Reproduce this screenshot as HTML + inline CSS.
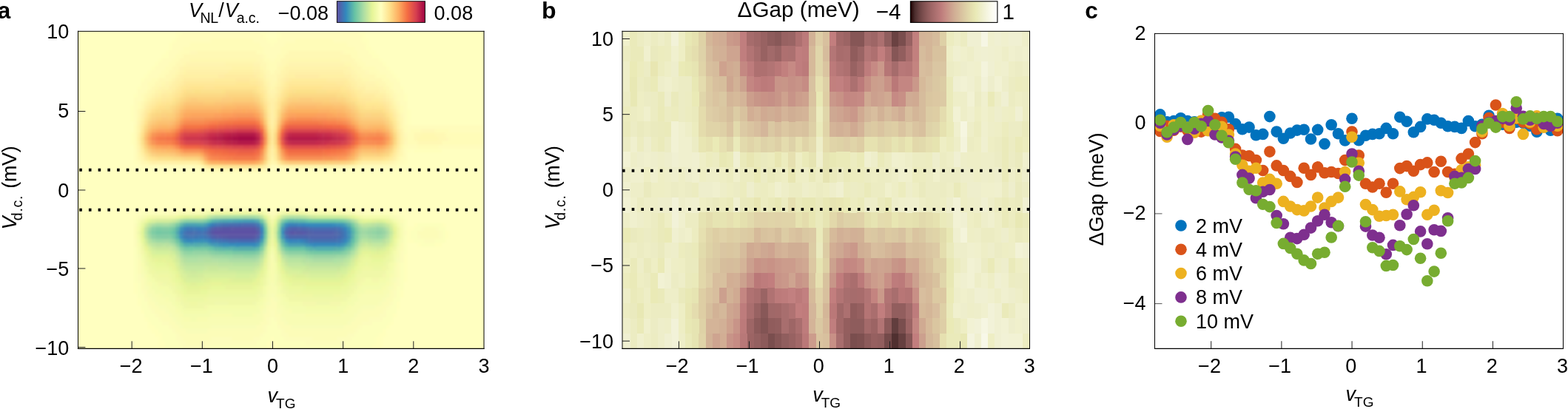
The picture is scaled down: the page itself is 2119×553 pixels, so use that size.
<!DOCTYPE html>
<html lang="en">
<head>
<meta charset="utf-8">
<title>Figure</title>
<style>
html,body{margin:0;padding:0;background:#fff;}
body{width:2119px;height:553px;overflow:hidden;}
svg{display:block;font-family:"Liberation Sans",sans-serif;}
text{fill:#000;}
</style>
</head>
<body>
<svg width="2119" height="553" viewBox="0 0 2119 553" font-size="27">
<defs><clipPath id="ca"><rect x="105.4" y="42.0" width="548.7" height="429.3"/></clipPath><filter id="fa" x="-5%" y="-5%" width="110%" height="110%" color-interpolation-filters="sRGB"><feGaussianBlur stdDeviation="1.6"/></filter></defs>
<g clip-path="url(#ca)"><g filter="url(#fa)">
<rect x="95.4" y="32.0" width="568.7" height="225" fill="#ffffc0"/>
<rect x="95.4" y="257" width="568.7" height="224.3" fill="#ffffc0"/>
<path fill="#ffffbc" d="M237.6 41.8h9.9v5.7h-9.9zM351.2 41.8h9.9v5.7h-9.9zM374.8 41.8h5.1v5.7h-5.1zM483.6 41.8h9.9v5.7h-9.9zM237.6 47.1h5.1v5.7h-5.1zM355.9 47.1h5.1v5.7h-5.1zM374.8 47.1h5.1v5.7h-5.1zM488.3 47.1h5.1v5.7h-5.1zM232.9 52.4h5.1v5.7h-5.1zM360.6 52.4h14.6v5.7h-14.6zM488.3 52.4h9.9v5.7h-9.9zM228.2 57.7h5.1v5.7h-5.1zM365.4 57.7h5.1v5.7h-5.1zM493.1 57.7h5.1v5.7h-5.1zM228.2 63h5.1v5.7h-5.1zM493.1 63h9.9v5.7h-9.9zM223.5 68.3h5.1v5.7h-5.1zM497.8 68.3h9.9v5.7h-9.9zM218.7 73.6h9.9v5.7h-9.9zM502.5 73.6h9.9v5.7h-9.9zM214 78.9h5.1v5.7h-5.1zM512 78.9h5.1v5.7h-5.1zM209.3 84.2h5.1v5.7h-5.1zM516.7 84.2h5.1v5.7h-5.1zM204.5 89.5h5.1v5.7h-5.1zM521.5 89.5h5.1v5.7h-5.1zM199.8 94.8h5.1v5.7h-5.1zM526.2 94.8h5.1v5.7h-5.1zM195.1 100.1h5.1v5.7h-5.1zM530.9 100.1h5.1v5.7h-5.1zM190.3 105.4h5.1v5.7h-5.1zM535.6 105.4h5.1v5.7h-5.1zM185.6 116h5.1v5.7h-5.1zM540.4 116h5.1v5.7h-5.1zM180.9 126.6h5.1v5.7h-5.1zM545.1 126.6h5.1v5.7h-5.1zM545.1 131.9h5.1v5.7h-5.1zM176.2 142.5h5.1v5.7h-5.1zM176.2 147.8h5.1v5.7h-5.1zM549.8 147.8h5.1v5.7h-5.1zM176.2 153.1h5.1v5.7h-5.1zM549.8 153.1h5.1v5.7h-5.1zM176.2 158.4h5.1v5.7h-5.1zM549.8 158.4h5.1v5.7h-5.1zM549.8 163.7h5.1v5.7h-5.1zM176.2 179.6h5.1v5.7h-5.1zM176.2 184.9h5.1v5.7h-5.1zM176.2 190.2h5.1v5.7h-5.1zM549.8 200.8h5.1v5.7h-5.1zM559.3 200.8h38.2v5.7h-38.2zM180.9 216.7h5.1v5.7h-5.1zM545.1 216.7h5.1v5.7h-5.1zM535.6 222h5.1v5.7h-5.1zM247.1 280.3h28.8v5.7h-28.8zM360.6 280.3h5.1v5.7h-5.1zM370.1 280.3h5.1v5.7h-5.1zM422.1 280.3h52.4v5.7h-52.4zM530.9 285.6h5.1v5.7h-5.1zM180.9 290.9h5.1v5.7h-5.1zM559.3 301.5h5.1v5.7h-5.1zM597.1 301.5h5.1v5.7h-5.1zM549.8 306.8h9.9v5.7h-9.9zM549.8 312.1h5.1v5.7h-5.1zM601.9 312.1h5.1v5.7h-5.1zM549.8 317.4h5.1v5.7h-5.1zM601.9 317.4h5.1v5.7h-5.1zM549.8 322.7h9.9v5.7h-9.9zM564 328h5.1v5.7h-5.1zM587.7 328h9.9v5.7h-9.9zM545.1 343.9h5.1v5.7h-5.1zM545.1 349.2h5.1v5.7h-5.1zM545.1 354.5h5.1v5.7h-5.1zM545.1 359.8h5.1v5.7h-5.1zM545.1 365.1h5.1v5.7h-5.1zM545.1 370.4h5.1v5.7h-5.1zM545.1 375.7h5.1v5.7h-5.1zM180.9 381h5.1v5.7h-5.1zM180.9 386.3h5.1v5.7h-5.1zM180.9 391.6h5.1v5.7h-5.1zM540.4 391.6h5.1v5.7h-5.1zM540.4 396.9h5.1v5.7h-5.1zM185.6 402.2h5.1v5.7h-5.1zM185.6 407.5h5.1v5.7h-5.1zM535.6 407.5h5.1v5.7h-5.1zM535.6 412.8h5.1v5.7h-5.1zM190.3 418.1h5.1v5.7h-5.1zM530.9 423.4h5.1v5.7h-5.1zM195.1 428.7h5.1v5.7h-5.1zM199.8 434h5.1v5.7h-5.1zM526.2 434h5.1v5.7h-5.1zM199.8 439.3h9.9v5.7h-9.9zM521.5 439.3h5.1v5.7h-5.1zM204.5 444.6h9.9v5.7h-9.9zM516.7 444.6h5.1v5.7h-5.1zM209.3 449.9h9.9v5.7h-9.9zM512 449.9h9.9v5.7h-9.9zM214 455.2h5.1v5.7h-5.1zM365.4 455.2h5.1v5.7h-5.1zM507.3 455.2h9.9v5.7h-9.9zM214 460.5h9.9v5.7h-9.9zM360.6 460.5h14.6v5.7h-14.6zM507.3 460.5h9.9v5.7h-9.9zM214 465.8h9.9v5.7h-9.9zM360.6 465.8h14.6v5.7h-14.6zM502.5 465.8h14.6v5.7h-14.6z"/>
<path fill="#fffcbc" d="M247.1 41.8h104.5v5.7h-104.5zM379.6 41.8h104.5v5.7h-104.5zM242.4 47.1h113.9v5.7h-113.9zM379.6 47.1h109.2v5.7h-109.2zM237.6 52.4h47.7v5.7h-47.7zM341.7 52.4h19.3v5.7h-19.3zM374.8 52.4h24.1v5.7h-24.1zM450.5 52.4h38.2v5.7h-38.2zM232.9 57.7h24.1v5.7h-24.1zM351.2 57.7h14.6v5.7h-14.6zM370.1 57.7h14.6v5.7h-14.6zM469.4 57.7h24.1v5.7h-24.1zM232.9 63h14.6v5.7h-14.6zM355.9 63h24.1v5.7h-24.1zM478.9 63h14.6v5.7h-14.6zM228.2 68.3h14.6v5.7h-14.6zM355.9 68.3h24.1v5.7h-24.1zM483.6 68.3h14.6v5.7h-14.6zM228.2 73.6h9.9v5.7h-9.9zM360.6 73.6h14.6v5.7h-14.6zM483.6 73.6h19.3v5.7h-19.3zM218.7 78.9h14.6v5.7h-14.6zM365.4 78.9h5.1v5.7h-5.1zM488.3 78.9h24.1v5.7h-24.1zM214 84.2h14.6v5.7h-14.6zM493.1 84.2h24.1v5.7h-24.1zM209.3 89.5h14.6v5.7h-14.6zM507.3 89.5h14.6v5.7h-14.6zM204.5 94.8h14.6v5.7h-14.6zM512 94.8h14.6v5.7h-14.6zM199.8 100.1h14.6v5.7h-14.6zM521.5 100.1h9.9v5.7h-9.9zM195.1 105.4h9.9v5.7h-9.9zM526.2 105.4h9.9v5.7h-9.9zM190.3 110.7h9.9v5.7h-9.9zM530.9 110.7h9.9v5.7h-9.9zM190.3 116h9.9v5.7h-9.9zM530.9 116h9.9v5.7h-9.9zM185.6 121.3h9.9v5.7h-9.9zM535.6 121.3h9.9v5.7h-9.9zM185.6 126.6h5.1v5.7h-5.1zM540.4 126.6h5.1v5.7h-5.1zM180.9 131.9h9.9v5.7h-9.9zM540.4 131.9h5.1v5.7h-5.1zM180.9 137.2h5.1v5.7h-5.1zM540.4 137.2h9.9v5.7h-9.9zM180.9 142.5h5.1v5.7h-5.1zM545.1 142.5h5.1v5.7h-5.1zM180.9 147.8h5.1v5.7h-5.1zM545.1 147.8h5.1v5.7h-5.1zM180.9 153.1h5.1v5.7h-5.1zM545.1 153.1h5.1v5.7h-5.1zM180.9 158.4h5.1v5.7h-5.1zM545.1 158.4h5.1v5.7h-5.1zM180.9 163.7h5.1v5.7h-5.1zM545.1 163.7h5.1v5.7h-5.1zM549.8 169h104.5v5.7h-104.5zM549.8 174.3h5.1v5.7h-5.1zM606.6 174.3h47.7v5.7h-47.7zM549.8 195.5h14.6v5.7h-14.6zM592.4 195.5h61.9v5.7h-61.9zM180.9 200.8h5.1v5.7h-5.1zM545.1 200.8h5.1v5.7h-5.1zM180.9 206.1h5.1v5.7h-5.1zM545.1 206.1h5.1v5.7h-5.1zM180.9 211.4h5.1v5.7h-5.1zM545.1 211.4h5.1v5.7h-5.1zM185.6 216.7h5.1v5.7h-5.1zM540.4 216.7h5.1v5.7h-5.1zM190.3 222h71.4v5.7h-71.4zM365.4 222h9.9v5.7h-9.9zM488.3 222h47.7v5.7h-47.7zM270.8 227.3h9.9v5.7h-9.9zM355.9 227.3h9.9v5.7h-9.9z"/>
<path fill="#fffcb8" d="M284.9 52.4h57.2v5.7h-57.2zM398.5 52.4h52.4v5.7h-52.4zM256.6 57.7h95v5.7h-95zM384.3 57.7h85.5v5.7h-85.5zM247.1 63h109.2v5.7h-109.2zM379.6 63h99.7v5.7h-99.7zM242.4 68.3h14.6v5.7h-14.6zM346.4 68.3h9.9v5.7h-9.9zM379.6 68.3h9.9v5.7h-9.9zM464.7 68.3h19.3v5.7h-19.3zM237.6 73.6h9.9v5.7h-9.9zM355.9 73.6h5.1v5.7h-5.1zM374.8 73.6h9.9v5.7h-9.9zM474.2 73.6h9.9v5.7h-9.9zM232.9 78.9h9.9v5.7h-9.9zM355.9 78.9h9.9v5.7h-9.9zM370.1 78.9h9.9v5.7h-9.9zM478.9 78.9h9.9v5.7h-9.9zM228.2 84.2h9.9v5.7h-9.9zM360.6 84.2h14.6v5.7h-14.6zM483.6 84.2h9.9v5.7h-9.9zM223.5 89.5h9.9v5.7h-9.9zM360.6 89.5h14.6v5.7h-14.6zM488.3 89.5h19.3v5.7h-19.3zM218.7 94.8h9.9v5.7h-9.9zM365.4 94.8h5.1v5.7h-5.1zM497.8 94.8h14.6v5.7h-14.6zM214 100.1h9.9v5.7h-9.9zM507.3 100.1h14.6v5.7h-14.6zM204.5 105.4h9.9v5.7h-9.9zM516.7 105.4h9.9v5.7h-9.9zM199.8 110.7h9.9v5.7h-9.9zM521.5 110.7h9.9v5.7h-9.9zM199.8 116h5.1v5.7h-5.1zM526.2 116h5.1v5.7h-5.1zM195.1 121.3h5.1v5.7h-5.1zM530.9 121.3h5.1v5.7h-5.1zM190.3 126.6h5.1v5.7h-5.1zM535.6 126.6h5.1v5.7h-5.1zM190.3 131.9h5.1v5.7h-5.1zM535.6 131.9h5.1v5.7h-5.1zM185.6 137.2h5.1v5.7h-5.1zM185.6 142.5h5.1v5.7h-5.1zM540.4 142.5h5.1v5.7h-5.1zM540.4 147.8h5.1v5.7h-5.1zM180.9 169h5.1v5.7h-5.1zM545.1 169h5.1v5.7h-5.1zM180.9 174.3h5.1v5.7h-5.1zM545.1 174.3h5.1v5.7h-5.1zM554.6 174.3h14.6v5.7h-14.6zM587.7 174.3h19.3v5.7h-19.3zM180.9 179.6h5.1v5.7h-5.1zM549.8 179.6h9.9v5.7h-9.9zM601.9 179.6h52.4v5.7h-52.4zM180.9 184.9h5.1v5.7h-5.1zM549.8 184.9h9.9v5.7h-9.9zM606.6 184.9h47.7v5.7h-47.7zM180.9 190.2h5.1v5.7h-5.1zM549.8 190.2h14.6v5.7h-14.6zM597.1 190.2h57.2v5.7h-57.2zM180.9 195.5h5.1v5.7h-5.1zM545.1 195.5h5.1v5.7h-5.1zM564 195.5h28.8v5.7h-28.8zM540.4 211.4h5.1v5.7h-5.1zM535.6 216.7h5.1v5.7h-5.1zM261.3 222h9.9v5.7h-9.9zM483.6 222h5.1v5.7h-5.1zM280.2 227.3h76.1v5.7h-76.1z"/>
<path fill="#fff8b8" d="M256.6 68.3h9.9v5.7h-9.9zM460 68.3h5.1v5.7h-5.1zM351.2 73.6h5.1v5.7h-5.1zM374.8 84.2h5.1v5.7h-5.1zM493.1 94.8h5.1v5.7h-5.1zM530.9 126.6h5.1v5.7h-5.1zM535.6 137.2h5.1v5.7h-5.1zM540.4 153.1h5.1v5.7h-5.1zM568.8 174.3h19.3v5.7h-19.3zM545.1 179.6h5.1v5.7h-5.1zM601.9 184.9h5.1v5.7h-5.1zM545.1 190.2h5.1v5.7h-5.1z"/>
<path fill="#fff8b4" d="M266 68.3h80.8v5.7h-80.8zM389 68.3h71.4v5.7h-71.4zM247.1 73.6h104.5v5.7h-104.5zM384.3 73.6h90.3v5.7h-90.3zM242.4 78.9h14.6v5.7h-14.6zM346.4 78.9h9.9v5.7h-9.9zM379.6 78.9h9.9v5.7h-9.9zM460 78.9h19.3v5.7h-19.3zM237.6 84.2h9.9v5.7h-9.9zM351.2 84.2h9.9v5.7h-9.9zM379.6 84.2h5.1v5.7h-5.1zM474.2 84.2h9.9v5.7h-9.9zM232.9 89.5h9.9v5.7h-9.9zM355.9 89.5h5.1v5.7h-5.1zM374.8 89.5h5.1v5.7h-5.1zM478.9 89.5h9.9v5.7h-9.9zM228.2 94.8h9.9v5.7h-9.9zM360.6 94.8h5.1v5.7h-5.1zM370.1 94.8h9.9v5.7h-9.9zM483.6 94.8h9.9v5.7h-9.9zM223.5 100.1h9.9v5.7h-9.9zM360.6 100.1h14.6v5.7h-14.6zM488.3 100.1h19.3v5.7h-19.3zM214 105.4h14.6v5.7h-14.6zM365.4 105.4h9.9v5.7h-9.9zM497.8 105.4h19.3v5.7h-19.3zM209.3 110.7h9.9v5.7h-9.9zM365.4 110.7h5.1v5.7h-5.1zM512 110.7h9.9v5.7h-9.9zM204.5 116h5.1v5.7h-5.1zM521.5 116h5.1v5.7h-5.1zM199.8 121.3h5.1v5.7h-5.1zM526.2 121.3h5.1v5.7h-5.1zM195.1 126.6h5.1v5.7h-5.1zM530.9 131.9h5.1v5.7h-5.1zM190.3 137.2h5.1v5.7h-5.1zM535.6 142.5h5.1v5.7h-5.1zM185.6 147.8h5.1v5.7h-5.1zM185.6 153.1h5.1v5.7h-5.1zM540.4 158.4h5.1v5.7h-5.1zM540.4 163.7h5.1v5.7h-5.1zM540.4 169h5.1v5.7h-5.1zM559.3 179.6h9.9v5.7h-9.9zM587.7 179.6h14.6v5.7h-14.6zM545.1 184.9h5.1v5.7h-5.1zM559.3 184.9h5.1v5.7h-5.1zM592.4 184.9h9.9v5.7h-9.9zM564 190.2h33.5v5.7h-33.5zM540.4 200.8h5.1v5.7h-5.1zM540.4 206.1h5.1v5.7h-5.1zM185.6 211.4h5.1v5.7h-5.1zM190.3 216.7h5.1v5.7h-5.1zM530.9 216.7h5.1v5.7h-5.1zM360.6 222h5.1v5.7h-5.1zM374.8 222h5.1v5.7h-5.1zM474.2 222h9.9v5.7h-9.9z"/>
<path fill="#fff8b0" d="M256.6 78.9h90.3v5.7h-90.3zM389 78.9h71.4v5.7h-71.4zM247.1 84.2h5.1v5.7h-5.1zM384.3 84.2h5.1v5.7h-5.1zM464.7 84.2h9.9v5.7h-9.9zM351.2 89.5h5.1v5.7h-5.1zM379.6 89.5h5.1v5.7h-5.1zM474.2 89.5h5.1v5.7h-5.1zM237.6 94.8h5.1v5.7h-5.1zM355.9 94.8h5.1v5.7h-5.1zM478.9 94.8h5.1v5.7h-5.1zM232.9 100.1h5.1v5.7h-5.1zM483.6 100.1h5.1v5.7h-5.1zM228.2 105.4h5.1v5.7h-5.1zM360.6 105.4h5.1v5.7h-5.1zM488.3 105.4h9.9v5.7h-9.9zM218.7 110.7h5.1v5.7h-5.1zM370.1 110.7h5.1v5.7h-5.1zM507.3 110.7h5.1v5.7h-5.1zM209.3 116h5.1v5.7h-5.1zM365.4 116h5.1v5.7h-5.1zM516.7 116h5.1v5.7h-5.1zM204.5 121.3h5.1v5.7h-5.1zM521.5 121.3h5.1v5.7h-5.1zM199.8 126.6h5.1v5.7h-5.1zM526.2 126.6h5.1v5.7h-5.1zM195.1 131.9h5.1v5.7h-5.1zM530.9 137.2h5.1v5.7h-5.1zM190.3 142.5h5.1v5.7h-5.1zM535.6 147.8h5.1v5.7h-5.1zM185.6 158.4h5.1v5.7h-5.1zM568.8 179.6h19.3v5.7h-19.3zM564 184.9h28.8v5.7h-28.8zM540.4 195.5h5.1v5.7h-5.1zM185.6 206.1h5.1v5.7h-5.1zM535.6 211.4h5.1v5.7h-5.1zM195.1 216.7h5.1v5.7h-5.1zM365.4 216.7h5.1v5.7h-5.1zM270.8 222h5.1v5.7h-5.1zM379.6 222h5.1v5.7h-5.1zM469.4 222h5.1v5.7h-5.1z"/>
<path fill="#fff4b0" d="M251.8 84.2h52.4v5.7h-52.4zM341.7 84.2h9.9v5.7h-9.9zM389 84.2h76.1v5.7h-76.1zM242.4 89.5h5.1v5.7h-5.1zM469.4 89.5h5.1v5.7h-5.1zM474.2 94.8h5.1v5.7h-5.1zM355.9 100.1h5.1v5.7h-5.1zM374.8 100.1h5.1v5.7h-5.1zM478.9 100.1h5.1v5.7h-5.1zM223.5 110.7h5.1v5.7h-5.1zM360.6 110.7h5.1v5.7h-5.1zM493.1 110.7h14.6v5.7h-14.6zM214 116h5.1v5.7h-5.1zM512 116h5.1v5.7h-5.1zM365.4 121.3h5.1v5.7h-5.1zM185.6 163.7h5.1v5.7h-5.1zM540.4 174.3h5.1v5.7h-5.1zM185.6 200.8h5.1v5.7h-5.1zM526.2 216.7h5.1v5.7h-5.1zM384.3 222h5.1v5.7h-5.1zM455.2 222h14.6v5.7h-14.6z"/>
<path fill="#fff4ac" d="M303.9 84.2h38.2v5.7h-38.2zM247.1 89.5h66.6v5.7h-66.6zM341.7 89.5h9.9v5.7h-9.9zM384.3 89.5h85.5v5.7h-85.5zM242.4 94.8h5.1v5.7h-5.1zM351.2 94.8h5.1v5.7h-5.1zM379.6 94.8h9.9v5.7h-9.9zM464.7 94.8h9.9v5.7h-9.9zM237.6 100.1h5.1v5.7h-5.1zM379.6 100.1h5.1v5.7h-5.1zM474.2 100.1h5.1v5.7h-5.1zM232.9 105.4h5.1v5.7h-5.1zM355.9 105.4h5.1v5.7h-5.1zM374.8 105.4h5.1v5.7h-5.1zM478.9 105.4h9.9v5.7h-9.9zM228.2 110.7h5.1v5.7h-5.1zM374.8 110.7h5.1v5.7h-5.1zM483.6 110.7h9.9v5.7h-9.9zM218.7 116h9.9v5.7h-9.9zM360.6 116h5.1v5.7h-5.1zM370.1 116h5.1v5.7h-5.1zM493.1 116h19.3v5.7h-19.3zM209.3 121.3h5.1v5.7h-5.1zM360.6 121.3h5.1v5.7h-5.1zM370.1 121.3h5.1v5.7h-5.1zM512 121.3h9.9v5.7h-9.9zM204.5 126.6h5.1v5.7h-5.1zM365.4 126.6h5.1v5.7h-5.1zM521.5 126.6h5.1v5.7h-5.1zM199.8 131.9h5.1v5.7h-5.1zM526.2 131.9h5.1v5.7h-5.1zM195.1 137.2h5.1v5.7h-5.1zM530.9 142.5h5.1v5.7h-5.1zM190.3 147.8h5.1v5.7h-5.1zM535.6 153.1h5.1v5.7h-5.1zM535.6 158.4h5.1v5.7h-5.1zM185.6 169h5.1v5.7h-5.1zM185.6 174.3h5.1v5.7h-5.1zM540.4 179.6h5.1v5.7h-5.1zM540.4 184.9h5.1v5.7h-5.1zM540.4 190.2h5.1v5.7h-5.1zM185.6 195.5h5.1v5.7h-5.1zM535.6 206.1h5.1v5.7h-5.1zM190.3 211.4h5.1v5.7h-5.1zM365.4 211.4h5.1v5.7h-5.1zM199.8 216.7h5.1v5.7h-5.1zM370.1 216.7h5.1v5.7h-5.1zM521.5 216.7h5.1v5.7h-5.1zM389 222h66.6v5.7h-66.6z"/>
<path fill="#fff4a8" d="M313.3 89.5h28.8v5.7h-28.8zM247.1 94.8h5.1v5.7h-5.1zM351.2 100.1h5.1v5.7h-5.1zM355.9 110.7h5.1v5.7h-5.1zM214 121.3h5.1v5.7h-5.1zM516.7 216.7h5.1v5.7h-5.1z"/>
<path fill="#fff0a8" d="M251.8 94.8h57.2v5.7h-57.2zM341.7 94.8h9.9v5.7h-9.9zM389 94.8h76.1v5.7h-76.1zM242.4 100.1h5.1v5.7h-5.1zM384.3 100.1h5.1v5.7h-5.1zM464.7 100.1h9.9v5.7h-9.9zM237.6 105.4h5.1v5.7h-5.1zM379.6 105.4h5.1v5.7h-5.1zM474.2 105.4h5.1v5.7h-5.1zM232.9 110.7h5.1v5.7h-5.1zM478.9 110.7h5.1v5.7h-5.1zM228.2 116h5.1v5.7h-5.1zM374.8 116h5.1v5.7h-5.1zM483.6 116h9.9v5.7h-9.9zM218.7 121.3h5.1v5.7h-5.1zM493.1 121.3h19.3v5.7h-19.3zM209.3 126.6h5.1v5.7h-5.1zM360.6 126.6h5.1v5.7h-5.1zM370.1 126.6h5.1v5.7h-5.1zM516.7 126.6h5.1v5.7h-5.1zM365.4 131.9h5.1v5.7h-5.1zM521.5 131.9h5.1v5.7h-5.1zM365.4 137.2h5.1v5.7h-5.1zM526.2 137.2h5.1v5.7h-5.1zM195.1 142.5h5.1v5.7h-5.1zM365.4 142.5h5.1v5.7h-5.1zM365.4 147.8h5.1v5.7h-5.1zM530.9 147.8h5.1v5.7h-5.1zM190.3 153.1h5.1v5.7h-5.1zM365.4 153.1h5.1v5.7h-5.1zM365.4 158.4h5.1v5.7h-5.1zM365.4 163.7h5.1v5.7h-5.1zM535.6 163.7h5.1v5.7h-5.1zM185.6 179.6h5.1v5.7h-5.1zM185.6 190.2h5.1v5.7h-5.1zM365.4 200.8h5.1v5.7h-5.1zM535.6 200.8h5.1v5.7h-5.1zM365.4 206.1h5.1v5.7h-5.1zM530.9 211.4h5.1v5.7h-5.1zM204.5 216.7h33.5v5.7h-33.5zM488.3 216.7h28.8v5.7h-28.8zM355.9 222h5.1v5.7h-5.1z"/>
<path fill="#fff0a4" d="M308.6 94.8h33.5v5.7h-33.5zM247.1 100.1h47.7v5.7h-47.7zM346.4 100.1h5.1v5.7h-5.1zM389 100.1h9.9v5.7h-9.9zM431.6 100.1h33.5v5.7h-33.5zM242.4 105.4h5.1v5.7h-5.1zM351.2 105.4h5.1v5.7h-5.1zM469.4 105.4h5.1v5.7h-5.1zM237.6 110.7h5.1v5.7h-5.1zM379.6 110.7h5.1v5.7h-5.1zM474.2 110.7h5.1v5.7h-5.1zM232.9 116h5.1v5.7h-5.1zM355.9 116h5.1v5.7h-5.1zM478.9 116h5.1v5.7h-5.1zM223.5 121.3h9.9v5.7h-9.9zM374.8 121.3h5.1v5.7h-5.1zM488.3 121.3h5.1v5.7h-5.1zM214 126.6h5.1v5.7h-5.1zM507.3 126.6h9.9v5.7h-9.9zM204.5 131.9h5.1v5.7h-5.1zM360.6 131.9h5.1v5.7h-5.1zM370.1 131.9h5.1v5.7h-5.1zM199.8 137.2h5.1v5.7h-5.1zM526.2 142.5h5.1v5.7h-5.1zM190.3 158.4h5.1v5.7h-5.1zM365.4 169h5.1v5.7h-5.1zM535.6 169h5.1v5.7h-5.1zM185.6 184.9h5.1v5.7h-5.1zM190.3 206.1h5.1v5.7h-5.1zM237.6 216.7h28.8v5.7h-28.8zM360.6 216.7h5.1v5.7h-5.1zM275.5 222h5.1v5.7h-5.1z"/>
<path fill="#ffeca4" d="M294.4 100.1h9.9v5.7h-9.9zM341.7 100.1h5.1v5.7h-5.1zM398.5 100.1h33.5v5.7h-33.5zM384.3 105.4h5.1v5.7h-5.1zM516.7 131.9h5.1v5.7h-5.1zM530.9 153.1h5.1v5.7h-5.1zM365.4 195.5h5.1v5.7h-5.1z"/>
<path fill="#ffeca0" d="M303.9 100.1h38.2v5.7h-38.2zM247.1 105.4h43v5.7h-43zM346.4 105.4h5.1v5.7h-5.1zM389 105.4h5.1v5.7h-5.1zM441 105.4h28.8v5.7h-28.8zM242.4 110.7h5.1v5.7h-5.1zM351.2 110.7h5.1v5.7h-5.1zM469.4 110.7h5.1v5.7h-5.1zM237.6 116h5.1v5.7h-5.1zM379.6 116h5.1v5.7h-5.1zM474.2 116h5.1v5.7h-5.1zM232.9 121.3h5.1v5.7h-5.1zM355.9 121.3h5.1v5.7h-5.1zM483.6 121.3h5.1v5.7h-5.1zM218.7 126.6h9.9v5.7h-9.9zM374.8 126.6h5.1v5.7h-5.1zM488.3 126.6h19.3v5.7h-19.3zM209.3 131.9h5.1v5.7h-5.1zM512 131.9h5.1v5.7h-5.1zM204.5 137.2h5.1v5.7h-5.1zM360.6 137.2h5.1v5.7h-5.1zM370.1 137.2h5.1v5.7h-5.1zM521.5 137.2h5.1v5.7h-5.1zM199.8 142.5h5.1v5.7h-5.1zM360.6 142.5h5.1v5.7h-5.1zM370.1 142.5h5.1v5.7h-5.1zM195.1 147.8h5.1v5.7h-5.1zM190.3 163.7h5.1v5.7h-5.1zM365.4 174.3h5.1v5.7h-5.1zM535.6 174.3h5.1v5.7h-5.1zM535.6 195.5h5.1v5.7h-5.1zM530.9 206.1h5.1v5.7h-5.1zM195.1 211.4h5.1v5.7h-5.1zM266 216.7h5.1v5.7h-5.1zM483.6 216.7h5.1v5.7h-5.1z"/>
<path fill="#ffec9c" d="M289.7 105.4h28.8v5.7h-28.8zM337 105.4h9.9v5.7h-9.9zM393.7 105.4h47.7v5.7h-47.7zM384.3 110.7h5.1v5.7h-5.1zM464.7 110.7h5.1v5.7h-5.1zM351.2 116h5.1v5.7h-5.1zM478.9 121.3h5.1v5.7h-5.1zM228.2 126.6h5.1v5.7h-5.1zM355.9 126.6h5.1v5.7h-5.1zM483.6 126.6h5.1v5.7h-5.1zM214 131.9h5.1v5.7h-5.1zM502.5 131.9h9.9v5.7h-9.9zM360.6 147.8h5.1v5.7h-5.1zM370.1 147.8h5.1v5.7h-5.1zM526.2 147.8h5.1v5.7h-5.1zM370.1 153.1h5.1v5.7h-5.1zM530.9 158.4h5.1v5.7h-5.1zM365.4 179.6h5.1v5.7h-5.1zM365.4 190.2h5.1v5.7h-5.1zM190.3 200.8h5.1v5.7h-5.1zM370.1 211.4h5.1v5.7h-5.1zM526.2 211.4h5.1v5.7h-5.1zM351.2 222h5.1v5.7h-5.1z"/>
<path fill="#ffe89c" d="M318.1 105.4h19.3v5.7h-19.3zM247.1 110.7h5.1v5.7h-5.1zM346.4 110.7h5.1v5.7h-5.1zM455.2 110.7h9.9v5.7h-9.9zM469.4 116h5.1v5.7h-5.1zM218.7 131.9h5.1v5.7h-5.1zM493.1 131.9h9.9v5.7h-9.9zM516.7 137.2h5.1v5.7h-5.1zM521.5 142.5h5.1v5.7h-5.1zM195.1 153.1h5.1v5.7h-5.1zM360.6 153.1h5.1v5.7h-5.1zM370.1 158.4h5.1v5.7h-5.1zM535.6 179.6h5.1v5.7h-5.1zM365.4 184.9h5.1v5.7h-5.1zM535.6 190.2h5.1v5.7h-5.1zM280.2 222h5.1v5.7h-5.1z"/>
<path fill="#ffe898" d="M251.8 110.7h66.6v5.7h-66.6zM337 110.7h9.9v5.7h-9.9zM389 110.7h66.6v5.7h-66.6zM242.4 116h5.1v5.7h-5.1zM384.3 116h5.1v5.7h-5.1zM464.7 116h5.1v5.7h-5.1zM237.6 121.3h5.1v5.7h-5.1zM351.2 121.3h5.1v5.7h-5.1zM379.6 121.3h5.1v5.7h-5.1zM474.2 121.3h5.1v5.7h-5.1zM232.9 126.6h5.1v5.7h-5.1zM478.9 126.6h5.1v5.7h-5.1zM223.5 131.9h9.9v5.7h-9.9zM355.9 131.9h5.1v5.7h-5.1zM374.8 131.9h5.1v5.7h-5.1zM483.6 131.9h9.9v5.7h-9.9zM209.3 137.2h5.1v5.7h-5.1zM512 137.2h5.1v5.7h-5.1zM204.5 142.5h5.1v5.7h-5.1zM199.8 147.8h5.1v5.7h-5.1zM360.6 158.4h5.1v5.7h-5.1zM360.6 163.7h5.1v5.7h-5.1zM370.1 163.7h5.1v5.7h-5.1zM530.9 163.7h5.1v5.7h-5.1zM190.3 169h5.1v5.7h-5.1zM535.6 184.9h5.1v5.7h-5.1zM530.9 200.8h5.1v5.7h-5.1zM360.6 206.1h5.1v5.7h-5.1zM370.1 206.1h5.1v5.7h-5.1zM360.6 211.4h5.1v5.7h-5.1zM374.8 216.7h5.1v5.7h-5.1zM284.9 222h9.9v5.7h-9.9z"/>
<path fill="#ffe894" d="M318.1 110.7h19.3v5.7h-19.3zM247.1 116h5.1v5.7h-5.1zM346.4 116h5.1v5.7h-5.1zM460 116h5.1v5.7h-5.1zM214 137.2h5.1v5.7h-5.1zM493.1 137.2h19.3v5.7h-19.3zM526.2 153.1h5.1v5.7h-5.1zM370.1 200.8h5.1v5.7h-5.1zM199.8 211.4h5.1v5.7h-5.1zM521.5 211.4h5.1v5.7h-5.1zM478.9 216.7h5.1v5.7h-5.1zM294.4 222h5.1v5.7h-5.1zM346.4 222h5.1v5.7h-5.1z"/>
<path fill="#ffe494" d="M251.8 116h5.1v5.7h-5.1zM275.5 116h14.6v5.7h-14.6zM389 116h5.1v5.7h-5.1zM436.3 116h24.1v5.7h-24.1zM242.4 121.3h5.1v5.7h-5.1zM469.4 121.3h5.1v5.7h-5.1zM237.6 126.6h5.1v5.7h-5.1zM379.6 126.6h5.1v5.7h-5.1zM474.2 126.6h5.1v5.7h-5.1zM218.7 137.2h5.1v5.7h-5.1zM355.9 137.2h5.1v5.7h-5.1zM374.8 137.2h5.1v5.7h-5.1zM488.3 137.2h5.1v5.7h-5.1zM516.7 142.5h5.1v5.7h-5.1zM521.5 147.8h5.1v5.7h-5.1zM195.1 158.4h5.1v5.7h-5.1zM370.1 169h5.1v5.7h-5.1zM530.9 169h5.1v5.7h-5.1zM190.3 174.3h5.1v5.7h-5.1zM190.3 195.5h5.1v5.7h-5.1zM360.6 200.8h5.1v5.7h-5.1zM195.1 206.1h5.1v5.7h-5.1zM299.1 222h47.7v5.7h-47.7z"/>
<path fill="#ffe490" d="M256.6 116h19.3v5.7h-19.3zM289.7 116h57.2v5.7h-57.2zM393.7 116h43v5.7h-43zM346.4 121.3h5.1v5.7h-5.1zM384.3 121.3h5.1v5.7h-5.1zM460 121.3h9.9v5.7h-9.9zM351.2 126.6h5.1v5.7h-5.1zM232.9 131.9h5.1v5.7h-5.1zM478.9 131.9h5.1v5.7h-5.1zM223.5 137.2h9.9v5.7h-9.9zM483.6 137.2h5.1v5.7h-5.1zM209.3 142.5h5.1v5.7h-5.1zM374.8 142.5h5.1v5.7h-5.1zM493.1 142.5h9.9v5.7h-9.9zM507.3 142.5h9.9v5.7h-9.9zM526.2 158.4h5.1v5.7h-5.1zM360.6 169h5.1v5.7h-5.1zM526.2 206.1h5.1v5.7h-5.1zM204.5 211.4h5.1v5.7h-5.1zM516.7 211.4h5.1v5.7h-5.1zM270.8 216.7h5.1v5.7h-5.1z"/>
<path fill="#ffe08c" d="M247.1 121.3h5.1v5.7h-5.1zM389 121.3h5.1v5.7h-5.1zM441 121.3h19.3v5.7h-19.3zM242.4 126.6h5.1v5.7h-5.1zM469.4 126.6h5.1v5.7h-5.1zM379.6 131.9h5.1v5.7h-5.1zM474.2 131.9h5.1v5.7h-5.1zM214 142.5h9.9v5.7h-9.9zM355.9 142.5h5.1v5.7h-5.1zM488.3 142.5h5.1v5.7h-5.1zM204.5 147.8h5.1v5.7h-5.1zM516.7 147.8h5.1v5.7h-5.1zM199.8 153.1h5.1v5.7h-5.1zM521.5 153.1h5.1v5.7h-5.1zM195.1 163.7h5.1v5.7h-5.1zM370.1 174.3h5.1v5.7h-5.1zM530.9 174.3h5.1v5.7h-5.1zM190.3 179.6h5.1v5.7h-5.1zM360.6 195.5h5.1v5.7h-5.1zM370.1 195.5h5.1v5.7h-5.1zM530.9 195.5h5.1v5.7h-5.1zM209.3 211.4h5.1v5.7h-5.1zM488.3 211.4h28.8v5.7h-28.8z"/>
<path fill="#fce08c" d="M251.8 121.3h9.9v5.7h-9.9zM270.8 121.3h28.8v5.7h-28.8zM341.7 121.3h5.1v5.7h-5.1zM393.7 121.3h5.1v5.7h-5.1zM426.9 121.3h14.6v5.7h-14.6zM384.3 126.6h5.1v5.7h-5.1zM464.7 126.6h5.1v5.7h-5.1zM237.6 131.9h5.1v5.7h-5.1zM351.2 131.9h5.1v5.7h-5.1zM232.9 137.2h5.1v5.7h-5.1zM478.9 137.2h5.1v5.7h-5.1zM223.5 142.5h5.1v5.7h-5.1zM190.3 190.2h5.1v5.7h-5.1zM214 211.4h9.9v5.7h-9.9z"/>
<path fill="#fce088" d="M261.3 121.3h9.9v5.7h-9.9zM299.1 121.3h5.1v5.7h-5.1zM398.5 121.3h28.8v5.7h-28.8zM483.6 142.5h5.1v5.7h-5.1zM360.6 174.3h5.1v5.7h-5.1zM223.5 211.4h9.9v5.7h-9.9z"/>
<path fill="#fcdc88" d="M303.9 121.3h38.2v5.7h-38.2zM247.1 126.6h5.1v5.7h-5.1zM346.4 126.6h5.1v5.7h-5.1zM455.2 126.6h9.9v5.7h-9.9zM469.4 131.9h5.1v5.7h-5.1zM228.2 142.5h5.1v5.7h-5.1zM209.3 147.8h9.9v5.7h-9.9zM355.9 147.8h5.1v5.7h-5.1zM374.8 147.8h5.1v5.7h-5.1zM488.3 147.8h28.8v5.7h-28.8zM199.8 158.4h5.1v5.7h-5.1zM526.2 163.7h5.1v5.7h-5.1zM190.3 184.9h5.1v5.7h-5.1zM195.1 200.8h5.1v5.7h-5.1zM199.8 206.1h5.1v5.7h-5.1zM232.9 211.4h9.9v5.7h-9.9zM355.9 216.7h5.1v5.7h-5.1zM474.2 216.7h5.1v5.7h-5.1z"/>
<path fill="#fcd884" d="M251.8 126.6h52.4v5.7h-52.4zM341.7 126.6h5.1v5.7h-5.1zM393.7 126.6h61.9v5.7h-61.9zM242.4 131.9h5.1v5.7h-5.1zM384.3 131.9h5.1v5.7h-5.1zM464.7 131.9h5.1v5.7h-5.1zM237.6 137.2h5.1v5.7h-5.1zM351.2 137.2h5.1v5.7h-5.1zM379.6 137.2h5.1v5.7h-5.1zM474.2 137.2h5.1v5.7h-5.1zM232.9 142.5h5.1v5.7h-5.1zM478.9 142.5h5.1v5.7h-5.1zM218.7 147.8h14.6v5.7h-14.6zM483.6 147.8h5.1v5.7h-5.1zM204.5 153.1h5.1v5.7h-5.1zM374.8 153.1h5.1v5.7h-5.1zM516.7 153.1h5.1v5.7h-5.1zM521.5 158.4h5.1v5.7h-5.1zM195.1 169h5.1v5.7h-5.1zM360.6 179.6h5.1v5.7h-5.1zM370.1 179.6h5.1v5.7h-5.1zM530.9 179.6h5.1v5.7h-5.1zM370.1 184.9h5.1v5.7h-5.1zM360.6 190.2h5.1v5.7h-5.1zM370.1 190.2h5.1v5.7h-5.1zM530.9 190.2h5.1v5.7h-5.1zM526.2 200.8h5.1v5.7h-5.1zM521.5 206.1h5.1v5.7h-5.1zM242.4 211.4h5.1v5.7h-5.1zM483.6 211.4h5.1v5.7h-5.1zM379.6 216.7h5.1v5.7h-5.1z"/>
<path fill="#fcd484" d="M303.9 126.6h5.1v5.7h-5.1zM355.9 153.1h5.1v5.7h-5.1zM493.1 153.1h9.9v5.7h-9.9zM512 153.1h5.1v5.7h-5.1zM526.2 169h5.1v5.7h-5.1zM247.1 211.4h5.1v5.7h-5.1zM469.4 216.7h5.1v5.7h-5.1z"/>
<path fill="#fcd480" d="M308.6 126.6h33.5v5.7h-33.5zM247.1 131.9h5.1v5.7h-5.1zM346.4 131.9h5.1v5.7h-5.1zM455.2 131.9h9.9v5.7h-9.9zM469.4 137.2h5.1v5.7h-5.1zM209.3 153.1h9.9v5.7h-9.9zM488.3 153.1h5.1v5.7h-5.1zM502.5 153.1h9.9v5.7h-9.9zM360.6 184.9h5.1v5.7h-5.1zM530.9 184.9h5.1v5.7h-5.1zM516.7 206.1h5.1v5.7h-5.1zM251.8 211.4h14.6v5.7h-14.6z"/>
<path fill="#fcdc84" d="M389 126.6h5.1v5.7h-5.1z"/>
<path fill="#fcd07c" d="M251.8 131.9h5.1v5.7h-5.1zM266 131.9h33.5v5.7h-33.5zM341.7 131.9h5.1v5.7h-5.1zM393.7 131.9h9.9v5.7h-9.9zM422.1 131.9h24.1v5.7h-24.1zM242.4 137.2h5.1v5.7h-5.1zM384.3 137.2h5.1v5.7h-5.1zM464.7 137.2h5.1v5.7h-5.1zM237.6 142.5h5.1v5.7h-5.1zM351.2 142.5h5.1v5.7h-5.1zM478.9 147.8h5.1v5.7h-5.1zM223.5 153.1h9.9v5.7h-9.9zM483.6 153.1h5.1v5.7h-5.1zM355.9 158.4h5.1v5.7h-5.1zM195.1 174.3h5.1v5.7h-5.1zM195.1 195.5h5.1v5.7h-5.1zM488.3 206.1h19.3v5.7h-19.3zM512 206.1h5.1v5.7h-5.1zM460 216.7h5.1v5.7h-5.1z"/>
<path fill="#fccc7c" d="M256.6 131.9h9.9v5.7h-9.9zM299.1 131.9h14.6v5.7h-14.6zM403.2 131.9h19.3v5.7h-19.3zM209.3 158.4h5.1v5.7h-5.1zM488.3 158.4h28.8v5.7h-28.8zM526.2 195.5h5.1v5.7h-5.1zM199.8 200.8h5.1v5.7h-5.1zM521.5 200.8h5.1v5.7h-5.1zM209.3 206.1h5.1v5.7h-5.1zM507.3 206.1h5.1v5.7h-5.1zM384.3 216.7h5.1v5.7h-5.1zM450.5 216.7h9.9v5.7h-9.9z"/>
<path fill="#fccc78" d="M313.3 131.9h28.8v5.7h-28.8zM346.4 137.2h5.1v5.7h-5.1zM460 137.2h5.1v5.7h-5.1zM469.4 142.5h5.1v5.7h-5.1zM232.9 153.1h5.1v5.7h-5.1zM214 158.4h5.1v5.7h-5.1zM526.2 174.3h5.1v5.7h-5.1zM214 206.1h14.6v5.7h-14.6zM275.5 216.7h5.1v5.7h-5.1zM441 216.7h9.9v5.7h-9.9z"/>
<path fill="#fcd080" d="M389 131.9h5.1v5.7h-5.1zM445.8 131.9h9.9v5.7h-9.9zM379.6 142.5h5.1v5.7h-5.1zM474.2 142.5h5.1v5.7h-5.1zM232.9 147.8h5.1v5.7h-5.1zM218.7 153.1h5.1v5.7h-5.1zM204.5 158.4h5.1v5.7h-5.1zM374.8 158.4h5.1v5.7h-5.1zM516.7 158.4h5.1v5.7h-5.1zM199.8 163.7h5.1v5.7h-5.1zM521.5 163.7h5.1v5.7h-5.1zM204.5 206.1h5.1v5.7h-5.1zM266 211.4h5.1v5.7h-5.1zM374.8 211.4h5.1v5.7h-5.1zM464.7 216.7h5.1v5.7h-5.1z"/>
<path fill="#fcc878" d="M247.1 137.2h5.1v5.7h-5.1zM389 137.2h5.1v5.7h-5.1zM445.8 137.2h14.6v5.7h-14.6zM237.6 147.8h5.1v5.7h-5.1zM379.6 147.8h5.1v5.7h-5.1zM474.2 147.8h5.1v5.7h-5.1zM478.9 153.1h5.1v5.7h-5.1zM218.7 158.4h9.9v5.7h-9.9zM483.6 158.4h5.1v5.7h-5.1zM204.5 163.7h5.1v5.7h-5.1zM374.8 163.7h5.1v5.7h-5.1zM516.7 163.7h5.1v5.7h-5.1zM199.8 169h5.1v5.7h-5.1zM228.2 206.1h9.9v5.7h-9.9zM374.8 206.1h5.1v5.7h-5.1zM483.6 206.1h5.1v5.7h-5.1zM355.9 211.4h5.1v5.7h-5.1zM478.9 211.4h5.1v5.7h-5.1zM389 216.7h52.4v5.7h-52.4z"/>
<path fill="#fcc474" d="M251.8 137.2h24.1v5.7h-24.1zM289.7 137.2h19.3v5.7h-19.3zM341.7 137.2h5.1v5.7h-5.1zM393.7 137.2h43v5.7h-43zM384.3 142.5h5.1v5.7h-5.1zM464.7 142.5h5.1v5.7h-5.1zM351.2 147.8h5.1v5.7h-5.1zM232.9 158.4h5.1v5.7h-5.1zM488.3 163.7h28.8v5.7h-28.8zM195.1 179.6h5.1v5.7h-5.1zM195.1 190.2h5.1v5.7h-5.1zM516.7 200.8h5.1v5.7h-5.1zM355.9 206.1h5.1v5.7h-5.1zM270.8 211.4h5.1v5.7h-5.1z"/>
<path fill="#fcc874" d="M275.5 137.2h14.6v5.7h-14.6zM436.3 137.2h9.9v5.7h-9.9zM242.4 142.5h5.1v5.7h-5.1zM228.2 158.4h5.1v5.7h-5.1zM355.9 163.7h5.1v5.7h-5.1zM521.5 169h5.1v5.7h-5.1z"/>
<path fill="#fcc470" d="M308.6 137.2h5.1v5.7h-5.1zM209.3 163.7h5.1v5.7h-5.1z"/>
<path fill="#fcc070" d="M313.3 137.2h28.8v5.7h-28.8zM247.1 142.5h5.1v5.7h-5.1zM346.4 142.5h5.1v5.7h-5.1zM450.5 142.5h14.6v5.7h-14.6zM469.4 147.8h5.1v5.7h-5.1zM237.6 153.1h5.1v5.7h-5.1zM474.2 153.1h5.1v5.7h-5.1zM478.9 158.4h5.1v5.7h-5.1zM214 163.7h14.6v5.7h-14.6zM483.6 163.7h5.1v5.7h-5.1zM526.2 179.6h5.1v5.7h-5.1zM204.5 200.8h5.1v5.7h-5.1zM374.8 200.8h5.1v5.7h-5.1zM488.3 200.8h14.6v5.7h-14.6zM512 200.8h5.1v5.7h-5.1zM237.6 206.1h5.1v5.7h-5.1zM351.2 216.7h5.1v5.7h-5.1z"/>
<path fill="#fcbc6c" d="M251.8 142.5h47.7v5.7h-47.7zM389 142.5h9.9v5.7h-9.9zM426.9 142.5h24.1v5.7h-24.1zM242.4 147.8h5.1v5.7h-5.1zM464.7 147.8h5.1v5.7h-5.1zM379.6 153.1h5.1v5.7h-5.1zM204.5 169h5.1v5.7h-5.1zM374.8 169h5.1v5.7h-5.1zM493.1 169h5.1v5.7h-5.1zM516.7 169h5.1v5.7h-5.1zM199.8 174.3h5.1v5.7h-5.1zM195.1 184.9h5.1v5.7h-5.1zM526.2 190.2h5.1v5.7h-5.1zM199.8 195.5h5.1v5.7h-5.1zM521.5 195.5h5.1v5.7h-5.1zM209.3 200.8h9.9v5.7h-9.9zM355.9 200.8h5.1v5.7h-5.1zM507.3 200.8h5.1v5.7h-5.1z"/>
<path fill="#fcb86c" d="M299.1 142.5h5.1v5.7h-5.1zM341.7 142.5h5.1v5.7h-5.1zM398.5 142.5h28.8v5.7h-28.8zM384.3 147.8h5.1v5.7h-5.1zM351.2 153.1h5.1v5.7h-5.1zM232.9 163.7h5.1v5.7h-5.1zM355.9 169h5.1v5.7h-5.1zM488.3 169h5.1v5.7h-5.1zM497.8 169h5.1v5.7h-5.1zM521.5 174.3h5.1v5.7h-5.1zM218.7 200.8h5.1v5.7h-5.1zM483.6 200.8h5.1v5.7h-5.1zM242.4 206.1h5.1v5.7h-5.1zM478.9 206.1h5.1v5.7h-5.1z"/>
<path fill="#fcb868" d="M303.9 142.5h14.6v5.7h-14.6zM337 142.5h5.1v5.7h-5.1zM460 147.8h5.1v5.7h-5.1zM469.4 153.1h5.1v5.7h-5.1zM237.6 158.4h5.1v5.7h-5.1zM209.3 169h5.1v5.7h-5.1zM502.5 169h14.6v5.7h-14.6zM526.2 184.9h5.1v5.7h-5.1zM223.5 200.8h9.9v5.7h-9.9zM474.2 211.4h5.1v5.7h-5.1zM280.2 216.7h5.1v5.7h-5.1z"/>
<path fill="#fcb468" d="M318.1 142.5h19.3v5.7h-19.3zM247.1 147.8h5.1v5.7h-5.1zM346.4 147.8h5.1v5.7h-5.1zM455.2 147.8h5.1v5.7h-5.1zM474.2 158.4h5.1v5.7h-5.1zM478.9 163.7h5.1v5.7h-5.1zM214 169h5.1v5.7h-5.1zM232.9 200.8h5.1v5.7h-5.1zM247.1 206.1h19.3v5.7h-19.3z"/>
<path fill="#ffe090" d="M502.5 142.5h5.1v5.7h-5.1z"/>
<path fill="#fcb064" d="M251.8 147.8h43v5.7h-43zM389 147.8h5.1v5.7h-5.1zM431.6 147.8h14.6v5.7h-14.6zM464.7 153.1h5.1v5.7h-5.1zM379.6 158.4h5.1v5.7h-5.1zM228.2 169h5.1v5.7h-5.1zM516.7 195.5h5.1v5.7h-5.1zM379.6 211.4h5.1v5.7h-5.1zM284.9 216.7h5.1v5.7h-5.1z"/>
<path fill="#fcb060" d="M294.4 147.8h5.1v5.7h-5.1zM393.7 147.8h38.2v5.7h-38.2zM516.7 174.3h5.1v5.7h-5.1zM204.5 195.5h5.1v5.7h-5.1zM355.9 195.5h5.1v5.7h-5.1zM289.7 216.7h5.1v5.7h-5.1zM346.4 216.7h5.1v5.7h-5.1z"/>
<path fill="#fcac60" d="M299.1 147.8h14.6v5.7h-14.6zM341.7 147.8h5.1v5.7h-5.1zM384.3 153.1h5.1v5.7h-5.1zM460 153.1h5.1v5.7h-5.1zM351.2 158.4h5.1v5.7h-5.1zM237.6 163.7h5.1v5.7h-5.1zM232.9 169h5.1v5.7h-5.1zM204.5 174.3h5.1v5.7h-5.1zM374.8 174.3h5.1v5.7h-5.1zM199.8 179.6h5.1v5.7h-5.1zM488.3 195.5h14.6v5.7h-14.6zM237.6 200.8h5.1v5.7h-5.1zM478.9 200.8h5.1v5.7h-5.1zM469.4 211.4h5.1v5.7h-5.1zM294.4 216.7h9.9v5.7h-9.9z"/>
<path fill="#fca860" d="M313.3 147.8h14.6v5.7h-14.6zM332.2 147.8h9.9v5.7h-9.9zM247.1 153.1h5.1v5.7h-5.1zM455.2 153.1h5.1v5.7h-5.1zM469.4 158.4h5.1v5.7h-5.1zM355.9 174.3h5.1v5.7h-5.1zM488.3 174.3h14.6v5.7h-14.6zM512 174.3h5.1v5.7h-5.1zM521.5 179.6h5.1v5.7h-5.1zM199.8 190.2h5.1v5.7h-5.1zM502.5 195.5h5.1v5.7h-5.1zM512 195.5h5.1v5.7h-5.1zM275.5 211.4h5.1v5.7h-5.1zM303.9 216.7h9.9v5.7h-9.9z"/>
<path fill="#fca85c" d="M327.5 147.8h5.1v5.7h-5.1zM251.8 153.1h5.1v5.7h-5.1zM450.5 153.1h5.1v5.7h-5.1zM242.4 158.4h5.1v5.7h-5.1zM474.2 163.7h5.1v5.7h-5.1zM502.5 174.3h5.1v5.7h-5.1zM521.5 190.2h5.1v5.7h-5.1zM507.3 195.5h5.1v5.7h-5.1zM270.8 206.1h5.1v5.7h-5.1zM474.2 206.1h5.1v5.7h-5.1zM313.3 216.7h5.1v5.7h-5.1zM341.7 216.7h5.1v5.7h-5.1z"/>
<path fill="#fcb464" d="M445.8 147.8h9.9v5.7h-9.9zM242.4 153.1h5.1v5.7h-5.1zM218.7 169h9.9v5.7h-9.9zM483.6 169h5.1v5.7h-5.1zM374.8 195.5h5.1v5.7h-5.1zM266 206.1h5.1v5.7h-5.1z"/>
<path fill="#fca45c" d="M256.6 153.1h33.5v5.7h-33.5zM346.4 153.1h5.1v5.7h-5.1zM389 153.1h5.1v5.7h-5.1zM441 153.1h9.9v5.7h-9.9zM478.9 169h5.1v5.7h-5.1zM209.3 174.3h5.1v5.7h-5.1zM507.3 174.3h5.1v5.7h-5.1zM209.3 195.5h9.9v5.7h-9.9zM483.6 195.5h5.1v5.7h-5.1zM318.1 216.7h24.1v5.7h-24.1z"/>
<path fill="#fca05c" d="M289.7 153.1h9.9v5.7h-9.9zM393.7 153.1h5.1v5.7h-5.1zM426.9 153.1h14.6v5.7h-14.6zM464.7 158.4h5.1v5.7h-5.1zM379.6 163.7h5.1v5.7h-5.1zM214 174.3h9.9v5.7h-9.9zM483.6 174.3h5.1v5.7h-5.1zM199.8 184.9h5.1v5.7h-5.1zM218.7 195.5h9.9v5.7h-9.9zM379.6 206.1h5.1v5.7h-5.1zM351.2 211.4h5.1v5.7h-5.1zM464.7 211.4h5.1v5.7h-5.1z"/>
<path fill="#fc9c58" d="M299.1 153.1h14.6v5.7h-14.6zM341.7 153.1h5.1v5.7h-5.1zM247.1 158.4h5.1v5.7h-5.1zM384.3 158.4h5.1v5.7h-5.1zM460 158.4h5.1v5.7h-5.1zM351.2 163.7h5.1v5.7h-5.1zM237.6 169h5.1v5.7h-5.1zM228.2 174.3h5.1v5.7h-5.1zM374.8 179.6h5.1v5.7h-5.1zM521.5 184.9h5.1v5.7h-5.1zM374.8 190.2h5.1v5.7h-5.1zM242.4 200.8h5.1v5.7h-5.1zM460 211.4h5.1v5.7h-5.1z"/>
<path fill="#fc9858" d="M313.3 153.1h5.1v5.7h-5.1zM251.8 158.4h5.1v5.7h-5.1zM232.9 195.5h5.1v5.7h-5.1zM474.2 200.8h5.1v5.7h-5.1zM384.3 211.4h5.1v5.7h-5.1zM455.2 211.4h5.1v5.7h-5.1z"/>
<path fill="#f89858" d="M318.1 153.1h24.1v5.7h-24.1zM256.6 158.4h19.3v5.7h-19.3zM455.2 158.4h5.1v5.7h-5.1zM242.4 163.7h5.1v5.7h-5.1zM469.4 163.7h5.1v5.7h-5.1zM516.7 179.6h5.1v5.7h-5.1zM355.9 190.2h5.1v5.7h-5.1zM469.4 206.1h5.1v5.7h-5.1zM450.5 211.4h5.1v5.7h-5.1z"/>
<path fill="#fca058" d="M398.5 153.1h28.8v5.7h-28.8zM223.5 174.3h5.1v5.7h-5.1zM228.2 195.5h5.1v5.7h-5.1z"/>
<path fill="#f89454" d="M275.5 158.4h14.6v5.7h-14.6zM346.4 158.4h5.1v5.7h-5.1zM441 158.4h14.6v5.7h-14.6zM232.9 174.3h5.1v5.7h-5.1zM204.5 179.6h5.1v5.7h-5.1zM493.1 179.6h5.1v5.7h-5.1zM374.8 184.9h5.1v5.7h-5.1zM204.5 190.2h5.1v5.7h-5.1zM516.7 190.2h5.1v5.7h-5.1zM379.6 200.8h5.1v5.7h-5.1zM351.2 206.1h5.1v5.7h-5.1zM436.3 211.4h14.6v5.7h-14.6z"/>
<path fill="#f89054" d="M289.7 158.4h9.9v5.7h-9.9zM389 158.4h5.1v5.7h-5.1zM426.9 158.4h14.6v5.7h-14.6zM474.2 169h5.1v5.7h-5.1zM488.3 179.6h5.1v5.7h-5.1zM497.8 179.6h9.9v5.7h-9.9zM512 179.6h5.1v5.7h-5.1zM355.9 184.9h5.1v5.7h-5.1zM488.3 190.2h9.9v5.7h-9.9zM478.9 195.5h5.1v5.7h-5.1zM247.1 200.8h24.1v5.7h-24.1zM275.5 206.1h5.1v5.7h-5.1zM280.2 211.4h5.1v5.7h-5.1zM389 211.4h47.7v5.7h-47.7z"/>
<path fill="#f88c50" d="M299.1 158.4h9.9v5.7h-9.9zM398.5 158.4h24.1v5.7h-24.1zM247.1 163.7h5.1v5.7h-5.1zM478.9 174.3h5.1v5.7h-5.1zM209.3 179.6h5.1v5.7h-5.1zM507.3 179.6h5.1v5.7h-5.1zM516.7 184.9h5.1v5.7h-5.1zM502.5 190.2h5.1v5.7h-5.1zM512 190.2h5.1v5.7h-5.1zM464.7 206.1h5.1v5.7h-5.1z"/>
<path fill="#f88850" d="M308.6 158.4h9.9v5.7h-9.9zM341.7 158.4h5.1v5.7h-5.1zM251.8 163.7h24.1v5.7h-24.1zM460 163.7h5.1v5.7h-5.1zM379.6 169h5.1v5.7h-5.1zM214 179.6h5.1v5.7h-5.1zM483.6 179.6h5.1v5.7h-5.1zM204.5 184.9h5.1v5.7h-5.1zM209.3 190.2h5.1v5.7h-5.1zM507.3 190.2h5.1v5.7h-5.1zM237.6 195.5h5.1v5.7h-5.1zM270.8 200.8h5.1v5.7h-5.1zM351.2 200.8h5.1v5.7h-5.1zM469.4 200.8h5.1v5.7h-5.1zM460 206.1h5.1v5.7h-5.1zM284.9 211.4h5.1v5.7h-5.1z"/>
<path fill="#f88450" d="M318.1 158.4h5.1v5.7h-5.1zM337 158.4h5.1v5.7h-5.1zM218.7 179.6h5.1v5.7h-5.1zM493.1 184.9h5.1v5.7h-5.1zM483.6 190.2h5.1v5.7h-5.1z"/>
<path fill="#f8844c" d="M322.8 158.4h14.6v5.7h-14.6zM275.5 163.7h5.1v5.7h-5.1zM384.3 163.7h5.1v5.7h-5.1zM455.2 163.7h5.1v5.7h-5.1zM242.4 169h5.1v5.7h-5.1zM351.2 169h5.1v5.7h-5.1zM223.5 179.6h9.9v5.7h-9.9zM488.3 184.9h5.1v5.7h-5.1zM497.8 184.9h5.1v5.7h-5.1zM214 190.2h9.9v5.7h-9.9zM384.3 206.1h5.1v5.7h-5.1zM455.2 206.1h5.1v5.7h-5.1zM289.7 211.4h5.1v5.7h-5.1zM346.4 211.4h5.1v5.7h-5.1z"/>
<path fill="#f88c54" d="M393.7 158.4h5.1v5.7h-5.1zM422.1 158.4h5.1v5.7h-5.1zM464.7 163.7h5.1v5.7h-5.1zM497.8 190.2h5.1v5.7h-5.1z"/>
<path fill="#fcbc70" d="M228.2 163.7h5.1v5.7h-5.1zM502.5 200.8h5.1v5.7h-5.1z"/>
<path fill="#f8804c" d="M280.2 163.7h5.1v5.7h-5.1zM441 163.7h14.6v5.7h-14.6zM469.4 169h5.1v5.7h-5.1zM237.6 174.3h5.1v5.7h-5.1zM502.5 184.9h14.6v5.7h-14.6zM223.5 190.2h9.9v5.7h-9.9zM280.2 206.1h5.1v5.7h-5.1zM445.8 206.1h9.9v5.7h-9.9zM294.4 211.4h9.9v5.7h-9.9z"/>
<path fill="#f87c4c" d="M284.9 163.7h5.1v5.7h-5.1zM436.3 163.7h5.1v5.7h-5.1zM209.3 184.9h5.1v5.7h-5.1zM464.7 200.8h5.1v5.7h-5.1zM441 206.1h5.1v5.7h-5.1zM303.9 211.4h5.1v5.7h-5.1z"/>
<path fill="#f87c48" d="M289.7 163.7h5.1v5.7h-5.1zM346.4 163.7h5.1v5.7h-5.1z"/>
<path fill="#f47848" d="M294.4 163.7h9.9v5.7h-9.9zM393.7 163.7h38.2v5.7h-38.2zM214 184.9h9.9v5.7h-9.9zM232.9 190.2h5.1v5.7h-5.1zM275.5 200.8h5.1v5.7h-5.1zM460 200.8h5.1v5.7h-5.1zM284.9 206.1h5.1v5.7h-5.1zM389 206.1h47.7v5.7h-47.7zM313.3 211.4h33.5v5.7h-33.5z"/>
<path fill="#f47448" d="M303.9 163.7h5.1v5.7h-5.1zM247.1 169h5.1v5.7h-5.1zM223.5 184.9h9.9v5.7h-9.9zM379.6 195.5h5.1v5.7h-5.1zM289.7 206.1h5.1v5.7h-5.1zM346.4 206.1h5.1v5.7h-5.1z"/>
<path fill="#f47444" d="M308.6 163.7h5.1v5.7h-5.1zM251.8 169h19.3v5.7h-19.3zM464.7 169h5.1v5.7h-5.1zM474.2 174.3h5.1v5.7h-5.1zM478.9 179.6h5.1v5.7h-5.1zM478.9 190.2h5.1v5.7h-5.1zM384.3 200.8h5.1v5.7h-5.1zM455.2 200.8h5.1v5.7h-5.1zM294.4 206.1h5.1v5.7h-5.1z"/>
<path fill="#f47044" d="M313.3 163.7h33.5v5.7h-33.5zM270.8 169h5.1v5.7h-5.1zM242.4 195.5h5.1v5.7h-5.1zM280.2 200.8h5.1v5.7h-5.1zM445.8 200.8h9.9v5.7h-9.9zM299.1 206.1h9.9v5.7h-9.9z"/>
<path fill="#f47c48" d="M389 163.7h5.1v5.7h-5.1zM431.6 163.7h5.1v5.7h-5.1zM232.9 179.6h5.1v5.7h-5.1zM483.6 184.9h5.1v5.7h-5.1zM474.2 195.5h5.1v5.7h-5.1zM436.3 206.1h5.1v5.7h-5.1zM308.6 211.4h5.1v5.7h-5.1z"/>
<path fill="#f46c44" d="M275.5 169h5.1v5.7h-5.1zM460 169h5.1v5.7h-5.1zM379.6 174.3h5.1v5.7h-5.1zM232.9 184.9h5.1v5.7h-5.1zM351.2 195.5h5.1v5.7h-5.1zM284.9 200.8h5.1v5.7h-5.1zM436.3 200.8h9.9v5.7h-9.9zM308.6 206.1h9.9v5.7h-9.9zM341.7 206.1h5.1v5.7h-5.1z"/>
<path fill="#f06844" d="M280.2 169h5.1v5.7h-5.1zM384.3 169h5.1v5.7h-5.1zM450.5 169h9.9v5.7h-9.9zM242.4 174.3h5.1v5.7h-5.1zM237.6 179.6h5.1v5.7h-5.1zM478.9 184.9h5.1v5.7h-5.1zM237.6 190.2h5.1v5.7h-5.1zM247.1 195.5h5.1v5.7h-5.1zM469.4 195.5h5.1v5.7h-5.1zM289.7 200.8h9.9v5.7h-9.9zM346.4 200.8h5.1v5.7h-5.1zM389 200.8h47.7v5.7h-47.7zM318.1 206.1h24.1v5.7h-24.1z"/>
<path fill="#f06444" d="M284.9 169h5.1v5.7h-5.1zM441 169h9.9v5.7h-9.9zM351.2 174.3h5.1v5.7h-5.1zM251.8 195.5h14.6v5.7h-14.6zM299.1 200.8h5.1v5.7h-5.1z"/>
<path fill="#ec6444" d="M289.7 169h5.1v5.7h-5.1zM346.4 169h5.1v5.7h-5.1zM436.3 169h5.1v5.7h-5.1zM469.4 174.3h5.1v5.7h-5.1zM266 195.5h5.1v5.7h-5.1zM303.9 200.8h5.1v5.7h-5.1z"/>
<path fill="#ec6048" d="M294.4 169h9.9v5.7h-9.9zM389 169h43v5.7h-43zM474.2 179.6h5.1v5.7h-5.1zM474.2 190.2h5.1v5.7h-5.1zM270.8 195.5h5.1v5.7h-5.1zM464.7 195.5h5.1v5.7h-5.1zM308.6 200.8h14.6v5.7h-14.6zM341.7 200.8h5.1v5.7h-5.1z"/>
<path fill="#e85c48" d="M303.9 169h9.9v5.7h-9.9zM247.1 174.3h19.3v5.7h-19.3zM237.6 184.9h5.1v5.7h-5.1zM460 195.5h5.1v5.7h-5.1zM322.8 200.8h19.3v5.7h-19.3z"/>
<path fill="#e85848" d="M313.3 169h5.1v5.7h-5.1zM341.7 169h5.1v5.7h-5.1zM266 174.3h5.1v5.7h-5.1zM464.7 174.3h5.1v5.7h-5.1zM379.6 179.6h5.1v5.7h-5.1zM379.6 190.2h5.1v5.7h-5.1zM275.5 195.5h5.1v5.7h-5.1z"/>
<path fill="#e45848" d="M318.1 169h24.1v5.7h-24.1zM270.8 174.3h5.1v5.7h-5.1zM474.2 184.9h5.1v5.7h-5.1zM384.3 195.5h5.1v5.7h-5.1zM455.2 195.5h5.1v5.7h-5.1z"/>
<path fill="#ec6044" d="M431.6 169h5.1v5.7h-5.1z"/>
<path fill="#e0504c" d="M275.5 174.3h5.1v5.7h-5.1zM384.3 174.3h5.1v5.7h-5.1zM455.2 174.3h5.1v5.7h-5.1zM242.4 179.6h5.1v5.7h-5.1zM351.2 179.6h5.1v5.7h-5.1zM469.4 179.6h5.1v5.7h-5.1zM379.6 184.9h5.1v5.7h-5.1zM469.4 190.2h5.1v5.7h-5.1zM284.9 195.5h9.9v5.7h-9.9zM346.4 195.5h5.1v5.7h-5.1zM389 195.5h5.1v5.7h-5.1zM431.6 195.5h9.9v5.7h-9.9z"/>
<path fill="#e04c4c" d="M280.2 174.3h5.1v5.7h-5.1zM450.5 174.3h5.1v5.7h-5.1zM294.4 195.5h5.1v5.7h-5.1zM393.7 195.5h38.2v5.7h-38.2z"/>
<path fill="#dc484c" d="M284.9 174.3h9.9v5.7h-9.9zM346.4 174.3h5.1v5.7h-5.1zM431.6 174.3h14.6v5.7h-14.6zM351.2 184.9h5.1v5.7h-5.1zM247.1 190.2h5.1v5.7h-5.1zM303.9 195.5h9.9v5.7h-9.9z"/>
<path fill="#d8444c" d="M294.4 174.3h9.9v5.7h-9.9zM393.7 174.3h38.2v5.7h-38.2zM247.1 179.6h9.9v5.7h-9.9zM464.7 179.6h5.1v5.7h-5.1zM251.8 190.2h19.3v5.7h-19.3zM464.7 190.2h5.1v5.7h-5.1zM313.3 195.5h14.6v5.7h-14.6zM337 195.5h9.9v5.7h-9.9z"/>
<path fill="#d84050" d="M303.9 174.3h5.1v5.7h-5.1zM266 179.6h5.1v5.7h-5.1zM270.8 190.2h5.1v5.7h-5.1z"/>
<path fill="#d44050" d="M308.6 174.3h5.1v5.7h-5.1zM270.8 179.6h5.1v5.7h-5.1zM460 190.2h5.1v5.7h-5.1z"/>
<path fill="#d43c50" d="M313.3 174.3h5.1v5.7h-5.1zM341.7 174.3h5.1v5.7h-5.1zM460 179.6h5.1v5.7h-5.1z"/>
<path fill="#d03850" d="M318.1 174.3h5.1v5.7h-5.1z"/>
<path fill="#d0384c" d="M322.8 174.3h19.3v5.7h-19.3zM275.5 179.6h5.1v5.7h-5.1zM384.3 179.6h5.1v5.7h-5.1zM455.2 179.6h5.1v5.7h-5.1zM247.1 184.9h5.1v5.7h-5.1zM464.7 184.9h5.1v5.7h-5.1zM384.3 190.2h5.1v5.7h-5.1zM455.2 190.2h5.1v5.7h-5.1z"/>
<path fill="#dc444c" d="M389 174.3h5.1v5.7h-5.1zM242.4 184.9h5.1v5.7h-5.1zM469.4 184.9h5.1v5.7h-5.1z"/>
<path fill="#dc4c4c" d="M445.8 174.3h5.1v5.7h-5.1zM299.1 195.5h5.1v5.7h-5.1z"/>
<path fill="#e45448" d="M460 174.3h5.1v5.7h-5.1zM351.2 190.2h5.1v5.7h-5.1zM280.2 195.5h5.1v5.7h-5.1zM445.8 195.5h9.9v5.7h-9.9z"/>
<path fill="#d8404c" d="M256.6 179.6h9.9v5.7h-9.9zM327.5 195.5h9.9v5.7h-9.9z"/>
<path fill="#c8304c" d="M280.2 179.6h5.1v5.7h-5.1zM445.8 179.6h5.1v5.7h-5.1zM270.8 184.9h5.1v5.7h-5.1zM460 184.9h5.1v5.7h-5.1zM284.9 190.2h5.1v5.7h-5.1zM441 190.2h5.1v5.7h-5.1z"/>
<path fill="#c82c4c" d="M284.9 179.6h5.1v5.7h-5.1zM441 179.6h5.1v5.7h-5.1zM436.3 190.2h5.1v5.7h-5.1z"/>
<path fill="#c42c4c" d="M289.7 179.6h5.1v5.7h-5.1zM436.3 179.6h5.1v5.7h-5.1zM275.5 184.9h5.1v5.7h-5.1zM384.3 184.9h5.1v5.7h-5.1zM455.2 184.9h5.1v5.7h-5.1zM289.7 190.2h5.1v5.7h-5.1zM346.4 190.2h5.1v5.7h-5.1zM389 190.2h5.1v5.7h-5.1zM431.6 190.2h5.1v5.7h-5.1z"/>
<path fill="#c0284c" d="M294.4 179.6h5.1v5.7h-5.1zM389 179.6h5.1v5.7h-5.1zM426.9 179.6h5.1v5.7h-5.1zM450.5 184.9h5.1v5.7h-5.1zM393.7 190.2h33.5v5.7h-33.5z"/>
<path fill="#bc2448" d="M299.1 179.6h5.1v5.7h-5.1zM445.8 184.9h5.1v5.7h-5.1zM303.9 190.2h5.1v5.7h-5.1z"/>
<path fill="#bc2048" d="M303.9 179.6h5.1v5.7h-5.1zM284.9 184.9h5.1v5.7h-5.1zM441 184.9h5.1v5.7h-5.1z"/>
<path fill="#b81c48" d="M308.6 179.6h5.1v5.7h-5.1zM289.7 184.9h5.1v5.7h-5.1zM346.4 184.9h5.1v5.7h-5.1zM431.6 184.9h5.1v5.7h-5.1zM313.3 190.2h5.1v5.7h-5.1zM341.7 190.2h5.1v5.7h-5.1z"/>
<path fill="#b41c48" d="M313.3 179.6h5.1v5.7h-5.1zM294.4 184.9h5.1v5.7h-5.1zM389 184.9h5.1v5.7h-5.1zM318.1 190.2h5.1v5.7h-5.1z"/>
<path fill="#b41848" d="M318.1 179.6h5.1v5.7h-5.1zM341.7 179.6h5.1v5.7h-5.1zM393.7 184.9h38.2v5.7h-38.2zM322.8 190.2h19.3v5.7h-19.3z"/>
<path fill="#b01848" d="M322.8 179.6h19.3v5.7h-19.3zM299.1 184.9h5.1v5.7h-5.1z"/>
<path fill="#c4284c" d="M346.4 179.6h5.1v5.7h-5.1zM431.6 179.6h5.1v5.7h-5.1zM294.4 190.2h5.1v5.7h-5.1zM426.9 190.2h5.1v5.7h-5.1z"/>
<path fill="#f89854" d="M355.9 179.6h5.1v5.7h-5.1z"/>
<path fill="#c02448" d="M393.7 179.6h33.5v5.7h-33.5zM280.2 184.9h5.1v5.7h-5.1z"/>
<path fill="#cc344c" d="M450.5 179.6h5.1v5.7h-5.1zM251.8 184.9h19.3v5.7h-19.3zM280.2 190.2h5.1v5.7h-5.1zM445.8 190.2h9.9v5.7h-9.9z"/>
<path fill="#b01444" d="M303.9 184.9h5.1v5.7h-5.1z"/>
<path fill="#ac1044" d="M308.6 184.9h5.1v5.7h-5.1z"/>
<path fill="#a80c44" d="M313.3 184.9h9.9v5.7h-9.9zM341.7 184.9h5.1v5.7h-5.1z"/>
<path fill="#a40844" d="M322.8 184.9h19.3v5.7h-19.3z"/>
<path fill="#b82048" d="M436.3 184.9h5.1v5.7h-5.1zM308.6 190.2h5.1v5.7h-5.1z"/>
<path fill="#e45048" d="M242.4 190.2h5.1v5.7h-5.1z"/>
<path fill="#d03c50" d="M275.5 190.2h5.1v5.7h-5.1z"/>
<path fill="#c02848" d="M299.1 190.2h5.1v5.7h-5.1z"/>
<path fill="#e05048" d="M441 195.5h5.1v5.7h-5.1z"/>
<path fill="#fcffbc" d="M275.5 280.3h9.9v5.7h-9.9zM351.2 280.3h9.9v5.7h-9.9zM374.8 280.3h9.9v5.7h-9.9zM407.9 280.3h14.6v5.7h-14.6zM190.3 285.6h38.2v5.7h-38.2zM488.3 285.6h43v5.7h-43zM540.4 290.9h5.1v5.7h-5.1zM180.9 296.2h5.1v5.7h-5.1zM545.1 296.2h5.1v5.7h-5.1zM545.1 301.5h5.1v5.7h-5.1zM564 301.5h33.5v5.7h-33.5zM545.1 306.8h5.1v5.7h-5.1zM559.3 306.8h9.9v5.7h-9.9zM592.4 306.8h9.9v5.7h-9.9zM554.6 312.1h9.9v5.7h-9.9zM597.1 312.1h5.1v5.7h-5.1zM545.1 317.4h5.1v5.7h-5.1zM554.6 317.4h9.9v5.7h-9.9zM597.1 317.4h5.1v5.7h-5.1zM545.1 322.7h5.1v5.7h-5.1zM559.3 322.7h14.6v5.7h-14.6zM587.7 322.7h14.6v5.7h-14.6zM545.1 328h5.1v5.7h-5.1zM568.8 328h19.3v5.7h-19.3zM180.9 333.3h5.1v5.7h-5.1zM545.1 333.3h5.1v5.7h-5.1zM180.9 338.6h5.1v5.7h-5.1zM545.1 338.6h5.1v5.7h-5.1zM180.9 343.9h5.1v5.7h-5.1zM180.9 349.2h5.1v5.7h-5.1zM180.9 354.5h5.1v5.7h-5.1zM540.4 354.5h5.1v5.7h-5.1zM180.9 359.8h5.1v5.7h-5.1zM540.4 359.8h5.1v5.7h-5.1zM180.9 365.1h5.1v5.7h-5.1zM540.4 365.1h5.1v5.7h-5.1zM180.9 370.4h5.1v5.7h-5.1zM540.4 370.4h5.1v5.7h-5.1zM180.9 375.7h5.1v5.7h-5.1zM540.4 375.7h5.1v5.7h-5.1zM185.6 381h5.1v5.7h-5.1zM540.4 381h5.1v5.7h-5.1zM185.6 386.3h5.1v5.7h-5.1zM535.6 386.3h9.9v5.7h-9.9zM185.6 391.6h5.1v5.7h-5.1zM535.6 391.6h5.1v5.7h-5.1zM185.6 396.9h9.9v5.7h-9.9zM535.6 396.9h5.1v5.7h-5.1zM190.3 402.2h5.1v5.7h-5.1zM530.9 402.2h9.9v5.7h-9.9zM190.3 407.5h9.9v5.7h-9.9zM530.9 407.5h5.1v5.7h-5.1zM190.3 412.8h9.9v5.7h-9.9zM526.2 412.8h9.9v5.7h-9.9zM195.1 418.1h9.9v5.7h-9.9zM521.5 418.1h14.6v5.7h-14.6zM195.1 423.4h14.6v5.7h-14.6zM521.5 423.4h9.9v5.7h-9.9zM199.8 428.7h14.6v5.7h-14.6zM365.4 428.7h5.1v5.7h-5.1zM516.7 428.7h14.6v5.7h-14.6zM204.5 434h14.6v5.7h-14.6zM365.4 434h9.9v5.7h-9.9zM502.5 434h24.1v5.7h-24.1zM209.3 439.3h19.3v5.7h-19.3zM360.6 439.3h14.6v5.7h-14.6zM488.3 439.3h33.5v5.7h-33.5zM214 444.6h19.3v5.7h-19.3zM360.6 444.6h19.3v5.7h-19.3zM483.6 444.6h33.5v5.7h-33.5zM218.7 449.9h19.3v5.7h-19.3zM355.9 449.9h24.1v5.7h-24.1zM478.9 449.9h33.5v5.7h-33.5zM218.7 455.2h19.3v5.7h-19.3zM351.2 455.2h14.6v5.7h-14.6zM370.1 455.2h14.6v5.7h-14.6zM474.2 455.2h33.5v5.7h-33.5zM223.5 460.5h19.3v5.7h-19.3zM346.4 460.5h14.6v5.7h-14.6zM374.8 460.5h38.2v5.7h-38.2zM460 460.5h47.7v5.7h-47.7zM223.5 465.8h24.1v5.7h-24.1zM280.2 465.8h80.8v5.7h-80.8zM374.8 465.8h128.1v5.7h-128.1z"/>
<path fill="#fcfcbc" d="M284.9 280.3h66.6v5.7h-66.6zM384.3 280.3h24.1v5.7h-24.1zM228.2 285.6h9.9v5.7h-9.9zM365.4 285.6h5.1v5.7h-5.1zM483.6 285.6h5.1v5.7h-5.1zM185.6 290.9h5.1v5.7h-5.1zM535.6 290.9h5.1v5.7h-5.1zM180.9 301.5h5.1v5.7h-5.1zM568.8 306.8h5.1v5.7h-5.1zM587.7 306.8h5.1v5.7h-5.1zM545.1 312.1h5.1v5.7h-5.1zM592.4 312.1h5.1v5.7h-5.1zM564 317.4h5.1v5.7h-5.1zM592.4 317.4h5.1v5.7h-5.1zM180.9 322.7h5.1v5.7h-5.1zM573.5 322.7h14.6v5.7h-14.6zM180.9 328h5.1v5.7h-5.1zM540.4 338.6h5.1v5.7h-5.1zM540.4 343.9h5.1v5.7h-5.1zM540.4 349.2h5.1v5.7h-5.1zM185.6 370.4h5.1v5.7h-5.1zM185.6 375.7h5.1v5.7h-5.1zM535.6 375.7h5.1v5.7h-5.1zM535.6 381h5.1v5.7h-5.1zM190.3 391.6h5.1v5.7h-5.1zM530.9 391.6h5.1v5.7h-5.1zM530.9 396.9h5.1v5.7h-5.1zM195.1 402.2h5.1v5.7h-5.1zM526.2 407.5h5.1v5.7h-5.1zM199.8 412.8h5.1v5.7h-5.1zM521.5 412.8h5.1v5.7h-5.1zM204.5 418.1h5.1v5.7h-5.1zM365.4 418.1h5.1v5.7h-5.1zM516.7 418.1h5.1v5.7h-5.1zM209.3 423.4h5.1v5.7h-5.1zM365.4 423.4h5.1v5.7h-5.1zM512 423.4h9.9v5.7h-9.9zM214 428.7h5.1v5.7h-5.1zM360.6 428.7h5.1v5.7h-5.1zM370.1 428.7h5.1v5.7h-5.1zM497.8 428.7h19.3v5.7h-19.3zM218.7 434h9.9v5.7h-9.9zM360.6 434h5.1v5.7h-5.1zM488.3 434h14.6v5.7h-14.6zM228.2 439.3h5.1v5.7h-5.1zM355.9 439.3h5.1v5.7h-5.1zM374.8 439.3h5.1v5.7h-5.1zM483.6 439.3h5.1v5.7h-5.1zM232.9 444.6h5.1v5.7h-5.1zM355.9 444.6h5.1v5.7h-5.1zM379.6 444.6h5.1v5.7h-5.1zM478.9 444.6h5.1v5.7h-5.1zM237.6 449.9h5.1v5.7h-5.1zM351.2 449.9h5.1v5.7h-5.1zM379.6 449.9h9.9v5.7h-9.9zM469.4 449.9h9.9v5.7h-9.9zM237.6 455.2h9.9v5.7h-9.9zM284.9 455.2h28.8v5.7h-28.8zM341.7 455.2h9.9v5.7h-9.9zM384.3 455.2h38.2v5.7h-38.2zM455.2 455.2h19.3v5.7h-19.3zM242.4 460.5h9.9v5.7h-9.9zM270.8 460.5h76.1v5.7h-76.1zM412.7 460.5h47.7v5.7h-47.7zM247.1 465.8h33.5v5.7h-33.5z"/>
<path fill="#fcfcb8" d="M237.6 285.6h5.1v5.7h-5.1zM360.6 285.6h5.1v5.7h-5.1zM370.1 285.6h5.1v5.7h-5.1zM478.9 285.6h5.1v5.7h-5.1zM540.4 296.2h5.1v5.7h-5.1zM180.9 306.8h5.1v5.7h-5.1zM573.5 306.8h14.6v5.7h-14.6zM180.9 312.1h5.1v5.7h-5.1zM564 312.1h28.8v5.7h-28.8zM180.9 317.4h5.1v5.7h-5.1zM568.8 317.4h24.1v5.7h-24.1zM540.4 328h5.1v5.7h-5.1zM540.4 333.3h5.1v5.7h-5.1zM185.6 349.2h5.1v5.7h-5.1zM185.6 354.5h5.1v5.7h-5.1zM535.6 354.5h5.1v5.7h-5.1zM185.6 359.8h5.1v5.7h-5.1zM535.6 359.8h5.1v5.7h-5.1zM185.6 365.1h5.1v5.7h-5.1zM535.6 365.1h5.1v5.7h-5.1zM535.6 370.4h5.1v5.7h-5.1zM190.3 375.7h5.1v5.7h-5.1zM190.3 381h5.1v5.7h-5.1zM530.9 381h5.1v5.7h-5.1zM190.3 386.3h5.1v5.7h-5.1zM530.9 386.3h5.1v5.7h-5.1zM195.1 391.6h5.1v5.7h-5.1zM526.2 391.6h5.1v5.7h-5.1zM195.1 396.9h5.1v5.7h-5.1zM526.2 396.9h5.1v5.7h-5.1zM199.8 402.2h5.1v5.7h-5.1zM365.4 402.2h5.1v5.7h-5.1zM521.5 402.2h9.9v5.7h-9.9zM199.8 407.5h9.9v5.7h-9.9zM365.4 407.5h9.9v5.7h-9.9zM516.7 407.5h9.9v5.7h-9.9zM204.5 412.8h9.9v5.7h-9.9zM360.6 412.8h14.6v5.7h-14.6zM507.3 412.8h14.6v5.7h-14.6zM209.3 418.1h14.6v5.7h-14.6zM360.6 418.1h5.1v5.7h-5.1zM370.1 418.1h5.1v5.7h-5.1zM488.3 418.1h28.8v5.7h-28.8zM214 423.4h14.6v5.7h-14.6zM355.9 423.4h9.9v5.7h-9.9zM370.1 423.4h9.9v5.7h-9.9zM483.6 423.4h28.8v5.7h-28.8zM218.7 428.7h14.6v5.7h-14.6zM355.9 428.7h5.1v5.7h-5.1zM374.8 428.7h5.1v5.7h-5.1zM478.9 428.7h19.3v5.7h-19.3zM228.2 434h9.9v5.7h-9.9zM351.2 434h9.9v5.7h-9.9zM374.8 434h9.9v5.7h-9.9zM474.2 434h14.6v5.7h-14.6zM232.9 439.3h9.9v5.7h-9.9zM346.4 439.3h9.9v5.7h-9.9zM379.6 439.3h14.6v5.7h-14.6zM464.7 439.3h19.3v5.7h-19.3zM237.6 444.6h14.6v5.7h-14.6zM280.2 444.6h76.1v5.7h-76.1zM384.3 444.6h95v5.7h-95zM242.4 449.9h109.2v5.7h-109.2zM389 449.9h80.8v5.7h-80.8zM247.1 455.2h38.2v5.7h-38.2zM313.3 455.2h28.8v5.7h-28.8zM422.1 455.2h33.5v5.7h-33.5zM251.8 460.5h19.3v5.7h-19.3z"/>
<path fill="#f8fcb4" d="M242.4 285.6h33.5v5.7h-33.5zM464.7 285.6h14.6v5.7h-14.6zM365.4 290.9h5.1v5.7h-5.1zM526.2 290.9h5.1v5.7h-5.1zM185.6 296.2h5.1v5.7h-5.1zM535.6 296.2h5.1v5.7h-5.1zM540.4 306.8h5.1v5.7h-5.1zM540.4 312.1h5.1v5.7h-5.1zM540.4 317.4h5.1v5.7h-5.1zM185.6 333.3h5.1v5.7h-5.1zM535.6 333.3h5.1v5.7h-5.1zM185.6 338.6h5.1v5.7h-5.1zM535.6 338.6h5.1v5.7h-5.1zM365.4 343.9h5.1v5.7h-5.1zM535.6 343.9h5.1v5.7h-5.1zM190.3 359.8h5.1v5.7h-5.1zM530.9 359.8h5.1v5.7h-5.1zM190.3 365.1h5.1v5.7h-5.1zM530.9 365.1h5.1v5.7h-5.1zM530.9 370.4h5.1v5.7h-5.1zM195.1 375.7h5.1v5.7h-5.1zM526.2 375.7h5.1v5.7h-5.1zM195.1 381h5.1v5.7h-5.1zM365.4 381h5.1v5.7h-5.1zM526.2 381h5.1v5.7h-5.1zM199.8 386.3h5.1v5.7h-5.1zM365.4 386.3h9.9v5.7h-9.9zM521.5 386.3h5.1v5.7h-5.1zM199.8 391.6h9.9v5.7h-9.9zM360.6 391.6h14.6v5.7h-14.6zM516.7 391.6h9.9v5.7h-9.9zM204.5 396.9h9.9v5.7h-9.9zM360.6 396.9h5.1v5.7h-5.1zM370.1 396.9h5.1v5.7h-5.1zM488.3 396.9h33.5v5.7h-33.5zM209.3 402.2h14.6v5.7h-14.6zM360.6 402.2h5.1v5.7h-5.1zM374.8 402.2h5.1v5.7h-5.1zM483.6 402.2h33.5v5.7h-33.5zM214 407.5h19.3v5.7h-19.3zM355.9 407.5h5.1v5.7h-5.1zM374.8 407.5h5.1v5.7h-5.1zM478.9 407.5h33.5v5.7h-33.5zM223.5 412.8h14.6v5.7h-14.6zM355.9 412.8h5.1v5.7h-5.1zM374.8 412.8h9.9v5.7h-9.9zM474.2 412.8h14.6v5.7h-14.6zM228.2 418.1h9.9v5.7h-9.9zM351.2 418.1h5.1v5.7h-5.1zM379.6 418.1h9.9v5.7h-9.9zM469.4 418.1h14.6v5.7h-14.6zM232.9 423.4h9.9v5.7h-9.9zM346.4 423.4h9.9v5.7h-9.9zM379.6 423.4h33.5v5.7h-33.5zM460 423.4h19.3v5.7h-19.3zM237.6 428.7h9.9v5.7h-9.9zM280.2 428.7h76.1v5.7h-76.1zM384.3 428.7h90.3v5.7h-90.3zM242.4 434h109.2v5.7h-109.2zM389 434h80.8v5.7h-80.8zM247.1 439.3h38.2v5.7h-38.2z"/>
<path fill="#f4fcb0" d="M275.5 285.6h5.1v5.7h-5.1zM355.9 285.6h5.1v5.7h-5.1zM417.4 285.6h33.5v5.7h-33.5zM493.1 290.9h5.1v5.7h-5.1zM521.5 290.9h5.1v5.7h-5.1zM185.6 301.5h5.1v5.7h-5.1zM185.6 322.7h5.1v5.7h-5.1zM535.6 328h5.1v5.7h-5.1zM365.4 338.6h5.1v5.7h-5.1zM530.9 343.9h5.1v5.7h-5.1zM190.3 349.2h5.1v5.7h-5.1zM530.9 349.2h5.1v5.7h-5.1zM195.1 365.1h5.1v5.7h-5.1zM526.2 365.1h5.1v5.7h-5.1zM370.1 370.4h5.1v5.7h-5.1zM199.8 375.7h5.1v5.7h-5.1zM360.6 375.7h5.1v5.7h-5.1zM370.1 375.7h5.1v5.7h-5.1zM521.5 375.7h5.1v5.7h-5.1zM204.5 381h5.1v5.7h-5.1zM360.6 381h5.1v5.7h-5.1zM370.1 381h5.1v5.7h-5.1zM512 381h9.9v5.7h-9.9zM204.5 386.3h9.9v5.7h-9.9zM488.3 386.3h28.8v5.7h-28.8zM209.3 391.6h14.6v5.7h-14.6zM374.8 391.6h5.1v5.7h-5.1zM483.6 391.6h9.9v5.7h-9.9zM218.7 396.9h14.6v5.7h-14.6zM355.9 396.9h5.1v5.7h-5.1zM478.9 396.9h5.1v5.7h-5.1zM228.2 402.2h9.9v5.7h-9.9zM379.6 402.2h5.1v5.7h-5.1zM474.2 402.2h9.9v5.7h-9.9zM232.9 407.5h5.1v5.7h-5.1zM351.2 407.5h5.1v5.7h-5.1zM379.6 407.5h9.9v5.7h-9.9zM469.4 407.5h9.9v5.7h-9.9zM237.6 412.8h5.1v5.7h-5.1zM346.4 412.8h5.1v5.7h-5.1zM384.3 412.8h28.8v5.7h-28.8zM455.2 412.8h14.6v5.7h-14.6zM242.4 418.1h5.1v5.7h-5.1zM280.2 418.1h71.4v5.7h-71.4zM393.7 418.1h71.4v5.7h-71.4zM247.1 423.4h38.2v5.7h-38.2zM313.3 423.4h28.8v5.7h-28.8zM256.6 428.7h9.9v5.7h-9.9z"/>
<path fill="#f0f8ac" d="M280.2 285.6h5.1v5.7h-5.1zM379.6 285.6h5.1v5.7h-5.1zM209.3 290.9h19.3v5.7h-19.3zM190.3 296.2h5.1v5.7h-5.1zM185.6 312.1h5.1v5.7h-5.1zM370.1 349.2h5.1v5.7h-5.1zM195.1 354.5h5.1v5.7h-5.1zM360.6 354.5h5.1v5.7h-5.1zM218.7 381h5.1v5.7h-5.1zM228.2 386.3h5.1v5.7h-5.1zM478.9 386.3h5.1v5.7h-5.1zM379.6 391.6h5.1v5.7h-5.1zM351.2 396.9h5.1v5.7h-5.1zM464.7 402.2h5.1v5.7h-5.1zM242.4 407.5h5.1v5.7h-5.1zM289.7 407.5h19.3v5.7h-19.3zM341.7 407.5h5.1v5.7h-5.1zM426.9 407.5h19.3v5.7h-19.3zM247.1 412.8h5.1v5.7h-5.1z"/>
<path fill="#f0f8a8" d="M284.9 285.6h5.1v5.7h-5.1zM351.2 285.6h5.1v5.7h-5.1zM384.3 285.6h5.1v5.7h-5.1zM407.9 285.6h5.1v5.7h-5.1zM228.2 290.9h9.9v5.7h-9.9zM360.6 290.9h5.1v5.7h-5.1zM483.6 290.9h5.1v5.7h-5.1zM535.6 306.8h5.1v5.7h-5.1zM535.6 312.1h5.1v5.7h-5.1zM535.6 317.4h5.1v5.7h-5.1zM365.4 328h5.1v5.7h-5.1zM190.3 333.3h5.1v5.7h-5.1zM530.9 333.3h5.1v5.7h-5.1zM360.6 343.9h5.1v5.7h-5.1zM370.1 343.9h5.1v5.7h-5.1zM526.2 343.9h5.1v5.7h-5.1zM195.1 349.2h5.1v5.7h-5.1zM360.6 349.2h5.1v5.7h-5.1zM526.2 349.2h5.1v5.7h-5.1zM521.5 354.5h5.1v5.7h-5.1zM199.8 359.8h5.1v5.7h-5.1zM521.5 359.8h5.1v5.7h-5.1zM199.8 365.1h5.1v5.7h-5.1zM488.3 365.1h33.5v5.7h-33.5zM204.5 370.4h9.9v5.7h-9.9zM374.8 370.4h5.1v5.7h-5.1zM483.6 370.4h33.5v5.7h-33.5zM209.3 375.7h19.3v5.7h-19.3zM355.9 375.7h5.1v5.7h-5.1zM374.8 375.7h5.1v5.7h-5.1zM483.6 375.7h5.1v5.7h-5.1zM223.5 381h9.9v5.7h-9.9zM355.9 381h5.1v5.7h-5.1zM478.9 381h5.1v5.7h-5.1zM232.9 386.3h5.1v5.7h-5.1zM379.6 386.3h5.1v5.7h-5.1zM474.2 386.3h5.1v5.7h-5.1zM232.9 391.6h5.1v5.7h-5.1zM351.2 391.6h5.1v5.7h-5.1zM384.3 391.6h5.1v5.7h-5.1zM469.4 391.6h9.9v5.7h-9.9zM237.6 396.9h5.1v5.7h-5.1zM346.4 396.9h5.1v5.7h-5.1zM384.3 396.9h14.6v5.7h-14.6zM460 396.9h14.6v5.7h-14.6zM242.4 402.2h5.1v5.7h-5.1zM280.2 402.2h71.4v5.7h-71.4zM389 402.2h76.1v5.7h-76.1zM247.1 407.5h9.9v5.7h-9.9zM266 407.5h24.1v5.7h-24.1zM308.6 407.5h33.5v5.7h-33.5zM251.8 412.8h24.1v5.7h-24.1z"/>
<path fill="#ecf8a4" d="M289.7 285.6h61.9v5.7h-61.9zM526.2 296.2h5.1v5.7h-5.1zM365.4 317.4h5.1v5.7h-5.1zM190.3 328h5.1v5.7h-5.1zM530.9 328h5.1v5.7h-5.1zM360.6 338.6h5.1v5.7h-5.1zM526.2 338.6h5.1v5.7h-5.1zM195.1 343.9h5.1v5.7h-5.1zM521.5 349.2h5.1v5.7h-5.1zM199.8 354.5h5.1v5.7h-5.1zM493.1 354.5h5.1v5.7h-5.1zM516.7 354.5h5.1v5.7h-5.1zM204.5 359.8h5.1v5.7h-5.1zM502.5 359.8h14.6v5.7h-14.6zM209.3 365.1h19.3v5.7h-19.3zM374.8 365.1h5.1v5.7h-5.1zM483.6 365.1h5.1v5.7h-5.1zM228.2 370.4h5.1v5.7h-5.1zM355.9 370.4h5.1v5.7h-5.1zM478.9 370.4h5.1v5.7h-5.1zM474.2 381h5.1v5.7h-5.1zM237.6 386.3h5.1v5.7h-5.1zM384.3 386.3h5.1v5.7h-5.1zM469.4 386.3h5.1v5.7h-5.1zM346.4 391.6h5.1v5.7h-5.1zM389 391.6h19.3v5.7h-19.3zM460 391.6h9.9v5.7h-9.9zM280.2 396.9h66.6v5.7h-66.6zM422.1 396.9h28.8v5.7h-28.8zM251.8 402.2h24.1v5.7h-24.1z"/>
<path fill="#f8fcb0" d="M374.8 285.6h5.1v5.7h-5.1zM450.5 285.6h14.6v5.7h-14.6zM195.1 290.9h5.1v5.7h-5.1zM185.6 328h5.1v5.7h-5.1zM365.4 349.2h5.1v5.7h-5.1zM190.3 354.5h5.1v5.7h-5.1zM365.4 354.5h5.1v5.7h-5.1zM530.9 354.5h5.1v5.7h-5.1zM365.4 359.8h5.1v5.7h-5.1zM365.4 365.1h5.1v5.7h-5.1zM195.1 370.4h5.1v5.7h-5.1zM365.4 370.4h5.1v5.7h-5.1zM526.2 370.4h5.1v5.7h-5.1zM365.4 375.7h5.1v5.7h-5.1zM199.8 381h5.1v5.7h-5.1zM521.5 381h5.1v5.7h-5.1zM360.6 386.3h5.1v5.7h-5.1zM516.7 386.3h5.1v5.7h-5.1zM493.1 391.6h24.1v5.7h-24.1zM214 396.9h5.1v5.7h-5.1zM374.8 396.9h5.1v5.7h-5.1zM483.6 396.9h5.1v5.7h-5.1zM223.5 402.2h5.1v5.7h-5.1zM355.9 402.2h5.1v5.7h-5.1zM351.2 412.8h5.1v5.7h-5.1zM469.4 412.8h5.1v5.7h-5.1zM237.6 418.1h5.1v5.7h-5.1zM389 418.1h5.1v5.7h-5.1zM464.7 418.1h5.1v5.7h-5.1zM242.4 423.4h5.1v5.7h-5.1zM284.9 423.4h28.8v5.7h-28.8zM341.7 423.4h5.1v5.7h-5.1zM412.7 423.4h47.7v5.7h-47.7zM247.1 428.7h9.9v5.7h-9.9zM266 428.7h14.6v5.7h-14.6z"/>
<path fill="#f0f8a4" d="M389 285.6h19.3v5.7h-19.3zM365.4 301.5h5.1v5.7h-5.1zM365.4 322.7h5.1v5.7h-5.1zM370.1 338.6h5.1v5.7h-5.1zM488.3 359.8h14.6v5.7h-14.6zM516.7 359.8h5.1v5.7h-5.1zM204.5 365.1h5.1v5.7h-5.1zM214 370.4h14.6v5.7h-14.6zM228.2 375.7h5.1v5.7h-5.1zM478.9 375.7h5.1v5.7h-5.1zM232.9 381h5.1v5.7h-5.1zM379.6 381h5.1v5.7h-5.1zM351.2 386.3h5.1v5.7h-5.1zM237.6 391.6h5.1v5.7h-5.1zM242.4 396.9h5.1v5.7h-5.1zM398.5 396.9h24.1v5.7h-24.1zM450.5 396.9h9.9v5.7h-9.9zM247.1 402.2h5.1v5.7h-5.1zM275.5 402.2h5.1v5.7h-5.1zM256.6 407.5h9.9v5.7h-9.9z"/>
<path fill="#f4fcac" d="M412.7 285.6h5.1v5.7h-5.1zM199.8 290.9h5.1v5.7h-5.1zM488.3 290.9h5.1v5.7h-5.1zM497.8 290.9h24.1v5.7h-24.1zM530.9 296.2h5.1v5.7h-5.1zM535.6 301.5h5.1v5.7h-5.1zM185.6 306.8h5.1v5.7h-5.1zM185.6 317.4h5.1v5.7h-5.1zM535.6 322.7h5.1v5.7h-5.1zM365.4 333.3h5.1v5.7h-5.1zM530.9 338.6h5.1v5.7h-5.1zM190.3 343.9h5.1v5.7h-5.1zM370.1 354.5h5.1v5.7h-5.1zM526.2 354.5h5.1v5.7h-5.1zM195.1 359.8h5.1v5.7h-5.1zM370.1 359.8h5.1v5.7h-5.1zM526.2 359.8h5.1v5.7h-5.1zM360.6 365.1h5.1v5.7h-5.1zM370.1 365.1h5.1v5.7h-5.1zM521.5 365.1h5.1v5.7h-5.1zM199.8 370.4h5.1v5.7h-5.1zM360.6 370.4h5.1v5.7h-5.1zM521.5 370.4h5.1v5.7h-5.1zM204.5 375.7h5.1v5.7h-5.1zM493.1 375.7h9.9v5.7h-9.9zM512 375.7h9.9v5.7h-9.9zM209.3 381h5.1v5.7h-5.1zM488.3 381h24.1v5.7h-24.1zM214 386.3h14.6v5.7h-14.6zM355.9 386.3h5.1v5.7h-5.1zM374.8 386.3h5.1v5.7h-5.1zM483.6 386.3h5.1v5.7h-5.1zM223.5 391.6h9.9v5.7h-9.9zM355.9 391.6h5.1v5.7h-5.1zM478.9 391.6h5.1v5.7h-5.1zM232.9 396.9h5.1v5.7h-5.1zM379.6 396.9h5.1v5.7h-5.1zM474.2 396.9h5.1v5.7h-5.1zM351.2 402.2h5.1v5.7h-5.1zM384.3 402.2h5.1v5.7h-5.1zM469.4 402.2h5.1v5.7h-5.1zM237.6 407.5h5.1v5.7h-5.1zM346.4 407.5h5.1v5.7h-5.1zM389 407.5h19.3v5.7h-19.3zM460 407.5h9.9v5.7h-9.9zM242.4 412.8h5.1v5.7h-5.1zM280.2 412.8h66.6v5.7h-66.6zM412.7 412.8h43v5.7h-43zM247.1 418.1h33.5v5.7h-33.5z"/>
<path fill="#f8fcb8" d="M190.3 290.9h5.1v5.7h-5.1zM530.9 290.9h5.1v5.7h-5.1zM540.4 301.5h5.1v5.7h-5.1zM540.4 322.7h5.1v5.7h-5.1zM185.6 343.9h5.1v5.7h-5.1zM535.6 349.2h5.1v5.7h-5.1zM190.3 370.4h5.1v5.7h-5.1zM530.9 375.7h5.1v5.7h-5.1zM195.1 386.3h5.1v5.7h-5.1zM526.2 386.3h5.1v5.7h-5.1zM199.8 396.9h5.1v5.7h-5.1zM365.4 396.9h5.1v5.7h-5.1zM521.5 396.9h5.1v5.7h-5.1zM204.5 402.2h5.1v5.7h-5.1zM370.1 402.2h5.1v5.7h-5.1zM516.7 402.2h5.1v5.7h-5.1zM209.3 407.5h5.1v5.7h-5.1zM360.6 407.5h5.1v5.7h-5.1zM512 407.5h5.1v5.7h-5.1zM214 412.8h9.9v5.7h-9.9zM488.3 412.8h19.3v5.7h-19.3zM223.5 418.1h5.1v5.7h-5.1zM355.9 418.1h5.1v5.7h-5.1zM374.8 418.1h5.1v5.7h-5.1zM483.6 418.1h5.1v5.7h-5.1zM228.2 423.4h5.1v5.7h-5.1zM478.9 423.4h5.1v5.7h-5.1zM232.9 428.7h5.1v5.7h-5.1zM379.6 428.7h5.1v5.7h-5.1zM474.2 428.7h5.1v5.7h-5.1zM237.6 434h5.1v5.7h-5.1zM384.3 434h5.1v5.7h-5.1zM469.4 434h5.1v5.7h-5.1zM242.4 439.3h5.1v5.7h-5.1zM284.9 439.3h61.9v5.7h-61.9zM393.7 439.3h71.4v5.7h-71.4zM251.8 444.6h28.8v5.7h-28.8z"/>
<path fill="#f4f8ac" d="M204.5 290.9h5.1v5.7h-5.1zM370.1 290.9h5.1v5.7h-5.1zM365.4 296.2h5.1v5.7h-5.1zM190.3 338.6h5.1v5.7h-5.1zM360.6 359.8h5.1v5.7h-5.1zM516.7 370.4h5.1v5.7h-5.1zM488.3 375.7h5.1v5.7h-5.1zM502.5 375.7h9.9v5.7h-9.9zM214 381h5.1v5.7h-5.1zM374.8 381h5.1v5.7h-5.1zM483.6 381h5.1v5.7h-5.1zM237.6 402.2h5.1v5.7h-5.1zM407.9 407.5h19.3v5.7h-19.3zM445.8 407.5h14.6v5.7h-14.6zM275.5 412.8h5.1v5.7h-5.1z"/>
<path fill="#ecf8a0" d="M237.6 290.9h5.1v5.7h-5.1zM478.9 290.9h5.1v5.7h-5.1zM195.1 296.2h5.1v5.7h-5.1zM530.9 301.5h5.1v5.7h-5.1zM365.4 306.8h5.1v5.7h-5.1zM365.4 312.1h5.1v5.7h-5.1zM530.9 322.7h5.1v5.7h-5.1zM370.1 333.3h5.1v5.7h-5.1zM526.2 333.3h5.1v5.7h-5.1zM195.1 338.6h5.1v5.7h-5.1zM521.5 343.9h5.1v5.7h-5.1zM199.8 349.2h5.1v5.7h-5.1zM488.3 349.2h14.6v5.7h-14.6zM516.7 349.2h5.1v5.7h-5.1zM204.5 354.5h5.1v5.7h-5.1zM483.6 354.5h9.9v5.7h-9.9zM497.8 354.5h19.3v5.7h-19.3zM209.3 359.8h19.3v5.7h-19.3zM374.8 359.8h5.1v5.7h-5.1zM483.6 359.8h5.1v5.7h-5.1zM228.2 365.1h5.1v5.7h-5.1zM355.9 365.1h5.1v5.7h-5.1zM478.9 365.1h5.1v5.7h-5.1zM232.9 370.4h5.1v5.7h-5.1zM232.9 375.7h5.1v5.7h-5.1zM351.2 375.7h5.1v5.7h-5.1zM379.6 375.7h5.1v5.7h-5.1zM474.2 375.7h5.1v5.7h-5.1zM237.6 381h5.1v5.7h-5.1zM351.2 381h5.1v5.7h-5.1zM384.3 381h5.1v5.7h-5.1zM469.4 381h5.1v5.7h-5.1zM346.4 386.3h5.1v5.7h-5.1zM389 386.3h19.3v5.7h-19.3zM460 386.3h9.9v5.7h-9.9zM242.4 391.6h5.1v5.7h-5.1zM280.2 391.6h66.6v5.7h-66.6zM407.9 391.6h52.4v5.7h-52.4zM247.1 396.9h33.5v5.7h-33.5z"/>
<path fill="#e4f498" d="M242.4 290.9h5.1v5.7h-5.1zM374.8 290.9h5.1v5.7h-5.1zM474.2 290.9h5.1v5.7h-5.1zM493.1 296.2h5.1v5.7h-5.1zM190.3 306.8h5.1v5.7h-5.1zM530.9 312.1h5.1v5.7h-5.1zM190.3 317.4h5.1v5.7h-5.1zM360.6 328h5.1v5.7h-5.1zM526.2 328h5.1v5.7h-5.1zM199.8 338.6h5.1v5.7h-5.1zM488.3 338.6h14.6v5.7h-14.6zM516.7 338.6h5.1v5.7h-5.1zM483.6 343.9h5.1v5.7h-5.1zM214 349.2h5.1v5.7h-5.1zM223.5 349.2h9.9v5.7h-9.9zM355.9 349.2h5.1v5.7h-5.1zM232.9 354.5h5.1v5.7h-5.1zM478.9 354.5h5.1v5.7h-5.1zM237.6 365.1h5.1v5.7h-5.1zM351.2 365.1h5.1v5.7h-5.1zM384.3 370.4h5.1v5.7h-5.1zM242.4 375.7h5.1v5.7h-5.1zM393.7 375.7h24.1v5.7h-24.1zM460 375.7h5.1v5.7h-5.1zM247.1 381h5.1v5.7h-5.1zM275.5 381h9.9v5.7h-9.9zM299.1 381h43v5.7h-43zM251.8 386.3h19.3v5.7h-19.3z"/>
<path fill="#e0f098" d="M247.1 290.9h5.1v5.7h-5.1zM502.5 296.2h5.1v5.7h-5.1zM507.3 338.6h5.1v5.7h-5.1zM478.9 349.2h5.1v5.7h-5.1zM393.7 370.4h5.1v5.7h-5.1zM280.2 375.7h5.1v5.7h-5.1zM308.6 375.7h5.1v5.7h-5.1zM256.6 381h9.9v5.7h-9.9z"/>
<path fill="#dcf098" d="M251.8 290.9h5.1v5.7h-5.1zM261.3 290.9h9.9v5.7h-9.9zM507.3 296.2h9.9v5.7h-9.9zM195.1 328h5.1v5.7h-5.1zM228.2 343.9h5.1v5.7h-5.1zM232.9 349.2h5.1v5.7h-5.1zM237.6 359.8h5.1v5.7h-5.1zM384.3 365.1h5.1v5.7h-5.1zM242.4 370.4h5.1v5.7h-5.1zM398.5 370.4h14.6v5.7h-14.6zM460 370.4h5.1v5.7h-5.1zM247.1 375.7h5.1v5.7h-5.1zM275.5 375.7h5.1v5.7h-5.1zM313.3 375.7h28.8v5.7h-28.8z"/>
<path fill="#dcf09c" d="M256.6 290.9h5.1v5.7h-5.1zM270.8 290.9h5.1v5.7h-5.1zM469.4 290.9h5.1v5.7h-5.1zM360.6 301.5h5.1v5.7h-5.1zM526.2 301.5h5.1v5.7h-5.1zM360.6 322.7h5.1v5.7h-5.1zM493.1 333.3h5.1v5.7h-5.1zM351.2 359.8h5.1v5.7h-5.1zM412.7 370.4h5.1v5.7h-5.1zM455.2 370.4h5.1v5.7h-5.1zM270.8 375.7h5.1v5.7h-5.1z"/>
<path fill="#d4ec9c" d="M275.5 290.9h5.1v5.7h-5.1zM464.7 290.9h5.1v5.7h-5.1zM209.3 296.2h19.3v5.7h-19.3zM195.1 301.5h5.1v5.7h-5.1zM370.1 312.1h5.1v5.7h-5.1zM521.5 328h5.1v5.7h-5.1zM507.3 333.3h9.9v5.7h-9.9zM228.2 338.6h5.1v5.7h-5.1zM374.8 338.6h5.1v5.7h-5.1zM478.9 343.9h5.1v5.7h-5.1zM407.9 365.1h9.9v5.7h-9.9zM455.2 365.1h5.1v5.7h-5.1zM251.8 370.4h5.1v5.7h-5.1zM266 370.4h9.9v5.7h-9.9z"/>
<path fill="#c0e8a0" d="M280.2 290.9h5.1v5.7h-5.1zM374.8 333.3h5.1v5.7h-5.1zM474.2 343.9h5.1v5.7h-5.1zM469.4 349.2h5.1v5.7h-5.1zM407.9 354.5h5.1v5.7h-5.1z"/>
<path fill="#b4e0a4" d="M284.9 290.9h5.1v5.7h-5.1zM389 290.9h5.1v5.7h-5.1zM398.5 290.9h9.9v5.7h-9.9zM483.6 301.5h5.1v5.7h-5.1zM507.3 301.5h5.1v5.7h-5.1zM521.5 306.8h5.1v5.7h-5.1zM521.5 317.4h5.1v5.7h-5.1zM228.2 328h5.1v5.7h-5.1zM242.4 343.9h5.1v5.7h-5.1zM266 349.2h9.9v5.7h-9.9zM284.9 349.2h9.9v5.7h-9.9zM346.4 349.2h5.1v5.7h-5.1zM412.7 349.2h5.1v5.7h-5.1zM460 349.2h5.1v5.7h-5.1z"/>
<path fill="#acdca4" d="M289.7 290.9h9.9v5.7h-9.9zM346.4 290.9h5.1v5.7h-5.1zM204.5 301.5h5.1v5.7h-5.1zM521.5 312.1h5.1v5.7h-5.1zM379.6 338.6h5.1v5.7h-5.1zM308.6 349.2h38.2v5.7h-38.2zM422.1 349.2h28.8v5.7h-28.8z"/>
<path fill="#a8dca4" d="M299.1 290.9h14.6v5.7h-14.6zM474.2 296.2h5.1v5.7h-5.1zM218.7 301.5h9.9v5.7h-9.9zM488.3 306.8h9.9v5.7h-9.9zM488.3 317.4h9.9v5.7h-9.9zM483.6 322.7h5.1v5.7h-5.1zM232.9 328h5.1v5.7h-5.1zM237.6 333.3h5.1v5.7h-5.1zM247.1 343.9h5.1v5.7h-5.1zM266 343.9h19.3v5.7h-19.3zM389 343.9h19.3v5.7h-19.3z"/>
<path fill="#a4dca4" d="M313.3 290.9h14.6v5.7h-14.6zM341.7 290.9h5.1v5.7h-5.1zM209.3 301.5h9.9v5.7h-9.9zM204.5 322.7h5.1v5.7h-5.1zM242.4 338.6h5.1v5.7h-5.1zM251.8 343.9h14.6v5.7h-14.6zM407.9 343.9h5.1v5.7h-5.1zM464.7 343.9h5.1v5.7h-5.1z"/>
<path fill="#a4d8a4" d="M327.5 290.9h14.6v5.7h-14.6zM516.7 306.8h5.1v5.7h-5.1zM516.7 317.4h5.1v5.7h-5.1zM355.9 328h5.1v5.7h-5.1zM284.9 343.9h5.1v5.7h-5.1z"/>
<path fill="#c0e4a0" d="M351.2 290.9h5.1v5.7h-5.1zM412.7 290.9h5.1v5.7h-5.1zM478.9 296.2h5.1v5.7h-5.1zM488.3 301.5h9.9v5.7h-9.9zM195.1 306.8h5.1v5.7h-5.1zM195.1 317.4h5.1v5.7h-5.1zM379.6 343.9h5.1v5.7h-5.1zM242.4 349.2h5.1v5.7h-5.1zM384.3 349.2h5.1v5.7h-5.1zM247.1 354.5h5.1v5.7h-5.1zM275.5 354.5h19.3v5.7h-19.3zM346.4 354.5h5.1v5.7h-5.1zM412.7 354.5h5.1v5.7h-5.1zM460 354.5h5.1v5.7h-5.1z"/>
<path fill="#e0f498" d="M355.9 290.9h5.1v5.7h-5.1zM199.8 296.2h5.1v5.7h-5.1zM488.3 296.2h5.1v5.7h-5.1zM497.8 296.2h5.1v5.7h-5.1zM516.7 296.2h5.1v5.7h-5.1zM370.1 301.5h5.1v5.7h-5.1zM190.3 312.1h5.1v5.7h-5.1zM370.1 322.7h5.1v5.7h-5.1zM521.5 333.3h5.1v5.7h-5.1zM502.5 338.6h5.1v5.7h-5.1zM512 338.6h5.1v5.7h-5.1zM204.5 343.9h24.1v5.7h-24.1zM374.8 343.9h5.1v5.7h-5.1zM379.6 359.8h5.1v5.7h-5.1zM474.2 359.8h5.1v5.7h-5.1zM469.4 365.1h5.1v5.7h-5.1zM346.4 370.4h5.1v5.7h-5.1zM389 370.4h5.1v5.7h-5.1zM464.7 370.4h5.1v5.7h-5.1zM284.9 375.7h24.1v5.7h-24.1zM341.7 375.7h5.1v5.7h-5.1zM417.4 375.7h43v5.7h-43zM251.8 381h5.1v5.7h-5.1zM266 381h9.9v5.7h-9.9z"/>
<path fill="#c8e8a0" d="M379.6 290.9h5.1v5.7h-5.1zM417.4 290.9h5.1v5.7h-5.1zM199.8 328h5.1v5.7h-5.1zM228.2 333.3h5.1v5.7h-5.1zM237.6 343.9h5.1v5.7h-5.1zM242.4 354.5h5.1v5.7h-5.1zM247.1 359.8h5.1v5.7h-5.1zM275.5 359.8h5.1v5.7h-5.1zM294.4 359.8h14.6v5.7h-14.6zM341.7 359.8h5.1v5.7h-5.1zM417.4 359.8h38.2v5.7h-38.2z"/>
<path fill="#b8e4a0" d="M384.3 290.9h5.1v5.7h-5.1zM407.9 290.9h5.1v5.7h-5.1zM237.6 296.2h5.1v5.7h-5.1zM195.1 312.1h5.1v5.7h-5.1zM488.3 322.7h9.9v5.7h-9.9zM218.7 328h5.1v5.7h-5.1zM355.9 333.3h5.1v5.7h-5.1zM389 349.2h19.3v5.7h-19.3zM464.7 349.2h5.1v5.7h-5.1zM313.3 354.5h28.8v5.7h-28.8z"/>
<path fill="#b0e0a4" d="M393.7 290.9h5.1v5.7h-5.1zM355.9 296.2h5.1v5.7h-5.1zM502.5 322.7h14.6v5.7h-14.6zM374.8 328h5.1v5.7h-5.1zM478.9 333.3h5.1v5.7h-5.1zM384.3 343.9h5.1v5.7h-5.1zM469.4 343.9h5.1v5.7h-5.1zM251.8 349.2h14.6v5.7h-14.6zM294.4 349.2h14.6v5.7h-14.6zM417.4 349.2h5.1v5.7h-5.1zM455.2 349.2h5.1v5.7h-5.1z"/>
<path fill="#cce89c" d="M422.1 290.9h5.1v5.7h-5.1zM384.3 354.5h5.1v5.7h-5.1zM256.6 365.1h9.9v5.7h-9.9z"/>
<path fill="#ccec9c" d="M426.9 290.9h33.5v5.7h-33.5zM526.2 306.8h5.1v5.7h-5.1zM360.6 312.1h5.1v5.7h-5.1zM526.2 317.4h5.1v5.7h-5.1zM493.1 328h5.1v5.7h-5.1zM204.5 333.3h5.1v5.7h-5.1zM483.6 333.3h5.1v5.7h-5.1zM232.9 338.6h5.1v5.7h-5.1zM355.9 338.6h5.1v5.7h-5.1zM379.6 349.2h5.1v5.7h-5.1zM469.4 354.5h5.1v5.7h-5.1zM346.4 359.8h5.1v5.7h-5.1zM393.7 359.8h19.3v5.7h-19.3zM460 359.8h5.1v5.7h-5.1zM251.8 365.1h5.1v5.7h-5.1zM266 365.1h9.9v5.7h-9.9zM318.1 365.1h24.1v5.7h-24.1z"/>
<path fill="#d0ec9c" d="M460 290.9h5.1v5.7h-5.1zM228.2 296.2h5.1v5.7h-5.1zM360.6 306.8h5.1v5.7h-5.1zM360.6 317.4h5.1v5.7h-5.1zM195.1 322.7h5.1v5.7h-5.1zM237.6 349.2h5.1v5.7h-5.1zM474.2 349.2h5.1v5.7h-5.1zM351.2 354.5h5.1v5.7h-5.1zM242.4 359.8h5.1v5.7h-5.1zM389 359.8h5.1v5.7h-5.1zM464.7 359.8h5.1v5.7h-5.1zM247.1 365.1h5.1v5.7h-5.1zM275.5 365.1h43v5.7h-43zM341.7 365.1h5.1v5.7h-5.1zM417.4 365.1h38.2v5.7h-38.2zM256.6 370.4h9.9v5.7h-9.9z"/>
<path fill="#d8f09c" d="M204.5 296.2h5.1v5.7h-5.1zM483.6 296.2h5.1v5.7h-5.1zM370.1 317.4h5.1v5.7h-5.1zM526.2 322.7h5.1v5.7h-5.1zM199.8 333.3h5.1v5.7h-5.1zM488.3 333.3h5.1v5.7h-5.1zM497.8 333.3h5.1v5.7h-5.1zM516.7 333.3h5.1v5.7h-5.1zM204.5 338.6h5.1v5.7h-5.1zM483.6 338.6h5.1v5.7h-5.1zM232.9 343.9h5.1v5.7h-5.1zM355.9 343.9h5.1v5.7h-5.1zM237.6 354.5h5.1v5.7h-5.1zM379.6 354.5h5.1v5.7h-5.1zM474.2 354.5h5.1v5.7h-5.1zM469.4 359.8h5.1v5.7h-5.1zM242.4 365.1h5.1v5.7h-5.1zM346.4 365.1h5.1v5.7h-5.1zM389 365.1h14.6v5.7h-14.6zM464.7 365.1h5.1v5.7h-5.1zM247.1 370.4h5.1v5.7h-5.1zM275.5 370.4h43v5.7h-43zM337 370.4h9.9v5.7h-9.9zM417.4 370.4h38.2v5.7h-38.2zM251.8 375.7h19.3v5.7h-19.3z"/>
<path fill="#c8e89c" d="M232.9 296.2h5.1v5.7h-5.1zM521.5 301.5h5.1v5.7h-5.1zM488.3 328h5.1v5.7h-5.1zM497.8 328h5.1v5.7h-5.1zM516.7 328h5.1v5.7h-5.1zM209.3 333.3h19.3v5.7h-19.3zM280.2 359.8h14.6v5.7h-14.6zM412.7 359.8h5.1v5.7h-5.1zM455.2 359.8h5.1v5.7h-5.1z"/>
<path fill="#a0d8a4" d="M242.4 296.2h5.1v5.7h-5.1zM228.2 301.5h5.1v5.7h-5.1zM199.8 306.8h5.1v5.7h-5.1zM497.8 306.8h5.1v5.7h-5.1zM488.3 312.1h5.1v5.7h-5.1zM199.8 317.4h5.1v5.7h-5.1zM497.8 317.4h5.1v5.7h-5.1zM218.7 322.7h9.9v5.7h-9.9zM351.2 338.6h5.1v5.7h-5.1zM289.7 343.9h9.9v5.7h-9.9zM346.4 343.9h5.1v5.7h-5.1zM412.7 343.9h5.1v5.7h-5.1zM460 343.9h5.1v5.7h-5.1z"/>
<path fill="#90d4a4" d="M247.1 296.2h5.1v5.7h-5.1zM502.5 312.1h5.1v5.7h-5.1zM379.6 333.3h5.1v5.7h-5.1zM474.2 333.3h5.1v5.7h-5.1zM251.8 338.6h9.9v5.7h-9.9z"/>
<path fill="#8cd0a4" d="M251.8 296.2h14.6v5.7h-14.6zM270.8 296.2h5.1v5.7h-5.1zM355.9 301.5h5.1v5.7h-5.1zM507.3 312.1h5.1v5.7h-5.1zM204.5 317.4h5.1v5.7h-5.1zM232.9 322.7h5.1v5.7h-5.1zM355.9 322.7h5.1v5.7h-5.1zM237.6 328h5.1v5.7h-5.1zM389 338.6h19.3v5.7h-19.3z"/>
<path fill="#90d0a4" d="M266 296.2h5.1v5.7h-5.1zM469.4 296.2h5.1v5.7h-5.1zM512 312.1h5.1v5.7h-5.1zM280.2 338.6h5.1v5.7h-5.1z"/>
<path fill="#80cca4" d="M275.5 296.2h5.1v5.7h-5.1zM464.7 296.2h5.1v5.7h-5.1zM209.3 306.8h9.9v5.7h-9.9zM478.9 306.8h5.1v5.7h-5.1zM228.2 317.4h5.1v5.7h-5.1zM294.4 338.6h9.9v5.7h-9.9zM412.7 338.6h5.1v5.7h-5.1zM460 338.6h5.1v5.7h-5.1z"/>
<path fill="#68c4a4" d="M280.2 296.2h5.1v5.7h-5.1zM417.4 296.2h5.1v5.7h-5.1zM389 333.3h19.3v5.7h-19.3z"/>
<path fill="#58b4ac" d="M284.9 296.2h5.1v5.7h-5.1zM393.7 296.2h5.1v5.7h-5.1zM303.9 333.3h5.1v5.7h-5.1z"/>
<path fill="#54acb0" d="M289.7 296.2h5.1v5.7h-5.1zM422.1 333.3h5.1v5.7h-5.1z"/>
<path fill="#50a8b0" d="M294.4 296.2h5.1v5.7h-5.1zM346.4 296.2h5.1v5.7h-5.1zM256.6 328h5.1v5.7h-5.1z"/>
<path fill="#4ca4b0" d="M299.1 296.2h9.9v5.7h-9.9zM247.1 301.5h5.1v5.7h-5.1zM270.8 301.5h5.1v5.7h-5.1zM237.6 312.1h5.1v5.7h-5.1zM242.4 322.7h5.1v5.7h-5.1zM280.2 328h5.1v5.7h-5.1z"/>
<path fill="#48a4b4" d="M308.6 296.2h5.1v5.7h-5.1z"/>
<path fill="#48a0b4" d="M313.3 296.2h9.9v5.7h-9.9zM341.7 296.2h5.1v5.7h-5.1zM251.8 301.5h14.6v5.7h-14.6zM464.7 301.5h5.1v5.7h-5.1zM389 328h19.3v5.7h-19.3z"/>
<path fill="#44a0b4" d="M322.8 296.2h5.1v5.7h-5.1zM464.7 328h5.1v5.7h-5.1z"/>
<path fill="#449cb4" d="M327.5 296.2h14.6v5.7h-14.6zM275.5 301.5h5.1v5.7h-5.1zM351.2 301.5h5.1v5.7h-5.1zM351.2 322.7h5.1v5.7h-5.1zM469.4 322.7h5.1v5.7h-5.1zM284.9 328h5.1v5.7h-5.1zM407.9 328h5.1v5.7h-5.1z"/>
<path fill="#70c4a4" d="M351.2 296.2h5.1v5.7h-5.1zM455.2 296.2h5.1v5.7h-5.1zM232.9 306.8h5.1v5.7h-5.1zM232.9 317.4h5.1v5.7h-5.1zM379.6 328h5.1v5.7h-5.1z"/>
<path fill="#e8f49c" d="M360.6 296.2h5.1v5.7h-5.1zM521.5 296.2h5.1v5.7h-5.1zM521.5 338.6h5.1v5.7h-5.1zM199.8 343.9h5.1v5.7h-5.1zM488.3 343.9h5.1v5.7h-5.1zM497.8 343.9h5.1v5.7h-5.1zM516.7 343.9h5.1v5.7h-5.1zM204.5 349.2h5.1v5.7h-5.1zM483.6 349.2h5.1v5.7h-5.1zM223.5 354.5h5.1v5.7h-5.1zM355.9 354.5h5.1v5.7h-5.1zM351.2 370.4h5.1v5.7h-5.1zM242.4 381h5.1v5.7h-5.1zM346.4 381h5.1v5.7h-5.1zM393.7 381h19.3v5.7h-19.3zM460 381h5.1v5.7h-5.1zM247.1 386.3h5.1v5.7h-5.1zM280.2 386.3h5.1v5.7h-5.1zM303.9 386.3h38.2v5.7h-38.2zM251.8 391.6h19.3v5.7h-19.3z"/>
<path fill="#e8f89c" d="M370.1 296.2h5.1v5.7h-5.1zM190.3 322.7h5.1v5.7h-5.1zM360.6 333.3h5.1v5.7h-5.1zM493.1 343.9h5.1v5.7h-5.1zM502.5 349.2h14.6v5.7h-14.6zM209.3 354.5h14.6v5.7h-14.6zM374.8 354.5h5.1v5.7h-5.1zM228.2 359.8h5.1v5.7h-5.1zM355.9 359.8h5.1v5.7h-5.1zM478.9 359.8h5.1v5.7h-5.1zM232.9 365.1h5.1v5.7h-5.1zM379.6 370.4h5.1v5.7h-5.1zM474.2 370.4h5.1v5.7h-5.1zM237.6 375.7h5.1v5.7h-5.1zM384.3 375.7h5.1v5.7h-5.1zM469.4 375.7h5.1v5.7h-5.1zM389 381h5.1v5.7h-5.1zM464.7 381h5.1v5.7h-5.1zM284.9 386.3h19.3v5.7h-19.3zM341.7 386.3h5.1v5.7h-5.1zM412.7 386.3h47.7v5.7h-47.7zM247.1 391.6h5.1v5.7h-5.1zM270.8 391.6h9.9v5.7h-9.9z"/>
<path fill="#bce4a0" d="M374.8 296.2h5.1v5.7h-5.1zM199.8 301.5h5.1v5.7h-5.1zM497.8 301.5h5.1v5.7h-5.1zM516.7 301.5h5.1v5.7h-5.1zM204.5 328h5.1v5.7h-5.1zM483.6 328h5.1v5.7h-5.1zM232.9 333.3h5.1v5.7h-5.1zM237.6 338.6h5.1v5.7h-5.1zM251.8 354.5h24.1v5.7h-24.1zM294.4 354.5h19.3v5.7h-19.3zM341.7 354.5h5.1v5.7h-5.1zM417.4 354.5h43v5.7h-43z"/>
<path fill="#84cca4" d="M379.6 296.2h5.1v5.7h-5.1zM218.7 306.8h9.9v5.7h-9.9zM209.3 317.4h19.3v5.7h-19.3zM289.7 338.6h5.1v5.7h-5.1zM346.4 338.6h5.1v5.7h-5.1z"/>
<path fill="#64c0a8" d="M384.3 296.2h5.1v5.7h-5.1zM412.7 296.2h5.1v5.7h-5.1zM232.9 312.1h5.1v5.7h-5.1zM284.9 333.3h5.1v5.7h-5.1zM407.9 333.3h5.1v5.7h-5.1zM464.7 333.3h5.1v5.7h-5.1z"/>
<path fill="#5cb4ac" d="M389 296.2h5.1v5.7h-5.1zM398.5 296.2h5.1v5.7h-5.1zM242.4 301.5h5.1v5.7h-5.1zM299.1 333.3h5.1v5.7h-5.1zM460 333.3h5.1v5.7h-5.1z"/>
<path fill="#5cb8a8" d="M403.2 296.2h5.1v5.7h-5.1zM474.2 306.8h5.1v5.7h-5.1zM351.2 328h5.1v5.7h-5.1zM294.4 333.3h5.1v5.7h-5.1zM346.4 333.3h5.1v5.7h-5.1zM412.7 333.3h5.1v5.7h-5.1z"/>
<path fill="#60b8a8" d="M407.9 296.2h5.1v5.7h-5.1zM289.7 333.3h5.1v5.7h-5.1z"/>
<path fill="#6cc4a4" d="M422.1 296.2h33.5v5.7h-33.5zM355.9 312.1h5.1v5.7h-5.1zM237.6 322.7h5.1v5.7h-5.1zM280.2 333.3h5.1v5.7h-5.1z"/>
<path fill="#74c8a4" d="M460 296.2h5.1v5.7h-5.1zM474.2 301.5h5.1v5.7h-5.1zM355.9 306.8h5.1v5.7h-5.1zM209.3 312.1h9.9v5.7h-9.9zM474.2 328h5.1v5.7h-5.1zM251.8 333.3h5.1v5.7h-5.1zM261.3 333.3h9.9v5.7h-9.9zM275.5 333.3h5.1v5.7h-5.1zM469.4 333.3h5.1v5.7h-5.1zM422.1 338.6h28.8v5.7h-28.8z"/>
<path fill="#e8f8a0" d="M190.3 301.5h5.1v5.7h-5.1zM242.4 386.3h5.1v5.7h-5.1zM407.9 386.3h5.1v5.7h-5.1z"/>
<path fill="#94d4a4" d="M232.9 301.5h5.1v5.7h-5.1zM199.8 312.1h5.1v5.7h-5.1zM483.6 312.1h5.1v5.7h-5.1zM247.1 338.6h5.1v5.7h-5.1zM261.3 338.6h19.3v5.7h-19.3zM384.3 338.6h5.1v5.7h-5.1zM327.5 343.9h14.6v5.7h-14.6z"/>
<path fill="#78c8a4" d="M237.6 301.5h5.1v5.7h-5.1zM218.7 312.1h9.9v5.7h-9.9zM478.9 312.1h5.1v5.7h-5.1zM355.9 317.4h5.1v5.7h-5.1zM247.1 333.3h5.1v5.7h-5.1zM270.8 333.3h5.1v5.7h-5.1zM313.3 338.6h33.5v5.7h-33.5zM417.4 338.6h5.1v5.7h-5.1zM450.5 338.6h9.9v5.7h-9.9z"/>
<path fill="#48a4b0" d="M266 301.5h5.1v5.7h-5.1z"/>
<path fill="#348cbc" d="M280.2 301.5h5.1v5.7h-5.1zM450.5 301.5h5.1v5.7h-5.1zM379.6 312.1h5.1v5.7h-5.1zM261.3 322.7h5.1v5.7h-5.1zM308.6 328h9.9v5.7h-9.9zM417.4 328h5.1v5.7h-5.1z"/>
<path fill="#387cb8" d="M284.9 301.5h5.1v5.7h-5.1zM266 306.8h5.1v5.7h-5.1z"/>
<path fill="#4078b4" d="M289.7 301.5h5.1v5.7h-5.1zM346.4 301.5h5.1v5.7h-5.1zM460 306.8h5.1v5.7h-5.1zM266 317.4h5.1v5.7h-5.1zM289.7 322.7h5.1v5.7h-5.1zM346.4 322.7h5.1v5.7h-5.1z"/>
<path fill="#4474b4" d="M294.4 301.5h5.1v5.7h-5.1zM247.1 312.1h5.1v5.7h-5.1zM270.8 312.1h5.1v5.7h-5.1zM256.6 317.4h5.1v5.7h-5.1z"/>
<path fill="#4470b0" d="M299.1 301.5h9.9v5.7h-9.9zM384.3 306.8h5.1v5.7h-5.1zM460 312.1h5.1v5.7h-5.1zM460 317.4h5.1v5.7h-5.1zM303.9 322.7h5.1v5.7h-5.1zM422.1 322.7h33.5v5.7h-33.5z"/>
<path fill="#486cb0" d="M308.6 301.5h14.6v5.7h-14.6zM341.7 301.5h5.1v5.7h-5.1zM280.2 306.8h5.1v5.7h-5.1zM422.1 306.8h33.5v5.7h-33.5zM251.8 312.1h9.9v5.7h-9.9zM275.5 312.1h5.1v5.7h-5.1zM280.2 317.4h5.1v5.7h-5.1zM308.6 322.7h14.6v5.7h-14.6zM341.7 322.7h5.1v5.7h-5.1z"/>
<path fill="#4868b0" d="M322.8 301.5h5.1v5.7h-5.1zM417.4 306.8h5.1v5.7h-5.1zM455.2 317.4h5.1v5.7h-5.1zM322.8 322.7h19.3v5.7h-19.3z"/>
<path fill="#4c68b0" d="M327.5 301.5h14.6v5.7h-14.6z"/>
<path fill="#9cd8a4" d="M374.8 301.5h5.1v5.7h-5.1zM483.6 306.8h5.1v5.7h-5.1zM502.5 306.8h5.1v5.7h-5.1zM493.1 312.1h5.1v5.7h-5.1zM483.6 317.4h5.1v5.7h-5.1zM502.5 317.4h5.1v5.7h-5.1zM209.3 322.7h9.9v5.7h-9.9zM374.8 322.7h5.1v5.7h-5.1zM478.9 328h5.1v5.7h-5.1zM299.1 343.9h9.9v5.7h-9.9zM455.2 343.9h5.1v5.7h-5.1z"/>
<path fill="#54b0ac" d="M379.6 301.5h5.1v5.7h-5.1zM474.2 312.1h5.1v5.7h-5.1zM237.6 317.4h5.1v5.7h-5.1zM247.1 328h5.1v5.7h-5.1zM270.8 328h5.1v5.7h-5.1zM313.3 333.3h9.9v5.7h-9.9zM341.7 333.3h5.1v5.7h-5.1zM417.4 333.3h5.1v5.7h-5.1zM455.2 333.3h5.1v5.7h-5.1z"/>
<path fill="#388cbc" d="M384.3 301.5h5.1v5.7h-5.1zM242.4 317.4h5.1v5.7h-5.1zM266 322.7h5.1v5.7h-5.1zM275.5 322.7h5.1v5.7h-5.1zM455.2 328h5.1v5.7h-5.1z"/>
<path fill="#3880bc" d="M389 301.5h5.1v5.7h-5.1z"/>
<path fill="#3880b8" d="M393.7 301.5h9.9v5.7h-9.9zM247.1 306.8h5.1v5.7h-5.1zM270.8 306.8h5.1v5.7h-5.1zM407.9 322.7h5.1v5.7h-5.1z"/>
<path fill="#3884bc" d="M403.2 301.5h5.1v5.7h-5.1zM393.7 322.7h9.9v5.7h-9.9z"/>
<path fill="#3484bc" d="M407.9 301.5h5.1v5.7h-5.1zM351.2 306.8h5.1v5.7h-5.1zM464.7 306.8h5.1v5.7h-5.1zM242.4 312.1h5.1v5.7h-5.1zM280.2 322.7h5.1v5.7h-5.1zM389 322.7h5.1v5.7h-5.1zM403.2 322.7h5.1v5.7h-5.1z"/>
<path fill="#3488bc" d="M412.7 301.5h38.2v5.7h-38.2zM351.2 317.4h5.1v5.7h-5.1zM251.8 322.7h9.9v5.7h-9.9zM464.7 322.7h5.1v5.7h-5.1zM318.1 328h28.8v5.7h-28.8zM422.1 328h33.5v5.7h-33.5z"/>
<path fill="#3890bc" d="M455.2 301.5h5.1v5.7h-5.1zM384.3 322.7h5.1v5.7h-5.1zM303.9 328h5.1v5.7h-5.1z"/>
<path fill="#3c94b8" d="M460 301.5h5.1v5.7h-5.1zM294.4 328h5.1v5.7h-5.1zM346.4 328h5.1v5.7h-5.1zM412.7 328h5.1v5.7h-5.1zM460 328h5.1v5.7h-5.1z"/>
<path fill="#58b0ac" d="M469.4 301.5h5.1v5.7h-5.1zM237.6 306.8h5.1v5.7h-5.1zM474.2 317.4h5.1v5.7h-5.1zM379.6 322.7h5.1v5.7h-5.1zM469.4 328h5.1v5.7h-5.1zM308.6 333.3h5.1v5.7h-5.1z"/>
<path fill="#98d4a4" d="M478.9 301.5h5.1v5.7h-5.1zM507.3 306.8h9.9v5.7h-9.9zM497.8 312.1h5.1v5.7h-5.1zM516.7 312.1h5.1v5.7h-5.1zM507.3 317.4h5.1v5.7h-5.1zM228.2 322.7h5.1v5.7h-5.1zM469.4 338.6h5.1v5.7h-5.1zM313.3 343.9h14.6v5.7h-14.6zM341.7 343.9h5.1v5.7h-5.1zM422.1 343.9h33.5v5.7h-33.5z"/>
<path fill="#b8e0a0" d="M502.5 301.5h5.1v5.7h-5.1zM516.7 322.7h5.1v5.7h-5.1zM209.3 328h9.9v5.7h-9.9zM223.5 328h5.1v5.7h-5.1z"/>
<path fill="#b4e0a0" d="M512 301.5h5.1v5.7h-5.1zM199.8 322.7h5.1v5.7h-5.1zM497.8 322.7h5.1v5.7h-5.1zM351.2 343.9h5.1v5.7h-5.1zM247.1 349.2h5.1v5.7h-5.1zM275.5 349.2h9.9v5.7h-9.9zM407.9 349.2h5.1v5.7h-5.1z"/>
<path fill="#88d0a4" d="M204.5 306.8h5.1v5.7h-5.1zM374.8 306.8h5.1v5.7h-5.1zM374.8 317.4h5.1v5.7h-5.1zM478.9 322.7h5.1v5.7h-5.1zM242.4 333.3h5.1v5.7h-5.1zM284.9 338.6h5.1v5.7h-5.1zM407.9 338.6h5.1v5.7h-5.1zM464.7 338.6h5.1v5.7h-5.1z"/>
<path fill="#7ccca4" d="M228.2 306.8h5.1v5.7h-5.1zM204.5 312.1h5.1v5.7h-5.1zM374.8 312.1h5.1v5.7h-5.1zM478.9 317.4h5.1v5.7h-5.1zM351.2 333.3h5.1v5.7h-5.1zM303.9 338.6h9.9v5.7h-9.9z"/>
<path fill="#3c90b8" d="M242.4 306.8h5.1v5.7h-5.1zM469.4 317.4h5.1v5.7h-5.1z"/>
<path fill="#3c78b8" d="M251.8 306.8h5.1v5.7h-5.1zM275.5 306.8h5.1v5.7h-5.1zM270.8 317.4h5.1v5.7h-5.1z"/>
<path fill="#3c78b4" d="M256.6 306.8h5.1v5.7h-5.1zM247.1 317.4h5.1v5.7h-5.1zM412.7 322.7h5.1v5.7h-5.1z"/>
<path fill="#3c7cb8" d="M261.3 306.8h5.1v5.7h-5.1zM351.2 312.1h5.1v5.7h-5.1zM464.7 312.1h5.1v5.7h-5.1zM464.7 317.4h5.1v5.7h-5.1zM284.9 322.7h5.1v5.7h-5.1zM460 322.7h5.1v5.7h-5.1z"/>
<path fill="#5460a8" d="M284.9 306.8h5.1v5.7h-5.1z"/>
<path fill="#5858a8" d="M289.7 306.8h5.1v5.7h-5.1zM346.4 312.1h5.1v5.7h-5.1zM389 312.1h5.1v5.7h-5.1zM407.9 312.1h5.1v5.7h-5.1zM294.4 317.4h5.1v5.7h-5.1z"/>
<path fill="#5858a4" d="M294.4 306.8h5.1v5.7h-5.1zM398.5 312.1h9.9v5.7h-9.9zM299.1 317.4h9.9v5.7h-9.9zM341.7 317.4h5.1v5.7h-5.1z"/>
<path fill="#5854a4" d="M299.1 306.8h14.6v5.7h-14.6zM341.7 306.8h5.1v5.7h-5.1zM284.9 312.1h5.1v5.7h-5.1zM393.7 312.1h5.1v5.7h-5.1zM308.6 317.4h33.5v5.7h-33.5z"/>
<path fill="#5c54a4" d="M313.3 306.8h28.8v5.7h-28.8z"/>
<path fill="#5060a8" d="M346.4 306.8h5.1v5.7h-5.1zM280.2 312.1h5.1v5.7h-5.1zM417.4 312.1h5.1v5.7h-5.1z"/>
<path fill="#d4f09c" d="M370.1 306.8h5.1v5.7h-5.1zM502.5 333.3h5.1v5.7h-5.1zM209.3 338.6h19.3v5.7h-19.3zM384.3 359.8h5.1v5.7h-5.1zM403.2 365.1h5.1v5.7h-5.1zM460 365.1h5.1v5.7h-5.1zM318.1 370.4h19.3v5.7h-19.3z"/>
<path fill="#4094b8" d="M379.6 306.8h5.1v5.7h-5.1z"/>
<path fill="#5064ac" d="M389 306.8h5.1v5.7h-5.1zM403.2 306.8h5.1v5.7h-5.1zM384.3 312.1h5.1v5.7h-5.1zM450.5 312.1h5.1v5.7h-5.1zM417.4 317.4h33.5v5.7h-33.5z"/>
<path fill="#5060ac" d="M393.7 306.8h9.9v5.7h-9.9zM422.1 312.1h28.8v5.7h-28.8zM284.9 317.4h5.1v5.7h-5.1zM346.4 317.4h5.1v5.7h-5.1z"/>
<path fill="#4c64ac" d="M407.9 306.8h5.1v5.7h-5.1zM389 317.4h28.8v5.7h-28.8zM450.5 317.4h5.1v5.7h-5.1z"/>
<path fill="#4c68ac" d="M412.7 306.8h5.1v5.7h-5.1zM455.2 312.1h5.1v5.7h-5.1z"/>
<path fill="#4470b4" d="M455.2 306.8h5.1v5.7h-5.1zM266 312.1h5.1v5.7h-5.1zM384.3 317.4h5.1v5.7h-5.1zM299.1 322.7h5.1v5.7h-5.1zM417.4 322.7h5.1v5.7h-5.1z"/>
<path fill="#4098b4" d="M469.4 306.8h5.1v5.7h-5.1z"/>
<path fill="#e8f498" d="M530.9 306.8h5.1v5.7h-5.1zM530.9 317.4h5.1v5.7h-5.1zM370.1 328h5.1v5.7h-5.1zM195.1 333.3h5.1v5.7h-5.1zM502.5 343.9h14.6v5.7h-14.6zM209.3 349.2h5.1v5.7h-5.1zM218.7 349.2h5.1v5.7h-5.1zM374.8 349.2h5.1v5.7h-5.1zM228.2 354.5h5.1v5.7h-5.1zM232.9 359.8h5.1v5.7h-5.1zM379.6 365.1h5.1v5.7h-5.1zM474.2 365.1h5.1v5.7h-5.1zM237.6 370.4h5.1v5.7h-5.1zM469.4 370.4h5.1v5.7h-5.1zM346.4 375.7h5.1v5.7h-5.1zM389 375.7h5.1v5.7h-5.1zM464.7 375.7h5.1v5.7h-5.1zM284.9 381h14.6v5.7h-14.6zM341.7 381h5.1v5.7h-5.1zM412.7 381h47.7v5.7h-47.7zM270.8 386.3h9.9v5.7h-9.9z"/>
<path fill="#70c8a4" d="M228.2 312.1h5.1v5.7h-5.1zM256.6 333.3h5.1v5.7h-5.1zM384.3 333.3h5.1v5.7h-5.1z"/>
<path fill="#4870b0" d="M261.3 312.1h5.1v5.7h-5.1z"/>
<path fill="#5c50a4" d="M289.7 312.1h57.2v5.7h-57.2z"/>
<path fill="#545ca8" d="M412.7 312.1h5.1v5.7h-5.1zM289.7 317.4h5.1v5.7h-5.1z"/>
<path fill="#3890b8" d="M469.4 312.1h5.1v5.7h-5.1zM247.1 322.7h5.1v5.7h-5.1zM270.8 322.7h5.1v5.7h-5.1zM299.1 328h5.1v5.7h-5.1z"/>
<path fill="#c4e8a0" d="M526.2 312.1h5.1v5.7h-5.1zM521.5 322.7h5.1v5.7h-5.1zM502.5 328h14.6v5.7h-14.6zM478.9 338.6h5.1v5.7h-5.1zM351.2 349.2h5.1v5.7h-5.1zM389 354.5h19.3v5.7h-19.3zM464.7 354.5h5.1v5.7h-5.1zM251.8 359.8h24.1v5.7h-24.1zM308.6 359.8h33.5v5.7h-33.5z"/>
<path fill="#4074b4" d="M251.8 317.4h5.1v5.7h-5.1zM261.3 317.4h5.1v5.7h-5.1zM275.5 317.4h5.1v5.7h-5.1zM294.4 322.7h5.1v5.7h-5.1zM455.2 322.7h5.1v5.7h-5.1z"/>
<path fill="#4098b8" d="M379.6 317.4h5.1v5.7h-5.1zM289.7 328h5.1v5.7h-5.1z"/>
<path fill="#98d8a4" d="M512 317.4h5.1v5.7h-5.1zM308.6 343.9h5.1v5.7h-5.1zM417.4 343.9h5.1v5.7h-5.1z"/>
<path fill="#60bca8" d="M474.2 322.7h5.1v5.7h-5.1z"/>
<path fill="#64c0a4" d="M242.4 328h5.1v5.7h-5.1z"/>
<path fill="#50acb0" d="M251.8 328h5.1v5.7h-5.1zM261.3 328h5.1v5.7h-5.1zM384.3 328h5.1v5.7h-5.1zM426.9 333.3h24.1v5.7h-24.1z"/>
<path fill="#54acac" d="M266 328h5.1v5.7h-5.1zM275.5 328h5.1v5.7h-5.1zM322.8 333.3h19.3v5.7h-19.3zM450.5 333.3h5.1v5.7h-5.1z"/>
<path fill="#ace0a4" d="M474.2 338.6h5.1v5.7h-5.1zM450.5 349.2h5.1v5.7h-5.1z"/>
</g></g>
<line x1="107.2" y1="229.8" x2="646" y2="229.8" stroke="#000" stroke-width="4" stroke-dasharray="3.6 9.114"/>
<line x1="107.2" y1="283.8" x2="646" y2="283.8" stroke="#000" stroke-width="4" stroke-dasharray="3.6 9.114"/>
<line x1="105.4" y1="150.5" x2="115.4" y2="150.5" stroke="#222" stroke-width="1"/>
<line x1="105.4" y1="257" x2="115.4" y2="257" stroke="#222" stroke-width="1"/>
<line x1="105.4" y1="363" x2="115.4" y2="363" stroke="#222" stroke-width="1"/>
<line x1="105.4" y1="469.6" x2="115.4" y2="469.6" stroke="#222" stroke-width="1"/>
<line x1="178.2" y1="461.3" x2="178.2" y2="471.3" stroke="#222" stroke-width="1"/>
<line x1="273.35" y1="461.3" x2="273.35" y2="471.3" stroke="#222" stroke-width="1"/>
<line x1="368.5" y1="461.3" x2="368.5" y2="471.3" stroke="#222" stroke-width="1"/>
<line x1="463.65" y1="461.3" x2="463.65" y2="471.3" stroke="#222" stroke-width="1"/>
<line x1="558.8" y1="461.3" x2="558.8" y2="471.3" stroke="#222" stroke-width="1"/>
<line x1="104.9" y1="42.3" x2="654.5" y2="42.3" stroke="#000" stroke-width="1"/>
<line x1="104.9" y1="471.4" x2="654.5" y2="471.4" stroke="#000" stroke-width="1.1"/>
<line x1="105.5" y1="41.8" x2="105.5" y2="471.9" stroke="#000" stroke-width="1"/>
<line x1="654" y1="41.8" x2="654" y2="471.9" stroke="#000" stroke-width="1"/>
<text x="93.2" y="52.2" text-anchor="end">10</text>
<text x="93.2" y="159.2" text-anchor="end">5</text>
<text x="93.2" y="266.6" text-anchor="end">0</text>
<text x="93.2" y="373.1" text-anchor="end">−5</text>
<text x="93.2" y="480.3" text-anchor="end">−10</text>
<text x="177.2" y="504" text-anchor="middle">−2</text>
<text x="272.35" y="504" text-anchor="middle">−1</text>
<text x="368.5" y="504" text-anchor="middle">0</text>
<text x="463.65" y="504" text-anchor="middle">1</text>
<text x="558.8" y="504" text-anchor="middle">2</text>
<text x="653.95" y="504" text-anchor="middle">3</text>
<text x="361.6" y="544" font-style="italic">v<tspan font-style="normal" font-size="19" dx="-2" dy="8.3">TG</tspan></text>
<text transform="translate(22.3 310.6) rotate(-90)"><tspan font-style="italic">V</tspan><tspan font-size="19.5" dx="-5.6" dy="8" letter-spacing="0.75">d.c.</tspan><tspan dx="2.0" dy="-8" letter-spacing="-0.4"> (mV)</tspan></text>
<text x="-3.2" y="24.5" font-weight="bold" font-size="31.5">a</text>
<text x="255" y="23.2"><tspan font-style="italic">V</tspan><tspan font-size="19.5" dx="-2.4" dy="7.8" letter-spacing="-0.5">NL</tspan><tspan dx="0.6" dy="-7.8">/</tspan><tspan dx="1.2" font-style="italic">V</tspan><tspan font-size="19.5" dx="-2.2" dy="7.8" letter-spacing="-0.1">a.c.</tspan></text>
<text x="444" y="26.9" text-anchor="end">−0.08</text>
<text x="586.6" y="26.9">0.08</text>
<defs><linearGradient id="ga" x1="0" x2="1" y1="0" y2="0"><stop offset="0%" stop-color="#5e4fa2"/><stop offset="10%" stop-color="#3288bd"/><stop offset="20%" stop-color="#66c2a5"/><stop offset="30%" stop-color="#abdda4"/><stop offset="40%" stop-color="#e6f598"/><stop offset="50%" stop-color="#ffffbf"/><stop offset="60%" stop-color="#fee08b"/><stop offset="70%" stop-color="#fdae61"/><stop offset="80%" stop-color="#f46d43"/><stop offset="90%" stop-color="#d53e4f"/><stop offset="100%" stop-color="#9e0142"/></linearGradient></defs>
<rect x="455.4" y="1.7" width="119" height="28.7" fill="url(#ga)" stroke="#111" stroke-width="1"/>
<rect x="841" y="42" width="550.5" height="429.4" fill="#f6f6d4"/>
<g shape-rendering="crispEdges">
<path fill="#f0f0cc" d="M842.1 41.8h9.6v20.8h-9.6zM1297.6 62.2h9.6v20.8h-9.6zM1316.2 82.7h9.6v20.8h-9.6zM1344.1 82.7h9.6v20.8h-9.6zM870 144h9.6v20.8h-9.6zM1325.5 144h9.6v20.8h-9.6zM1213.9 205.3h9.6v20.8h-9.6zM990.8 225.8h9.6v20.8h-9.6zM1223.2 225.8h9.6v20.8h-9.6zM1260.4 225.8h9.6v20.8h-9.6zM1195.3 246.2h9.6v20.8h-9.6zM1325.5 246.2h18.9v20.8h-18.9zM851.4 266.7h9.6v20.8h-9.6zM1213.9 266.7h9.6v20.8h-9.6zM925.8 307.6h9.6v20.8h-9.6zM1316.2 328.1h9.6v20.8h-9.6zM1288.3 368.9h9.6v20.8h-9.6zM1297.6 389.4h9.6v20.8h-9.6zM870 430.3h9.6v20.8h-9.6zM1372 430.3h9.6v20.8h-9.6z"/>
<path fill="#eaeaba" d="M851.4 41.8h9.6v20.8h-9.6zM851.4 62.2h18.9v20.8h-18.9zM1279 103.1h9.6v20.8h-9.6zM888.6 123.5h9.6v20.8h-9.6zM1279 123.5h9.6v20.8h-9.6zM1279 144h9.6v20.8h-9.6zM897.9 164.4h9.6v20.8h-9.6zM1102.4 164.4h9.6v20.8h-9.6zM888.6 184.9h9.6v20.8h-9.6zM990.8 184.9h9.6v20.8h-9.6zM1353.4 184.9h9.6v20.8h-9.6zM1000.1 205.3h9.6v20.8h-9.6zM1018.7 205.3h9.6v20.8h-9.6zM1186.1 205.3h9.6v20.8h-9.6zM1353.4 205.3h9.6v20.8h-9.6zM1093.1 225.8h9.6v20.8h-9.6zM1139.6 225.8h9.6v20.8h-9.6zM1353.4 225.8h9.6v20.8h-9.6zM1167.5 246.2h9.6v20.8h-9.6zM1288.3 246.2h9.6v20.8h-9.6zM981.5 266.7h9.6v20.8h-9.6zM1009.4 266.7h9.6v20.8h-9.6zM1037.3 266.7h9.6v20.8h-9.6zM1074.5 266.7h9.6v20.8h-9.6zM1158.2 266.7h9.6v20.8h-9.6zM1353.4 266.7h9.6v20.8h-9.6zM888.6 287.1h9.6v20.8h-9.6zM1269.7 287.1h9.6v20.8h-9.6zM1353.4 287.1h9.6v20.8h-9.6zM1381.3 287.1h9.6v20.8h-9.6zM888.6 307.6h9.6v20.8h-9.6zM1102.4 307.6h9.6v20.8h-9.6zM935.1 328.1h9.6v20.8h-9.6zM851.4 348.5h9.6v20.8h-9.6zM1362.7 348.5h9.6v20.8h-9.6zM935.1 368.9h9.6v20.8h-9.6zM851.4 389.4h9.6v20.8h-9.6zM888.6 389.4h9.6v20.8h-9.6zM1279 409.8h9.6v20.8h-9.6zM1353.4 409.8h9.6v20.8h-9.6zM925.8 450.8h9.6v20.8h-9.6zM1279 450.8h18.9v20.8h-18.9z"/>
<path fill="#ececc2" d="M860.7 41.8h9.6v20.8h-9.6zM879.3 41.8h9.6v20.8h-9.6zM897.9 41.8h9.6v20.8h-9.6zM1297.6 41.8h9.6v20.8h-9.6zM842.1 62.2h9.6v20.8h-9.6zM860.7 103.1h9.6v20.8h-9.6zM1362.7 103.1h9.6v20.8h-9.6zM879.3 123.5h9.6v20.8h-9.6zM925.8 123.5h9.6v20.8h-9.6zM1362.7 123.5h9.6v20.8h-9.6zM851.4 144h9.6v20.8h-9.6zM879.3 144h9.6v20.8h-9.6zM897.9 144h9.6v20.8h-9.6zM1381.3 144h9.6v20.8h-9.6zM870 164.4h9.6v20.8h-9.6zM1306.9 184.9h9.6v20.8h-9.6zM1344.1 184.9h9.6v20.8h-9.6zM1362.7 184.9h9.6v20.8h-9.6zM962.9 205.3h9.6v20.8h-9.6zM1195.3 205.3h9.6v20.8h-9.6zM1232.5 205.3h18.9v20.8h-18.9zM1269.7 205.3h9.6v20.8h-9.6zM1130.3 225.8h9.6v20.8h-9.6zM1167.5 225.8h9.6v20.8h-9.6zM1186.1 225.8h9.6v20.8h-9.6zM1018.7 246.2h9.6v20.8h-9.6zM1065.2 246.2h18.9v20.8h-18.9zM1102.4 246.2h9.6v20.8h-9.6zM1158.2 246.2h9.6v20.8h-9.6zM1176.8 246.2h18.9v20.8h-18.9zM1269.7 246.2h9.6v20.8h-9.6zM1353.4 246.2h9.6v20.8h-9.6zM860.7 266.7h9.6v20.8h-9.6zM953.7 266.7h9.6v20.8h-9.6zM1251.1 266.7h9.6v20.8h-9.6zM879.3 287.1h9.6v20.8h-9.6zM925.8 287.1h18.9v20.8h-18.9zM1325.5 307.6h18.9v20.8h-18.9zM842.1 328.1h9.6v20.8h-9.6zM860.7 328.1h9.6v20.8h-9.6zM1288.3 348.5h9.6v20.8h-9.6zM870 368.9h9.6v20.8h-9.6zM1362.7 368.9h9.6v20.8h-9.6zM1381.3 368.9h9.6v20.8h-9.6zM1381.3 389.4h9.6v20.8h-9.6zM842.1 409.8h9.6v20.8h-9.6zM879.3 409.8h28.2v20.8h-28.2zM1362.7 409.8h9.6v20.8h-9.6zM851.4 430.3h9.6v20.8h-9.6zM851.4 450.8h9.6v20.8h-9.6zM879.3 450.8h9.6v20.8h-9.6zM1381.3 450.8h9.6v20.8h-9.6z"/>
<path fill="#eeeec8" d="M870 41.8h9.6v20.8h-9.6zM888.6 41.8h9.6v20.8h-9.6zM1288.3 41.8h9.6v20.8h-9.6zM1306.9 62.2h9.6v20.8h-9.6zM1353.4 62.2h9.6v20.8h-9.6zM842.1 82.7h9.6v20.8h-9.6zM1288.3 82.7h9.6v20.8h-9.6zM1381.3 82.7h9.6v20.8h-9.6zM842.1 103.1h9.6v20.8h-9.6zM907.2 103.1h9.6v20.8h-9.6zM1316.2 103.1h9.6v20.8h-9.6zM1288.3 123.5h18.9v20.8h-18.9zM1344.1 123.5h9.6v20.8h-9.6zM1297.6 144h9.6v20.8h-9.6zM925.8 164.4h9.6v20.8h-9.6zM1306.9 164.4h9.6v20.8h-9.6zM1334.8 164.4h9.6v20.8h-9.6zM1102.4 184.9h9.6v20.8h-9.6zM1288.3 184.9h9.6v20.8h-9.6zM851.4 205.3h9.6v20.8h-9.6zM888.6 205.3h9.6v20.8h-9.6zM1223.2 205.3h9.6v20.8h-9.6zM1297.6 205.3h9.6v20.8h-9.6zM1325.5 205.3h18.9v20.8h-18.9zM897.9 225.8h9.6v20.8h-9.6zM953.7 225.8h18.9v20.8h-18.9zM1204.6 225.8h9.6v20.8h-9.6zM1334.8 225.8h9.6v20.8h-9.6zM1362.7 225.8h9.6v20.8h-9.6zM851.4 246.2h18.9v20.8h-18.9zM972.2 246.2h9.6v20.8h-9.6zM1055.9 246.2h9.6v20.8h-9.6zM870 266.7h18.9v20.8h-18.9zM1176.8 266.7h9.6v20.8h-9.6zM1306.9 266.7h9.6v20.8h-9.6zM1334.8 266.7h9.6v20.8h-9.6zM842.1 287.1h9.6v20.8h-9.6zM1316.2 307.6h9.6v20.8h-9.6zM897.9 328.1h9.6v20.8h-9.6zM860.7 348.5h9.6v20.8h-9.6zM1297.6 348.5h9.6v20.8h-9.6zM1344.1 348.5h9.6v20.8h-9.6zM1381.3 348.5h9.6v20.8h-9.6zM916.5 368.9h9.6v20.8h-9.6zM1316.2 368.9h9.6v20.8h-9.6zM842.1 389.4h9.6v20.8h-9.6zM897.9 389.4h18.9v20.8h-18.9zM1344.1 389.4h9.6v20.8h-9.6zM1372 389.4h9.6v20.8h-9.6zM1306.9 409.8h9.6v20.8h-9.6zM897.9 430.3h9.6v20.8h-9.6zM916.5 450.8h9.6v20.8h-9.6z"/>
<path fill="#f2f2d8" d="M907.2 41.8h9.6v20.8h-9.6zM1325.5 103.1h9.6v20.8h-9.6zM907.2 266.7h9.6v20.8h-9.6zM907.2 287.1h9.6v20.8h-9.6zM1334.8 409.8h9.6v20.8h-9.6zM907.2 430.3h9.6v20.8h-9.6zM1316.2 430.3h9.6v20.8h-9.6zM1334.8 430.3h9.6v20.8h-9.6zM907.2 450.8h9.6v20.8h-9.6z"/>
<path fill="#eeeec4" d="M916.5 41.8h9.6v20.8h-9.6zM916.5 62.2h9.6v20.8h-9.6zM860.7 123.5h9.6v20.8h-9.6zM860.7 144h9.6v20.8h-9.6zM1316.2 144h9.6v20.8h-9.6zM1362.7 144h9.6v20.8h-9.6zM1269.7 184.9h9.6v20.8h-9.6zM1316.2 184.9h9.6v20.8h-9.6zM1334.8 184.9h9.6v20.8h-9.6zM1074.5 205.3h9.6v20.8h-9.6zM870 225.8h9.6v20.8h-9.6zM888.6 225.8h9.6v20.8h-9.6zM944.4 225.8h9.6v20.8h-9.6zM972.2 225.8h9.6v20.8h-9.6zM1055.9 225.8h9.6v20.8h-9.6zM1074.5 225.8h9.6v20.8h-9.6zM1102.4 225.8h9.6v20.8h-9.6zM1176.8 225.8h9.6v20.8h-9.6zM879.3 246.2h18.9v20.8h-18.9zM981.5 246.2h9.6v20.8h-9.6zM1037.3 246.2h9.6v20.8h-9.6zM1111.7 246.2h9.6v20.8h-9.6zM1232.5 246.2h9.6v20.8h-9.6zM1297.6 246.2h9.6v20.8h-9.6zM944.4 266.7h9.6v20.8h-9.6zM1269.7 266.7h9.6v20.8h-9.6zM1297.6 266.7h9.6v20.8h-9.6zM897.9 287.1h9.6v20.8h-9.6zM1306.9 287.1h9.6v20.8h-9.6zM1362.7 307.6h9.6v20.8h-9.6zM1353.4 328.1h9.6v20.8h-9.6zM842.1 348.5h9.6v20.8h-9.6zM879.3 348.5h9.6v20.8h-9.6zM916.5 348.5h9.6v20.8h-9.6zM1372 348.5h9.6v20.8h-9.6zM860.7 368.9h9.6v20.8h-9.6zM870 409.8h9.6v20.8h-9.6zM916.5 409.8h9.6v20.8h-9.6zM916.5 430.3h9.6v20.8h-9.6zM1297.6 430.3h9.6v20.8h-9.6zM1334.8 450.8h9.6v20.8h-9.6z"/>
<path fill="#e8e8b4" d="M925.8 41.8h9.6v20.8h-9.6zM925.8 82.7h9.6v20.8h-9.6zM851.4 103.1h9.6v20.8h-9.6zM935.1 103.1h9.6v20.8h-9.6zM851.4 123.5h9.6v20.8h-9.6zM1102.4 123.5h9.6v20.8h-9.6zM972.2 205.3h9.6v20.8h-9.6zM1121 205.3h9.6v20.8h-9.6zM1046.6 266.7h9.6v20.8h-9.6zM1083.8 266.7h18.9v20.8h-18.9zM1111.7 266.7h9.6v20.8h-9.6zM1195.3 266.7h9.6v20.8h-9.6zM1372 287.1h9.6v20.8h-9.6zM1279 307.6h9.6v20.8h-9.6zM1279 348.5h9.6v20.8h-9.6zM1279 368.9h9.6v20.8h-9.6zM925.8 389.4h9.6v20.8h-9.6zM860.7 409.8h9.6v20.8h-9.6zM925.8 430.3h9.6v20.8h-9.6zM1297.6 450.8h9.6v20.8h-9.6z"/>
<path fill="#e6e2b0" d="M935.1 41.8h9.6v20.8h-9.6zM1269.7 164.4h9.6v20.8h-9.6zM953.7 184.9h9.6v20.8h-9.6zM1167.5 184.9h18.9v20.8h-18.9zM1074.5 287.1h9.6v20.8h-9.6zM1223.2 287.1h9.6v20.8h-9.6zM1260.4 287.1h9.6v20.8h-9.6z"/>
<path fill="#ded2a6" d="M944.4 41.8h9.6v20.8h-9.6zM1130.3 184.9h9.6v20.8h-9.6zM1148.9 287.1h9.6v20.8h-9.6zM1111.7 307.6h9.6v20.8h-9.6zM953.7 328.1h9.6v20.8h-9.6zM1111.7 348.5h9.6v20.8h-9.6zM944.4 430.3h9.6v20.8h-9.6z"/>
<path fill="#d4b698" d="M953.7 41.8h9.6v20.8h-9.6zM1251.1 41.8h9.6v20.8h-9.6zM1251.1 62.2h9.6v20.8h-9.6zM981.5 123.5h9.6v20.8h-9.6zM1232.5 144h9.6v20.8h-9.6zM1195.3 328.1h9.6v20.8h-9.6zM1241.8 368.9h9.6v20.8h-9.6zM1111.7 409.8h9.6v20.8h-9.6zM1251.1 409.8h9.6v20.8h-9.6z"/>
<path fill="#d2ae94" d="M962.9 41.8h9.6v20.8h-9.6zM1009.4 144h9.6v20.8h-9.6zM1018.7 328.1h9.6v20.8h-9.6zM1121 328.1h9.6v20.8h-9.6zM981.5 368.9h9.6v20.8h-9.6zM972.2 450.8h9.6v20.8h-9.6z"/>
<path fill="#d0ac94" d="M972.2 41.8h9.6v20.8h-9.6zM1223.2 123.5h9.6v20.8h-9.6zM1213.9 144h9.6v20.8h-9.6z"/>
<path fill="#ca9a8a" d="M981.5 41.8h9.6v20.8h-9.6zM1083.8 368.9h9.6v20.8h-9.6zM1186.1 389.4h9.6v20.8h-9.6z"/>
<path fill="#c89688" d="M990.8 41.8h9.6v20.8h-9.6zM1055.9 103.1h9.6v20.8h-9.6zM1018.7 123.5h9.6v20.8h-9.6zM1046.6 123.5h9.6v20.8h-9.6zM1028 348.5h9.6v20.8h-9.6zM1204.6 348.5h9.6v20.8h-9.6zM1121 368.9h9.6v20.8h-9.6z"/>
<path fill="#c07e7e" d="M1000.1 41.8h9.6v20.8h-9.6zM1000.1 62.2h9.6v20.8h-9.6zM1074.5 62.2h9.6v20.8h-9.6zM1074.5 82.7h9.6v20.8h-9.6zM1018.7 103.1h9.6v20.8h-9.6zM1121 430.3h9.6v20.8h-9.6z"/>
<path fill="#a66c6c" d="M1009.4 41.8h9.6v20.8h-9.6zM1018.7 62.2h9.6v20.8h-9.6zM1204.6 82.7h9.6v20.8h-9.6zM1148.9 389.4h9.6v20.8h-9.6z"/>
<path fill="#a06868" d="M1018.7 41.8h9.6v20.8h-9.6zM1037.3 409.8h9.6v20.8h-9.6zM1130.3 409.8h9.6v20.8h-9.6z"/>
<path fill="#986262" d="M1028 41.8h9.6v20.8h-9.6zM1055.9 41.8h9.6v20.8h-9.6zM1223.2 41.8h9.6v20.8h-9.6zM1028 62.2h9.6v20.8h-9.6zM1148.9 82.7h9.6v20.8h-9.6zM1018.7 409.8h9.6v20.8h-9.6zM1065.2 450.8h9.6v20.8h-9.6z"/>
<path fill="#8e5c5c" d="M1037.3 41.8h9.6v20.8h-9.6zM1148.9 430.3h18.9v20.8h-18.9z"/>
<path fill="#885858" d="M1046.6 41.8h9.6v20.8h-9.6zM1028 409.8h9.6v20.8h-9.6z"/>
<path fill="#9a6464" d="M1065.2 41.8h9.6v20.8h-9.6zM1046.6 62.2h9.6v20.8h-9.6zM1158.2 62.2h9.6v20.8h-9.6zM1028 389.4h9.6v20.8h-9.6z"/>
<path fill="#ae7070" d="M1074.5 41.8h9.6v20.8h-9.6zM1055.9 62.2h9.6v20.8h-9.6zM1176.8 62.2h9.6v20.8h-9.6zM1195.3 62.2h9.6v20.8h-9.6zM1018.7 82.7h18.9v20.8h-18.9zM1139.6 82.7h9.6v20.8h-9.6zM1195.3 409.8h9.6v20.8h-9.6z"/>
<path fill="#bc7a7a" d="M1083.8 41.8h9.6v20.8h-9.6zM1083.8 82.7h9.6v20.8h-9.6zM1121 82.7h9.6v20.8h-9.6zM1028 103.1h9.6v20.8h-9.6zM1139.6 103.1h9.6v20.8h-9.6zM1158.2 103.1h9.6v20.8h-9.6zM1158.2 368.9h9.6v20.8h-9.6zM1213.9 368.9h9.6v20.8h-9.6zM1046.6 389.4h9.6v20.8h-9.6zM1074.5 389.4h9.6v20.8h-9.6zM1000.1 430.3h9.6v20.8h-9.6z"/>
<path fill="#d2b296" d="M1093.1 41.8h9.6v20.8h-9.6zM962.9 62.2h9.6v20.8h-9.6zM990.8 103.1h9.6v20.8h-9.6zM1074.5 144h9.6v20.8h-9.6zM1186.1 144h9.6v20.8h-9.6zM1158.2 307.6h9.6v20.8h-9.6zM1167.5 328.1h9.6v20.8h-9.6zM981.5 389.4h9.6v20.8h-9.6zM962.9 409.8h9.6v20.8h-9.6zM953.7 450.8h9.6v20.8h-9.6z"/>
<path fill="#decea6" d="M1102.4 41.8h9.6v20.8h-9.6zM953.7 144h9.6v20.8h-9.6zM1223.2 164.4h9.6v20.8h-9.6zM1139.6 184.9h9.6v20.8h-9.6zM953.7 368.9h9.6v20.8h-9.6zM1269.7 430.3h9.6v20.8h-9.6z"/>
<path fill="#d8c09e" d="M1111.7 41.8h9.6v20.8h-9.6zM953.7 82.7h9.6v20.8h-9.6zM962.9 103.1h9.6v20.8h-9.6zM1223.2 144h9.6v20.8h-9.6zM1046.6 164.4h9.6v20.8h-9.6zM1241.8 164.4h9.6v20.8h-9.6zM1074.5 307.6h9.6v20.8h-9.6zM1223.2 328.1h9.6v20.8h-9.6zM1241.8 328.1h9.6v20.8h-9.6zM972.2 368.9h9.6v20.8h-9.6zM1111.7 389.4h9.6v20.8h-9.6zM1111.7 450.8h9.6v20.8h-9.6zM1260.4 450.8h9.6v20.8h-9.6z"/>
<path fill="#c27e7e" d="M1121 41.8h9.6v20.8h-9.6zM1186.1 62.2h9.6v20.8h-9.6zM1037.3 368.9h9.6v20.8h-9.6zM1121 389.4h9.6v20.8h-9.6zM1074.5 409.8h9.6v20.8h-9.6zM1186.1 409.8h9.6v20.8h-9.6zM1232.5 450.8h9.6v20.8h-9.6z"/>
<path fill="#a26868" d="M1130.3 41.8h9.6v20.8h-9.6zM1046.6 409.8h9.6v20.8h-9.6zM1130.3 430.3h9.6v20.8h-9.6zM1074.5 450.8h9.6v20.8h-9.6z"/>
<path fill="#9c6464" d="M1139.6 41.8h9.6v20.8h-9.6zM1176.8 430.3h9.6v20.8h-9.6zM1223.2 430.3h9.6v20.8h-9.6zM1009.4 450.8h9.6v20.8h-9.6z"/>
<path fill="#865656" d="M1148.9 41.8h18.9v20.8h-18.9zM1204.6 62.2h9.6v20.8h-9.6zM1046.6 450.8h9.6v20.8h-9.6zM1223.2 450.8h9.6v20.8h-9.6z"/>
<path fill="#a26a6a" d="M1167.5 41.8h9.6v20.8h-9.6zM1037.3 62.2h9.6v20.8h-9.6zM1223.2 409.8h9.6v20.8h-9.6z"/>
<path fill="#9e6666" d="M1176.8 41.8h9.6v20.8h-9.6zM1009.4 430.3h9.6v20.8h-9.6zM1065.2 430.3h9.6v20.8h-9.6z"/>
<path fill="#ac7070" d="M1186.1 41.8h9.6v20.8h-9.6zM1065.2 62.2h9.6v20.8h-9.6zM1148.9 103.1h9.6v20.8h-9.6zM1139.6 409.8h9.6v20.8h-9.6z"/>
<path fill="#905e5e" d="M1195.3 41.8h9.6v20.8h-9.6zM1055.9 450.8h9.6v20.8h-9.6z"/>
<path fill="#6a4242" d="M1204.6 41.8h9.6v20.8h-9.6z"/>
<path fill="#7a4e4e" d="M1213.9 41.8h9.6v20.8h-9.6zM1213.9 430.3h9.6v20.8h-9.6zM1037.3 450.8h9.6v20.8h-9.6zM1148.9 450.8h9.6v20.8h-9.6z"/>
<path fill="#c2807e" d="M1232.5 41.8h9.6v20.8h-9.6zM1232.5 62.2h9.6v20.8h-9.6zM1055.9 82.7h9.6v20.8h-9.6zM1121 103.1h9.6v20.8h-9.6z"/>
<path fill="#d4b498" d="M1241.8 41.8h9.6v20.8h-9.6zM1000.1 123.5h9.6v20.8h-9.6zM1018.7 144h9.6v20.8h-9.6zM1055.9 144h9.6v20.8h-9.6zM1083.8 144h9.6v20.8h-9.6zM1204.6 144h9.6v20.8h-9.6zM1121 164.4h9.6v20.8h-9.6zM1139.6 164.4h9.6v20.8h-9.6zM1158.2 164.4h9.6v20.8h-9.6zM1139.6 307.6h9.6v20.8h-9.6zM1055.9 328.1h9.6v20.8h-9.6zM1000.1 348.5h9.6v20.8h-9.6zM953.7 430.3h18.9v20.8h-18.9zM1093.1 430.3h9.6v20.8h-9.6z"/>
<path fill="#d6bc9c" d="M1260.4 41.8h9.6v20.8h-9.6zM953.7 62.2h9.6v20.8h-9.6zM1111.7 62.2h9.6v20.8h-9.6zM1241.8 62.2h9.6v20.8h-9.6zM962.9 82.7h9.6v20.8h-9.6zM1251.1 82.7h9.6v20.8h-9.6zM1241.8 123.5h9.6v20.8h-9.6zM1195.3 144h9.6v20.8h-9.6zM1241.8 144h9.6v20.8h-9.6zM1000.1 328.1h9.6v20.8h-9.6zM1186.1 328.1h9.6v20.8h-9.6zM981.5 348.5h9.6v20.8h-9.6z"/>
<path fill="#ded0a6" d="M1269.7 41.8h9.6v20.8h-9.6zM1111.7 103.1h9.6v20.8h-9.6zM972.2 164.4h9.6v20.8h-9.6zM1093.1 164.4h9.6v20.8h-9.6zM1046.6 184.9h9.6v20.8h-9.6zM990.8 307.6h9.6v20.8h-9.6zM1223.2 307.6h9.6v20.8h-9.6zM1260.4 348.5h18.9v20.8h-18.9zM1102.4 409.8h9.6v20.8h-9.6zM1269.7 409.8h9.6v20.8h-9.6z"/>
<path fill="#ececc0" d="M1279 41.8h9.6v20.8h-9.6zM897.9 62.2h9.6v20.8h-9.6zM888.6 82.7h9.6v20.8h-9.6zM1381.3 103.1h9.6v20.8h-9.6zM925.8 144h9.6v20.8h-9.6zM1316.2 164.4h9.6v20.8h-9.6zM860.7 184.9h9.6v20.8h-9.6zM879.3 184.9h9.6v20.8h-9.6zM1148.9 205.3h9.6v20.8h-9.6zM1251.1 205.3h9.6v20.8h-9.6zM981.5 225.8h9.6v20.8h-9.6zM1000.1 225.8h18.9v20.8h-18.9zM1046.6 225.8h9.6v20.8h-9.6zM1241.8 225.8h9.6v20.8h-9.6zM1372 225.8h9.6v20.8h-9.6zM935.1 246.2h9.6v20.8h-9.6zM1028 246.2h9.6v20.8h-9.6zM1139.6 246.2h9.6v20.8h-9.6zM1028 266.7h9.6v20.8h-9.6zM1055.9 266.7h9.6v20.8h-9.6zM1148.9 266.7h9.6v20.8h-9.6zM1344.1 266.7h9.6v20.8h-9.6zM1362.7 266.7h9.6v20.8h-9.6zM1316.2 287.1h9.6v20.8h-9.6zM1362.7 287.1h9.6v20.8h-9.6zM860.7 307.6h9.6v20.8h-9.6zM879.3 307.6h9.6v20.8h-9.6zM935.1 307.6h9.6v20.8h-9.6zM1381.3 307.6h9.6v20.8h-9.6z"/>
<path fill="#f0f0d2" d="M1306.9 41.8h18.9v20.8h-18.9zM1344.1 41.8h9.6v20.8h-9.6zM1362.7 41.8h18.9v20.8h-18.9zM1325.5 62.2h9.6v20.8h-9.6zM1334.8 82.7h9.6v20.8h-9.6zM1288.3 103.1h9.6v20.8h-9.6zM1353.4 123.5h9.6v20.8h-9.6zM1372 144h9.6v20.8h-9.6zM907.2 205.3h9.6v20.8h-9.6zM990.8 205.3h9.6v20.8h-9.6zM1288.3 205.3h9.6v20.8h-9.6zM1325.5 266.7h9.6v20.8h-9.6zM1381.3 266.7h9.6v20.8h-9.6zM1297.6 287.1h9.6v20.8h-9.6zM1381.3 328.1h9.6v20.8h-9.6zM1344.1 368.9h9.6v20.8h-9.6zM1316.2 389.4h18.9v20.8h-18.9zM1344.1 409.8h9.6v20.8h-9.6zM1344.1 430.3h9.6v20.8h-9.6zM842.1 450.8h9.6v20.8h-9.6zM897.9 450.8h9.6v20.8h-9.6zM1344.1 450.8h9.6v20.8h-9.6z"/>
<path fill="#f6f6e4" d="M1325.5 41.8h9.6v20.8h-9.6z"/>
<path fill="#f0f0ce" d="M1334.8 41.8h9.6v20.8h-9.6zM1353.4 41.8h9.6v20.8h-9.6zM870 62.2h9.6v20.8h-9.6zM907.2 62.2h9.6v20.8h-9.6zM1344.1 62.2h9.6v20.8h-9.6zM1362.7 62.2h9.6v20.8h-9.6zM1381.3 62.2h9.6v20.8h-9.6zM1306.9 82.7h9.6v20.8h-9.6zM1353.4 82.7h9.6v20.8h-9.6zM897.9 103.1h9.6v20.8h-9.6zM1325.5 123.5h9.6v20.8h-9.6zM1306.9 144h9.6v20.8h-9.6zM916.5 164.4h9.6v20.8h-9.6zM1288.3 164.4h9.6v20.8h-9.6zM1325.5 164.4h9.6v20.8h-9.6zM851.4 184.9h9.6v20.8h-9.6zM916.5 184.9h18.9v20.8h-18.9zM870 205.3h9.6v20.8h-9.6zM916.5 205.3h18.9v20.8h-18.9zM1102.4 205.3h9.6v20.8h-9.6zM1204.6 205.3h9.6v20.8h-9.6zM1381.3 205.3h9.6v20.8h-9.6zM851.4 225.8h18.9v20.8h-18.9zM879.3 225.8h9.6v20.8h-9.6zM935.1 225.8h9.6v20.8h-9.6zM1213.9 225.8h9.6v20.8h-9.6zM962.9 246.2h9.6v20.8h-9.6zM1046.6 246.2h9.6v20.8h-9.6zM1344.1 246.2h9.6v20.8h-9.6zM925.8 266.7h9.6v20.8h-9.6zM1223.2 266.7h18.9v20.8h-18.9zM851.4 287.1h9.6v20.8h-9.6zM916.5 287.1h9.6v20.8h-9.6zM1334.8 287.1h9.6v20.8h-9.6zM1306.9 328.1h9.6v20.8h-9.6zM897.9 348.5h9.6v20.8h-9.6zM1325.5 368.9h9.6v20.8h-9.6zM1353.4 368.9h9.6v20.8h-9.6zM1334.8 389.4h9.6v20.8h-9.6zM907.2 409.8h9.6v20.8h-9.6zM1288.3 409.8h9.6v20.8h-9.6zM1325.5 409.8h9.6v20.8h-9.6zM1372 409.8h18.9v20.8h-18.9zM860.7 450.8h9.6v20.8h-9.6z"/>
<path fill="#eeeeca" d="M1381.3 41.8h9.6v20.8h-9.6zM888.6 103.1h9.6v20.8h-9.6zM1353.4 103.1h9.6v20.8h-9.6zM1176.8 205.3h9.6v20.8h-9.6zM842.1 225.8h9.6v20.8h-9.6zM1297.6 225.8h18.9v20.8h-18.9zM1325.5 225.8h9.6v20.8h-9.6zM1083.8 246.2h9.6v20.8h-9.6zM1121 246.2h9.6v20.8h-9.6zM1223.2 246.2h9.6v20.8h-9.6zM916.5 266.7h9.6v20.8h-9.6zM1167.5 266.7h9.6v20.8h-9.6zM1204.6 266.7h9.6v20.8h-9.6zM1316.2 266.7h9.6v20.8h-9.6zM860.7 287.1h9.6v20.8h-9.6zM1325.5 287.1h9.6v20.8h-9.6zM916.5 307.6h9.6v20.8h-9.6zM907.2 328.1h9.6v20.8h-9.6zM1288.3 328.1h18.9v20.8h-18.9zM1334.8 328.1h9.6v20.8h-9.6zM1288.3 389.4h9.6v20.8h-9.6zM1306.9 389.4h9.6v20.8h-9.6zM1316.2 409.8h9.6v20.8h-9.6zM842.1 430.3h9.6v20.8h-9.6zM888.6 430.3h9.6v20.8h-9.6zM888.6 450.8h9.6v20.8h-9.6z"/>
<path fill="#eaeabe" d="M879.3 62.2h9.6v20.8h-9.6zM870 103.1h9.6v20.8h-9.6zM860.7 164.4h9.6v20.8h-9.6zM879.3 164.4h9.6v20.8h-9.6zM1028 205.3h9.6v20.8h-9.6zM1372 205.3h9.6v20.8h-9.6zM870 246.2h9.6v20.8h-9.6zM1241.8 246.2h9.6v20.8h-9.6zM1372 246.2h9.6v20.8h-9.6zM962.9 266.7h9.6v20.8h-9.6zM1372 266.7h9.6v20.8h-9.6zM1279 287.1h9.6v20.8h-9.6zM851.4 307.6h9.6v20.8h-9.6zM1372 307.6h9.6v20.8h-9.6zM888.6 328.1h9.6v20.8h-9.6zM925.8 328.1h9.6v20.8h-9.6zM1102.4 328.1h9.6v20.8h-9.6zM925.8 348.5h18.9v20.8h-18.9zM851.4 409.8h9.6v20.8h-9.6zM1288.3 430.3h9.6v20.8h-9.6z"/>
<path fill="#ececbe" d="M888.6 62.2h9.6v20.8h-9.6zM860.7 82.7h9.6v20.8h-9.6zM1372 103.1h9.6v20.8h-9.6zM842.1 144h9.6v20.8h-9.6zM907.2 144h9.6v20.8h-9.6zM1102.4 144h9.6v20.8h-9.6zM935.1 164.4h9.6v20.8h-9.6zM1353.4 164.4h9.6v20.8h-9.6zM1279 184.9h9.6v20.8h-9.6zM1381.3 184.9h9.6v20.8h-9.6zM953.7 205.3h9.6v20.8h-9.6zM1037.3 205.3h9.6v20.8h-9.6zM1055.9 205.3h9.6v20.8h-9.6zM1148.9 225.8h18.9v20.8h-18.9zM1232.5 225.8h9.6v20.8h-9.6zM1000.1 246.2h9.6v20.8h-9.6zM1213.9 246.2h9.6v20.8h-9.6zM972.2 266.7h9.6v20.8h-9.6zM916.5 328.1h9.6v20.8h-9.6zM842.1 368.9h9.6v20.8h-9.6zM860.7 389.4h9.6v20.8h-9.6z"/>
<path fill="#e6e4b2" d="M925.8 62.2h9.6v20.8h-9.6zM935.1 82.7h9.6v20.8h-9.6zM1204.6 184.9h9.6v20.8h-9.6zM1093.1 205.3h9.6v20.8h-9.6zM1111.7 205.3h9.6v20.8h-9.6zM1111.7 225.8h9.6v20.8h-9.6zM1121 266.7h9.6v20.8h-9.6zM944.4 287.1h9.6v20.8h-9.6zM962.9 287.1h18.9v20.8h-18.9zM1111.7 287.1h9.6v20.8h-9.6zM1176.8 287.1h9.6v20.8h-9.6zM1102.4 348.5h9.6v20.8h-9.6zM935.1 389.4h9.6v20.8h-9.6zM935.1 430.3h9.6v20.8h-9.6zM935.1 450.8h9.6v20.8h-9.6z"/>
<path fill="#e4deae" d="M935.1 62.2h9.6v20.8h-9.6zM1213.9 184.9h9.6v20.8h-9.6zM953.7 287.1h9.6v20.8h-9.6zM1251.1 287.1h9.6v20.8h-9.6zM1269.7 328.1h9.6v20.8h-9.6z"/>
<path fill="#ded2a8" d="M944.4 62.2h9.6v20.8h-9.6zM1251.1 164.4h9.6v20.8h-9.6zM1028 184.9h9.6v20.8h-9.6zM1065.2 184.9h9.6v20.8h-9.6zM1139.6 287.1h9.6v20.8h-9.6zM1251.1 307.6h9.6v20.8h-9.6z"/>
<path fill="#d2b096" d="M972.2 62.2h9.6v20.8h-9.6zM1130.3 164.4h9.6v20.8h-9.6zM1130.3 307.6h9.6v20.8h-9.6zM1148.9 307.6h9.6v20.8h-9.6zM1046.6 328.1h9.6v20.8h-9.6zM1083.8 328.1h9.6v20.8h-9.6zM1204.6 328.1h18.9v20.8h-18.9zM990.8 368.9h9.6v20.8h-9.6zM972.2 430.3h9.6v20.8h-9.6z"/>
<path fill="#cea490" d="M981.5 62.2h18.9v20.8h-18.9zM1186.1 123.5h9.6v20.8h-9.6zM1130.3 144h9.6v20.8h-9.6zM1037.3 328.1h9.6v20.8h-9.6zM1074.5 348.5h9.6v20.8h-9.6zM1186.1 348.5h9.6v20.8h-9.6zM1065.2 368.9h9.6v20.8h-9.6zM962.9 450.8h9.6v20.8h-9.6z"/>
<path fill="#b27474" d="M1009.4 62.2h9.6v20.8h-9.6zM1037.3 82.7h9.6v20.8h-9.6zM1130.3 82.7h9.6v20.8h-9.6zM1130.3 389.4h9.6v20.8h-9.6zM1167.5 389.4h9.6v20.8h-9.6zM1195.3 389.4h9.6v20.8h-9.6zM1186.1 430.3h9.6v20.8h-9.6z"/>
<path fill="#be7c7c" d="M1083.8 62.2h9.6v20.8h-9.6zM1009.4 82.7h9.6v20.8h-9.6zM1167.5 82.7h9.6v20.8h-9.6zM1037.3 103.1h9.6v20.8h-9.6zM1028 368.9h9.6v20.8h-9.6zM1204.6 368.9h9.6v20.8h-9.6zM1055.9 389.4h9.6v20.8h-9.6zM1000.1 409.8h9.6v20.8h-9.6zM1232.5 409.8h9.6v20.8h-9.6zM1083.8 430.3h9.6v20.8h-9.6z"/>
<path fill="#d6ba9a" d="M1093.1 62.2h9.6v20.8h-9.6zM1093.1 82.7h9.6v20.8h-9.6zM1241.8 103.1h9.6v20.8h-9.6zM990.8 123.5h9.6v20.8h-9.6zM1018.7 307.6h9.6v20.8h-9.6zM1121 307.6h9.6v20.8h-9.6zM1241.8 348.5h9.6v20.8h-9.6zM1251.1 368.9h9.6v20.8h-9.6zM1093.1 389.4h9.6v20.8h-9.6zM1251.1 389.4h9.6v20.8h-9.6zM1241.8 409.8h9.6v20.8h-9.6zM1111.7 430.3h9.6v20.8h-9.6zM1251.1 430.3h9.6v20.8h-9.6z"/>
<path fill="#e0d6aa" d="M1102.4 62.2h9.6v20.8h-9.6zM1102.4 82.7h9.6v20.8h-9.6zM944.4 123.5h9.6v20.8h-9.6zM1111.7 144h9.6v20.8h-9.6zM1260.4 164.4h9.6v20.8h-9.6zM981.5 184.9h9.6v20.8h-9.6zM1037.3 184.9h9.6v20.8h-9.6zM1269.7 368.9h9.6v20.8h-9.6z"/>
<path fill="#b47676" d="M1121 62.2h9.6v20.8h-9.6zM1167.5 62.2h9.6v20.8h-9.6z"/>
<path fill="#a86c6c" d="M1130.3 62.2h9.6v20.8h-9.6zM1223.2 62.2h9.6v20.8h-9.6zM1158.2 389.4h9.6v20.8h-9.6z"/>
<path fill="#aa6e6e" d="M1139.6 62.2h9.6v20.8h-9.6zM1148.9 368.9h9.6v20.8h-9.6zM1018.7 389.4h9.6v20.8h-9.6zM1009.4 409.8h9.6v20.8h-9.6zM1176.8 409.8h9.6v20.8h-9.6zM1074.5 430.3h9.6v20.8h-9.6z"/>
<path fill="#905c5c" d="M1148.9 62.2h9.6v20.8h-9.6zM1148.9 409.8h9.6v20.8h-9.6zM1037.3 430.3h9.6v20.8h-9.6z"/>
<path fill="#925e5e" d="M1213.9 62.2h9.6v20.8h-9.6zM1204.6 409.8h18.9v20.8h-18.9zM1046.6 430.3h9.6v20.8h-9.6zM1139.6 450.8h9.6v20.8h-9.6zM1186.1 450.8h9.6v20.8h-9.6z"/>
<path fill="#d8c29e" d="M1260.4 62.2h18.9v20.8h-18.9zM1000.1 144h9.6v20.8h-9.6zM1065.2 164.4h9.6v20.8h-9.6zM1083.8 164.4h9.6v20.8h-9.6zM1028 307.6h9.6v20.8h-9.6zM1251.1 348.5h9.6v20.8h-9.6zM1093.1 368.9h9.6v20.8h-9.6zM1111.7 368.9h9.6v20.8h-9.6zM1260.4 368.9h9.6v20.8h-9.6z"/>
<path fill="#eeeec6" d="M1279 62.2h9.6v20.8h-9.6zM897.9 82.7h9.6v20.8h-9.6zM1362.7 82.7h9.6v20.8h-9.6zM1372 123.5h9.6v20.8h-9.6zM1334.8 144h9.6v20.8h-9.6zM1353.4 144h9.6v20.8h-9.6zM1344.1 164.4h9.6v20.8h-9.6zM944.4 205.3h9.6v20.8h-9.6zM1279 205.3h9.6v20.8h-9.6zM1306.9 205.3h18.9v20.8h-18.9zM916.5 225.8h9.6v20.8h-9.6zM1083.8 225.8h9.6v20.8h-9.6zM1316.2 225.8h9.6v20.8h-9.6zM897.9 246.2h9.6v20.8h-9.6zM916.5 246.2h9.6v20.8h-9.6zM1093.1 246.2h9.6v20.8h-9.6zM1204.6 246.2h9.6v20.8h-9.6zM1279 246.2h9.6v20.8h-9.6zM1241.8 266.7h9.6v20.8h-9.6zM870 287.1h9.6v20.8h-9.6zM1344.1 287.1h9.6v20.8h-9.6zM1306.9 307.6h9.6v20.8h-9.6zM1344.1 307.6h9.6v20.8h-9.6zM851.4 328.1h9.6v20.8h-9.6zM870 328.1h9.6v20.8h-9.6zM1325.5 328.1h9.6v20.8h-9.6zM1362.7 328.1h9.6v20.8h-9.6zM907.2 348.5h9.6v20.8h-9.6zM1334.8 368.9h9.6v20.8h-9.6zM870 389.4h9.6v20.8h-9.6zM870 450.8h9.6v20.8h-9.6z"/>
<path fill="#f0f0d0" d="M1288.3 62.2h9.6v20.8h-9.6zM1316.2 62.2h9.6v20.8h-9.6zM1334.8 62.2h9.6v20.8h-9.6zM1306.9 103.1h9.6v20.8h-9.6zM1325.5 184.9h9.6v20.8h-9.6zM935.1 205.3h9.6v20.8h-9.6zM1167.5 205.3h9.6v20.8h-9.6zM842.1 246.2h9.6v20.8h-9.6zM1130.3 246.2h9.6v20.8h-9.6zM935.1 266.7h9.6v20.8h-9.6zM990.8 266.7h9.6v20.8h-9.6zM907.2 307.6h9.6v20.8h-9.6zM1288.3 307.6h9.6v20.8h-9.6zM1316.2 348.5h9.6v20.8h-9.6zM897.9 368.9h9.6v20.8h-9.6zM1297.6 368.9h9.6v20.8h-9.6zM1353.4 389.4h9.6v20.8h-9.6zM1316.2 450.8h9.6v20.8h-9.6z"/>
<path fill="#eeeecc" d="M1372 62.2h9.6v20.8h-9.6zM907.2 82.7h9.6v20.8h-9.6zM1297.6 82.7h9.6v20.8h-9.6zM1334.8 103.1h9.6v20.8h-9.6zM897.9 123.5h9.6v20.8h-9.6zM1344.1 144h9.6v20.8h-9.6zM870 184.9h9.6v20.8h-9.6zM860.7 205.3h9.6v20.8h-9.6zM879.3 205.3h9.6v20.8h-9.6zM897.9 205.3h9.6v20.8h-9.6zM1260.4 205.3h9.6v20.8h-9.6zM907.2 225.8h9.6v20.8h-9.6zM925.8 225.8h9.6v20.8h-9.6zM1344.1 225.8h9.6v20.8h-9.6zM1381.3 225.8h9.6v20.8h-9.6zM944.4 246.2h18.9v20.8h-18.9zM1009.4 246.2h9.6v20.8h-9.6zM1306.9 246.2h18.9v20.8h-18.9zM1362.7 246.2h9.6v20.8h-9.6zM888.6 266.7h18.9v20.8h-18.9zM1279 266.7h9.6v20.8h-9.6zM1353.4 307.6h9.6v20.8h-9.6zM1353.4 348.5h9.6v20.8h-9.6zM1362.7 389.4h9.6v20.8h-9.6zM1297.6 409.8h9.6v20.8h-9.6zM1362.7 430.3h9.6v20.8h-9.6zM1381.3 430.3h9.6v20.8h-9.6z"/>
<path fill="#eaeab6" d="M851.4 82.7h9.6v20.8h-9.6zM916.5 82.7h9.6v20.8h-9.6zM935.1 123.5h9.6v20.8h-9.6zM962.9 184.9h9.6v20.8h-9.6zM1018.7 225.8h9.6v20.8h-9.6zM1139.6 266.7h9.6v20.8h-9.6zM842.1 307.6h9.6v20.8h-9.6zM897.9 307.6h9.6v20.8h-9.6zM888.6 348.5h9.6v20.8h-9.6zM879.3 389.4h9.6v20.8h-9.6zM1279 389.4h9.6v20.8h-9.6zM1279 430.3h9.6v20.8h-9.6z"/>
<path fill="#ececc4" d="M870 82.7h9.6v20.8h-9.6zM1279 82.7h9.6v20.8h-9.6zM1372 82.7h9.6v20.8h-9.6zM916.5 103.1h18.9v20.8h-18.9zM842.1 123.5h9.6v20.8h-9.6zM870 123.5h9.6v20.8h-9.6zM916.5 123.5h9.6v20.8h-9.6zM1316.2 123.5h9.6v20.8h-9.6zM1381.3 123.5h9.6v20.8h-9.6zM916.5 144h9.6v20.8h-9.6zM851.4 164.4h9.6v20.8h-9.6zM1362.7 164.4h18.9v20.8h-18.9zM842.1 184.9h9.6v20.8h-9.6zM897.9 184.9h9.6v20.8h-9.6zM935.1 184.9h9.6v20.8h-9.6zM1344.1 205.3h9.6v20.8h-9.6zM1362.7 205.3h9.6v20.8h-9.6zM1028 225.8h9.6v20.8h-9.6zM1195.3 225.8h9.6v20.8h-9.6zM1251.1 225.8h9.6v20.8h-9.6zM1269.7 225.8h28.2v20.8h-28.2zM907.2 246.2h9.6v20.8h-9.6zM925.8 246.2h9.6v20.8h-9.6zM990.8 246.2h9.6v20.8h-9.6zM1148.9 246.2h9.6v20.8h-9.6zM1251.1 246.2h18.9v20.8h-18.9zM1381.3 246.2h9.6v20.8h-9.6zM1260.4 266.7h9.6v20.8h-9.6zM870 307.6h9.6v20.8h-9.6zM879.3 328.1h9.6v20.8h-9.6zM1344.1 328.1h9.6v20.8h-9.6zM1325.5 348.5h9.6v20.8h-9.6zM907.2 368.9h9.6v20.8h-9.6zM1372 368.9h9.6v20.8h-9.6zM879.3 430.3h9.6v20.8h-9.6z"/>
<path fill="#e8e6b2" d="M879.3 82.7h9.6v20.8h-9.6zM944.4 184.9h9.6v20.8h-9.6zM1223.2 184.9h9.6v20.8h-9.6zM1009.4 205.3h9.6v20.8h-9.6zM1046.6 205.3h9.6v20.8h-9.6zM1065.2 225.8h9.6v20.8h-9.6zM1018.7 266.7h9.6v20.8h-9.6zM1130.3 266.7h9.6v20.8h-9.6zM990.8 287.1h9.6v20.8h-9.6zM1093.1 287.1h9.6v20.8h-9.6zM1204.6 287.1h9.6v20.8h-9.6zM925.8 409.8h9.6v20.8h-9.6z"/>
<path fill="#e0d4a8" d="M944.4 82.7h9.6v20.8h-9.6zM953.7 164.4h18.9v20.8h-18.9zM1111.7 164.4h9.6v20.8h-9.6zM1009.4 184.9h9.6v20.8h-9.6zM1083.8 184.9h9.6v20.8h-9.6zM1121 184.9h9.6v20.8h-9.6zM1148.9 184.9h9.6v20.8h-9.6zM1037.3 287.1h9.6v20.8h-9.6zM1055.9 287.1h18.9v20.8h-18.9zM953.7 307.6h9.6v20.8h-9.6zM1260.4 307.6h9.6v20.8h-9.6zM944.4 450.8h9.6v20.8h-9.6z"/>
<path fill="#cea28e" d="M972.2 82.7h9.6v20.8h-9.6zM1055.9 123.5h9.6v20.8h-9.6zM1083.8 123.5h9.6v20.8h-9.6zM1186.1 368.9h9.6v20.8h-9.6zM981.5 430.3h9.6v20.8h-9.6z"/>
<path fill="#d0aa92" d="M981.5 82.7h9.6v20.8h-9.6zM1167.5 123.5h9.6v20.8h-9.6zM1195.3 123.5h9.6v20.8h-9.6zM1232.5 123.5h9.6v20.8h-9.6zM1028 144h9.6v20.8h-9.6zM1046.6 144h9.6v20.8h-9.6zM1158.2 144h9.6v20.8h-9.6zM1148.9 164.4h9.6v20.8h-9.6zM1009.4 328.1h9.6v20.8h-9.6zM1167.5 348.5h9.6v20.8h-9.6zM1223.2 348.5h9.6v20.8h-9.6zM990.8 389.4h9.6v20.8h-9.6zM1241.8 430.3h9.6v20.8h-9.6z"/>
<path fill="#d0ae94" d="M990.8 82.7h9.6v20.8h-9.6zM1037.3 144h9.6v20.8h-9.6zM1065.2 144h9.6v20.8h-9.6zM1065.2 328.1h18.9v20.8h-18.9zM1158.2 328.1h9.6v20.8h-9.6z"/>
<path fill="#c48882" d="M1000.1 82.7h9.6v20.8h-9.6zM1148.9 123.5h9.6v20.8h-9.6zM1148.9 348.5h9.6v20.8h-9.6z"/>
<path fill="#ba7878" d="M1046.6 82.7h9.6v20.8h-9.6zM1204.6 103.1h9.6v20.8h-9.6zM1018.7 368.9h9.6v20.8h-9.6zM1121 409.8h9.6v20.8h-9.6zM1083.8 450.8h9.6v20.8h-9.6z"/>
<path fill="#c68a84" d="M1065.2 82.7h9.6v20.8h-9.6zM1176.8 82.7h9.6v20.8h-9.6zM1158.2 123.5h9.6v20.8h-9.6zM1204.6 123.5h9.6v20.8h-9.6z"/>
<path fill="#dac4a0" d="M1111.7 82.7h9.6v20.8h-9.6zM962.9 123.5h9.6v20.8h-9.6zM1093.1 123.5h9.6v20.8h-9.6zM981.5 164.4h9.6v20.8h-9.6zM1009.4 164.4h9.6v20.8h-9.6zM1074.5 164.4h9.6v20.8h-9.6zM1186.1 164.4h9.6v20.8h-9.6zM1213.9 164.4h9.6v20.8h-9.6zM1232.5 164.4h9.6v20.8h-9.6zM1037.3 307.6h9.6v20.8h-9.6zM1065.2 307.6h9.6v20.8h-9.6zM1232.5 307.6h9.6v20.8h-9.6zM953.7 389.4h9.6v20.8h-9.6zM1102.4 450.8h9.6v20.8h-9.6z"/>
<path fill="#a46a6a" d="M1158.2 82.7h9.6v20.8h-9.6zM1167.5 430.3h9.6v20.8h-9.6z"/>
<path fill="#ca988a" d="M1186.1 82.7h9.6v20.8h-9.6zM1232.5 103.1h9.6v20.8h-9.6zM1121 123.5h9.6v20.8h-9.6zM1148.9 144h9.6v20.8h-9.6zM1148.9 328.1h9.6v20.8h-9.6zM1046.6 348.5h9.6v20.8h-9.6zM1055.9 368.9h9.6v20.8h-9.6z"/>
<path fill="#b67676" d="M1195.3 82.7h9.6v20.8h-9.6zM1223.2 82.7h9.6v20.8h-9.6z"/>
<path fill="#b87878" d="M1213.9 82.7h9.6v20.8h-9.6zM1000.1 450.8h9.6v20.8h-9.6z"/>
<path fill="#c48480" d="M1232.5 82.7h9.6v20.8h-9.6zM1176.8 389.4h9.6v20.8h-9.6z"/>
<path fill="#d8be9e" d="M1241.8 82.7h9.6v20.8h-9.6zM1176.8 144h9.6v20.8h-9.6zM1018.7 164.4h9.6v20.8h-9.6zM1176.8 328.1h9.6v20.8h-9.6zM962.9 368.9h9.6v20.8h-9.6zM962.9 389.4h9.6v20.8h-9.6zM1241.8 389.4h9.6v20.8h-9.6zM1260.4 409.8h9.6v20.8h-9.6z"/>
<path fill="#dac6a2" d="M1260.4 82.7h18.9v20.8h-18.9zM972.2 328.1h9.6v20.8h-9.6zM1251.1 328.1h9.6v20.8h-9.6z"/>
<path fill="#f4f4dc" d="M1325.5 82.7h9.6v20.8h-9.6zM1297.6 184.9h9.6v20.8h-9.6z"/>
<path fill="#eaeab8" d="M879.3 103.1h9.6v20.8h-9.6zM1334.8 123.5h9.6v20.8h-9.6zM888.6 144h9.6v20.8h-9.6zM1279 164.4h9.6v20.8h-9.6zM1372 184.9h9.6v20.8h-9.6zM981.5 205.3h9.6v20.8h-9.6zM1083.8 205.3h9.6v20.8h-9.6zM1130.3 205.3h18.9v20.8h-18.9zM1158.2 205.3h9.6v20.8h-9.6zM1334.8 348.5h9.6v20.8h-9.6zM851.4 368.9h9.6v20.8h-9.6zM879.3 368.9h9.6v20.8h-9.6zM860.7 430.3h9.6v20.8h-9.6z"/>
<path fill="#e4dcae" d="M944.4 103.1h9.6v20.8h-9.6zM1269.7 144h9.6v20.8h-9.6zM1055.9 184.9h9.6v20.8h-9.6zM1093.1 184.9h9.6v20.8h-9.6zM1186.1 287.1h9.6v20.8h-9.6zM935.1 409.8h9.6v20.8h-9.6z"/>
<path fill="#dccaa2" d="M953.7 103.1h9.6v20.8h-9.6zM1176.8 164.4h9.6v20.8h-9.6zM1009.4 307.6h9.6v20.8h-9.6zM1195.3 307.6h9.6v20.8h-9.6zM1260.4 389.4h9.6v20.8h-9.6z"/>
<path fill="#d6be9c" d="M972.2 103.1h9.6v20.8h-9.6zM981.5 144h9.6v20.8h-9.6zM1046.6 307.6h9.6v20.8h-9.6zM1232.5 328.1h9.6v20.8h-9.6zM972.2 348.5h9.6v20.8h-9.6zM990.8 348.5h9.6v20.8h-9.6zM953.7 409.8h9.6v20.8h-9.6z"/>
<path fill="#cea690" d="M981.5 103.1h9.6v20.8h-9.6zM981.5 409.8h9.6v20.8h-9.6z"/>
<path fill="#cca28e" d="M1000.1 103.1h9.6v20.8h-9.6zM1121 348.5h9.6v20.8h-9.6zM1195.3 348.5h9.6v20.8h-9.6zM1000.1 368.9h9.6v20.8h-9.6z"/>
<path fill="#c48682" d="M1009.4 103.1h9.6v20.8h-9.6zM1213.9 103.1h18.9v20.8h-18.9zM1139.6 123.5h9.6v20.8h-9.6zM1139.6 348.5h9.6v20.8h-9.6zM1000.1 389.4h9.6v20.8h-9.6zM1232.5 430.3h9.6v20.8h-9.6z"/>
<path fill="#c89488" d="M1046.6 103.1h9.6v20.8h-9.6zM1074.5 103.1h9.6v20.8h-9.6zM1065.2 123.5h9.6v20.8h-9.6zM1046.6 368.9h9.6v20.8h-9.6zM1074.5 368.9h9.6v20.8h-9.6zM990.8 430.3h9.6v20.8h-9.6zM981.5 450.8h9.6v20.8h-9.6z"/>
<path fill="#c69086" d="M1065.2 103.1h9.6v20.8h-9.6zM1037.3 123.5h9.6v20.8h-9.6zM1130.3 348.5h9.6v20.8h-9.6zM1009.4 368.9h9.6v20.8h-9.6zM1167.5 368.9h9.6v20.8h-9.6z"/>
<path fill="#c68c84" d="M1083.8 103.1h9.6v20.8h-9.6zM1223.2 368.9h9.6v20.8h-9.6zM990.8 450.8h9.6v20.8h-9.6z"/>
<path fill="#d8c2a0" d="M1093.1 103.1h9.6v20.8h-9.6zM1251.1 103.1h9.6v20.8h-9.6zM1186.1 307.6h9.6v20.8h-9.6zM1213.9 307.6h9.6v20.8h-9.6z"/>
<path fill="#e6e0b0" d="M1102.4 103.1h9.6v20.8h-9.6zM972.2 184.9h9.6v20.8h-9.6zM1074.5 184.9h9.6v20.8h-9.6zM1251.1 184.9h9.6v20.8h-9.6zM1065.2 205.3h9.6v20.8h-9.6zM1065.2 266.7h9.6v20.8h-9.6zM981.5 287.1h9.6v20.8h-9.6zM1213.9 287.1h9.6v20.8h-9.6zM944.4 307.6h9.6v20.8h-9.6zM1102.4 368.9h9.6v20.8h-9.6zM1269.7 450.8h9.6v20.8h-9.6z"/>
<path fill="#c28080" d="M1130.3 103.1h9.6v20.8h-9.6zM1065.2 389.4h9.6v20.8h-9.6zM1083.8 389.4h9.6v20.8h-9.6z"/>
<path fill="#c68e84" d="M1167.5 103.1h9.6v20.8h-9.6z"/>
<path fill="#cc9e8c" d="M1176.8 103.1h9.6v20.8h-9.6zM1009.4 123.5h9.6v20.8h-9.6zM1074.5 123.5h9.6v20.8h-9.6zM1139.6 144h9.6v20.8h-9.6z"/>
<path fill="#cca08e" d="M1186.1 103.1h9.6v20.8h-9.6zM1176.8 123.5h9.6v20.8h-9.6zM1009.4 348.5h9.6v20.8h-9.6zM1176.8 348.5h9.6v20.8h-9.6zM1232.5 368.9h9.6v20.8h-9.6zM972.2 389.4h9.6v20.8h-9.6zM990.8 409.8h9.6v20.8h-9.6zM1241.8 450.8h9.6v20.8h-9.6z"/>
<path fill="#c89286" d="M1195.3 103.1h9.6v20.8h-9.6zM1028 123.5h9.6v20.8h-9.6zM1130.3 123.5h9.6v20.8h-9.6zM1018.7 348.5h9.6v20.8h-9.6zM1037.3 348.5h9.6v20.8h-9.6zM1213.9 348.5h9.6v20.8h-9.6z"/>
<path fill="#dac8a2" d="M1260.4 103.1h9.6v20.8h-9.6zM972.2 123.5h9.6v20.8h-9.6zM1037.3 164.4h9.6v20.8h-9.6zM1167.5 164.4h9.6v20.8h-9.6zM1083.8 307.6h9.6v20.8h-9.6zM1176.8 307.6h9.6v20.8h-9.6zM1204.6 307.6h9.6v20.8h-9.6zM1241.8 307.6h9.6v20.8h-9.6zM990.8 328.1h9.6v20.8h-9.6zM962.9 348.5h9.6v20.8h-9.6zM1102.4 430.3h9.6v20.8h-9.6z"/>
<path fill="#dccca4" d="M1269.7 103.1h9.6v20.8h-9.6zM990.8 144h9.6v20.8h-9.6zM1093.1 144h9.6v20.8h-9.6zM1251.1 144h9.6v20.8h-9.6zM1195.3 164.4h9.6v20.8h-9.6zM1130.3 287.1h9.6v20.8h-9.6zM1000.1 307.6h9.6v20.8h-9.6zM1055.9 307.6h9.6v20.8h-9.6zM962.9 328.1h9.6v20.8h-9.6zM1093.1 328.1h9.6v20.8h-9.6zM1111.7 328.1h9.6v20.8h-9.6zM953.7 348.5h9.6v20.8h-9.6z"/>
<path fill="#f2f2d4" d="M1297.6 103.1h9.6v20.8h-9.6zM1344.1 103.1h9.6v20.8h-9.6zM1306.9 123.5h9.6v20.8h-9.6zM1288.3 144h9.6v20.8h-9.6zM907.2 164.4h9.6v20.8h-9.6zM907.2 184.9h9.6v20.8h-9.6zM842.1 205.3h9.6v20.8h-9.6zM842.1 266.7h9.6v20.8h-9.6zM1288.3 287.1h9.6v20.8h-9.6zM1306.9 348.5h9.6v20.8h-9.6zM888.6 368.9h9.6v20.8h-9.6zM1306.9 368.9h9.6v20.8h-9.6zM1306.9 430.3h9.6v20.8h-9.6zM1353.4 430.3h9.6v20.8h-9.6zM1362.7 450.8h18.9v20.8h-18.9z"/>
<path fill="#eaeabc" d="M907.2 123.5h9.6v20.8h-9.6zM935.1 144h9.6v20.8h-9.6zM842.1 164.4h9.6v20.8h-9.6zM888.6 164.4h9.6v20.8h-9.6zM1381.3 164.4h9.6v20.8h-9.6zM1037.3 225.8h9.6v20.8h-9.6zM1121 225.8h9.6v20.8h-9.6zM1000.1 266.7h9.6v20.8h-9.6zM1102.4 266.7h9.6v20.8h-9.6zM1186.1 266.7h9.6v20.8h-9.6zM1102.4 287.1h9.6v20.8h-9.6zM1279 328.1h9.6v20.8h-9.6zM870 348.5h9.6v20.8h-9.6zM925.8 368.9h9.6v20.8h-9.6zM916.5 389.4h9.6v20.8h-9.6z"/>
<path fill="#dccaa4" d="M953.7 123.5h9.6v20.8h-9.6zM1269.7 123.5h9.6v20.8h-9.6zM962.9 144h9.6v20.8h-9.6zM1000.1 164.4h9.6v20.8h-9.6zM1093.1 307.6h9.6v20.8h-9.6zM1260.4 328.1h9.6v20.8h-9.6z"/>
<path fill="#decea4" d="M1111.7 123.5h9.6v20.8h-9.6zM1260.4 144h9.6v20.8h-9.6zM1204.6 164.4h9.6v20.8h-9.6zM1158.2 184.9h9.6v20.8h-9.6zM962.9 307.6h9.6v20.8h-9.6zM981.5 307.6h9.6v20.8h-9.6zM944.4 389.4h9.6v20.8h-9.6zM944.4 409.8h9.6v20.8h-9.6z"/>
<path fill="#c89086" d="M1213.9 123.5h9.6v20.8h-9.6zM1158.2 348.5h9.6v20.8h-9.6zM1195.3 368.9h9.6v20.8h-9.6zM1232.5 389.4h9.6v20.8h-9.6zM1121 450.8h9.6v20.8h-9.6z"/>
<path fill="#dac6a0" d="M1251.1 123.5h9.6v20.8h-9.6zM972.2 144h9.6v20.8h-9.6zM981.5 328.1h9.6v20.8h-9.6zM1260.4 430.3h9.6v20.8h-9.6z"/>
<path fill="#dcc8a2" d="M1260.4 123.5h9.6v20.8h-9.6zM1055.9 164.4h9.6v20.8h-9.6zM1167.5 307.6h9.6v20.8h-9.6zM1093.1 348.5h9.6v20.8h-9.6zM1269.7 389.4h9.6v20.8h-9.6z"/>
<path fill="#e4dcac" d="M944.4 144h9.6v20.8h-9.6zM944.4 164.4h9.6v20.8h-9.6zM1111.7 184.9h9.6v20.8h-9.6zM1195.3 184.9h9.6v20.8h-9.6zM1083.8 287.1h9.6v20.8h-9.6zM1195.3 287.1h9.6v20.8h-9.6z"/>
<path fill="#cea892" d="M1121 144h9.6v20.8h-9.6zM1028 328.1h9.6v20.8h-9.6zM1130.3 328.1h9.6v20.8h-9.6z"/>
<path fill="#d4b89a" d="M1167.5 144h9.6v20.8h-9.6zM972.2 409.8h9.6v20.8h-9.6zM1251.1 450.8h9.6v20.8h-9.6z"/>
<path fill="#e2daac" d="M990.8 164.4h9.6v20.8h-9.6zM1000.1 184.9h9.6v20.8h-9.6zM1018.7 184.9h9.6v20.8h-9.6zM1186.1 184.9h9.6v20.8h-9.6zM1241.8 184.9h9.6v20.8h-9.6zM1009.4 287.1h9.6v20.8h-9.6zM1241.8 287.1h9.6v20.8h-9.6z"/>
<path fill="#d4b69a" d="M1028 164.4h9.6v20.8h-9.6zM1093.1 409.8h9.6v20.8h-9.6z"/>
<path fill="#f6f6e0" d="M1297.6 164.4h9.6v20.8h-9.6z"/>
<path fill="#e2d8aa" d="M1232.5 184.9h9.6v20.8h-9.6zM1121 287.1h9.6v20.8h-9.6zM944.4 348.5h9.6v20.8h-9.6zM944.4 368.9h9.6v20.8h-9.6z"/>
<path fill="#e6e4b0" d="M1260.4 184.9h9.6v20.8h-9.6z"/>
<path fill="#f2f2d6" d="M1288.3 266.7h9.6v20.8h-9.6zM1372 328.1h9.6v20.8h-9.6zM1353.4 450.8h9.6v20.8h-9.6z"/>
<path fill="#e4e0ae" d="M1000.1 287.1h9.6v20.8h-9.6zM1167.5 287.1h9.6v20.8h-9.6zM1232.5 287.1h9.6v20.8h-9.6z"/>
<path fill="#e0d2a8" d="M1018.7 287.1h18.9v20.8h-18.9zM1046.6 287.1h9.6v20.8h-9.6zM1158.2 287.1h9.6v20.8h-9.6zM972.2 307.6h9.6v20.8h-9.6zM1102.4 389.4h9.6v20.8h-9.6z"/>
<path fill="#e2dcac" d="M1269.7 307.6h9.6v20.8h-9.6zM944.4 328.1h9.6v20.8h-9.6z"/>
<path fill="#f4f4da" d="M1297.6 307.6h9.6v20.8h-9.6z"/>
<path fill="#cc9e8e" d="M1139.6 328.1h9.6v20.8h-9.6z"/>
<path fill="#cc9c8c" d="M1055.9 348.5h18.9v20.8h-18.9zM1176.8 368.9h9.6v20.8h-9.6zM1093.1 450.8h9.6v20.8h-9.6z"/>
<path fill="#d0a892" d="M1083.8 348.5h9.6v20.8h-9.6zM1232.5 348.5h9.6v20.8h-9.6z"/>
<path fill="#c07c7c" d="M1130.3 368.9h9.6v20.8h-9.6zM1083.8 409.8h9.6v20.8h-9.6z"/>
<path fill="#b07272" d="M1139.6 368.9h9.6v20.8h-9.6zM1009.4 389.4h9.6v20.8h-9.6zM1037.3 389.4h9.6v20.8h-9.6zM1065.2 409.8h9.6v20.8h-9.6z"/>
<path fill="#a86e6e" d="M1139.6 389.4h9.6v20.8h-9.6zM1204.6 389.4h9.6v20.8h-9.6zM1055.9 409.8h9.6v20.8h-9.6zM1055.9 430.3h9.6v20.8h-9.6zM1130.3 450.8h9.6v20.8h-9.6z"/>
<path fill="#b87676" d="M1213.9 389.4h9.6v20.8h-9.6z"/>
<path fill="#b47474" d="M1223.2 389.4h9.6v20.8h-9.6zM1167.5 409.8h9.6v20.8h-9.6z"/>
<path fill="#966060" d="M1158.2 409.8h9.6v20.8h-9.6zM1176.8 450.8h9.6v20.8h-9.6z"/>
<path fill="#8c5a5a" d="M1018.7 430.3h9.6v20.8h-9.6zM1195.3 430.3h9.6v20.8h-9.6zM1028 450.8h9.6v20.8h-9.6zM1167.5 450.8h9.6v20.8h-9.6z"/>
<path fill="#825454" d="M1028 430.3h9.6v20.8h-9.6z"/>
<path fill="#945e5e" d="M1139.6 430.3h9.6v20.8h-9.6z"/>
<path fill="#623e3e" d="M1204.6 430.3h9.6v20.8h-9.6z"/>
<path fill="#f6f6e2" d="M1325.5 430.3h9.6v20.8h-9.6z"/>
<path fill="#946060" d="M1018.7 450.8h9.6v20.8h-9.6z"/>
<path fill="#7e5050" d="M1158.2 450.8h9.6v20.8h-9.6z"/>
<path fill="#744a4a" d="M1195.3 450.8h9.6v20.8h-9.6z"/>
<path fill="#503030" d="M1204.6 450.8h9.6v20.8h-9.6z"/>
<path fill="#664040" d="M1213.9 450.8h9.6v20.8h-9.6z"/>
<path fill="#f4f4de" d="M1306.9 450.8h9.6v20.8h-9.6z"/>
<path fill="#f8f8e8" d="M1325.5 450.8h9.6v20.8h-9.6z"/>
</g>
<line x1="841" y1="230.7" x2="1391" y2="230.7" stroke="#000" stroke-width="4" stroke-dasharray="3.6 9.114"/>
<line x1="841" y1="282.9" x2="1391" y2="282.9" stroke="#000" stroke-width="4" stroke-dasharray="3.6 9.114"/>
<line x1="841" y1="52.515" x2="851" y2="52.515" stroke="#222" stroke-width="1"/>
<line x1="841" y1="154.665" x2="851" y2="154.665" stroke="#222" stroke-width="1"/>
<line x1="841" y1="256.815" x2="851" y2="256.815" stroke="#222" stroke-width="1"/>
<line x1="841" y1="358.965" x2="851" y2="358.965" stroke="#222" stroke-width="1"/>
<line x1="841" y1="461.115" x2="851" y2="461.115" stroke="#222" stroke-width="1"/>
<line x1="917.42" y1="461.4" x2="917.42" y2="471.4" stroke="#222" stroke-width="1"/>
<line x1="1012.46" y1="461.4" x2="1012.46" y2="471.4" stroke="#222" stroke-width="1"/>
<line x1="1107.5" y1="461.4" x2="1107.5" y2="471.4" stroke="#222" stroke-width="1"/>
<line x1="1202.54" y1="461.4" x2="1202.54" y2="471.4" stroke="#222" stroke-width="1"/>
<line x1="1297.58" y1="461.4" x2="1297.58" y2="471.4" stroke="#222" stroke-width="1"/>
<line x1="840.5" y1="42.3" x2="1392" y2="42.3" stroke="#000" stroke-width="1"/>
<line x1="840.5" y1="471.4" x2="1392" y2="471.4" stroke="#000" stroke-width="1.1"/>
<line x1="841" y1="41.8" x2="841" y2="471.9" stroke="#000" stroke-width="1"/>
<line x1="1391.5" y1="41.8" x2="1391.5" y2="471.9" stroke="#000" stroke-width="1"/>
<text x="829" y="61.915" text-anchor="end">10</text>
<text x="829" y="164.065" text-anchor="end">5</text>
<text x="829" y="266.215" text-anchor="end">0</text>
<text x="829" y="368.365" text-anchor="end">−5</text>
<text x="829" y="470.515" text-anchor="end">−10</text>
<text x="915.12" y="504" text-anchor="middle">−2</text>
<text x="1010.16" y="504" text-anchor="middle">−1</text>
<text x="1106.2" y="504" text-anchor="middle">0</text>
<text x="1201.24" y="504" text-anchor="middle">1</text>
<text x="1296.28" y="504" text-anchor="middle">2</text>
<text x="1391.32" y="504" text-anchor="middle">3</text>
<text x="1098.2" y="542.8" font-style="italic">v<tspan font-style="normal" font-size="19" dx="-2" dy="8.3">TG</tspan></text>
<text transform="translate(755.6 310.2) rotate(-90)"><tspan font-style="italic">V</tspan><tspan font-size="19.5" dx="-5.6" dy="8" letter-spacing="0.75">d.c.</tspan><tspan dx="2.0" dy="-8" letter-spacing="-0.4"> (mV)</tspan></text>
<text x="732" y="24.5" font-weight="bold" font-size="32">b</text>
<text x="996.6" y="23.2" font-size="29.7">ΔGap (meV)</text>
<text x="1217.6" y="26.4" text-anchor="end" font-size="29.7">−4</text>
<text x="1354.5" y="26.4" font-size="29.7">1</text>
<defs><linearGradient id="gb" x1="0" x2="1" y1="0" y2="0"><stop offset="0%" stop-color="#1e0000"/><stop offset="5%" stop-color="#4b2d2d"/><stop offset="10%" stop-color="#684141"/><stop offset="15%" stop-color="#7e5050"/><stop offset="20%" stop-color="#915d5d"/><stop offset="25%" stop-color="#a16868"/><stop offset="30%" stop-color="#af7272"/><stop offset="35%" stop-color="#bd7b7b"/><stop offset="40%" stop-color="#c68b84"/><stop offset="45%" stop-color="#cb9c8c"/><stop offset="50%" stop-color="#d0ac94"/><stop offset="55%" stop-color="#d5b99a"/><stop offset="60%" stop-color="#dac6a1"/><stop offset="65%" stop-color="#dfd3a8"/><stop offset="70%" stop-color="#e4dfae"/><stop offset="75%" stop-color="#e9e9b6"/><stop offset="80%" stop-color="#ededc6"/><stop offset="85%" stop-color="#f2f2d6"/><stop offset="90%" stop-color="#f7f7e5"/><stop offset="95%" stop-color="#fbfbf3"/><stop offset="100%" stop-color="#ffffff"/></linearGradient></defs>
<rect x="1230.4" y="1.8" width="117.5" height="28.6" fill="url(#gb)" stroke="#000" stroke-width="1.1"/>
<line x1="1560.5" y1="167.2" x2="1570.5" y2="167.2" stroke="#555" stroke-width="1"/>
<line x1="1560.5" y1="288.9" x2="1570.5" y2="288.9" stroke="#555" stroke-width="1"/>
<line x1="1560.5" y1="410.6" x2="1570.5" y2="410.6" stroke="#555" stroke-width="1"/>
<line x1="1636.71" y1="461.2" x2="1636.71" y2="471.4" stroke="#222" stroke-width="1"/>
<line x1="1731.89" y1="461.2" x2="1731.89" y2="471.4" stroke="#222" stroke-width="1"/>
<line x1="1827.07" y1="461.2" x2="1827.07" y2="471.4" stroke="#222" stroke-width="1"/>
<line x1="1922.25" y1="461.2" x2="1922.25" y2="471.4" stroke="#222" stroke-width="1"/>
<line x1="2017.43" y1="461.2" x2="2017.43" y2="471.4" stroke="#222" stroke-width="1"/>
<g fill="#0072bd"><circle cx="1567.8" cy="154.9" r="7.8"/><circle cx="1577.1" cy="164.8" r="7.8"/><circle cx="1586.3" cy="163.5" r="7.8"/><circle cx="1595.6" cy="159.8" r="7.8"/><circle cx="1604.8" cy="163.5" r="7.8"/><circle cx="1614.1" cy="164.8" r="7.8"/><circle cx="1623.3" cy="163.5" r="7.8"/><circle cx="1632.6" cy="156.9" r="7.8"/><circle cx="1641.9" cy="160.9" r="7.8"/><circle cx="1651.1" cy="158.9" r="7.8"/><circle cx="1660.4" cy="158.2" r="7.8"/><circle cx="1669.6" cy="167.5" r="7.8"/><circle cx="1678.9" cy="174.7" r="7.8"/><circle cx="1688.1" cy="172.1" r="7.8"/><circle cx="1697.4" cy="182.7" r="7.8"/><circle cx="1706.7" cy="181.4" r="7.8"/><circle cx="1715.9" cy="157.6" r="7.8"/><circle cx="1725.2" cy="178.1" r="7.8"/><circle cx="1734.4" cy="187.3" r="7.8"/><circle cx="1743.7" cy="180.0" r="7.8"/><circle cx="1752.9" cy="176.1" r="7.8"/><circle cx="1762.2" cy="175.2" r="7.8"/><circle cx="1771.5" cy="188.0" r="7.8"/><circle cx="1780.7" cy="175.4" r="7.8"/><circle cx="1790.0" cy="194.6" r="7.8"/><circle cx="1799.2" cy="168.8" r="7.8"/><circle cx="1808.5" cy="180.7" r="7.8"/><circle cx="1817.7" cy="189.9" r="7.8"/><circle cx="1827.0" cy="160.2" r="7.8"/><circle cx="1836.3" cy="189.7" r="7.8"/><circle cx="1845.5" cy="183.3" r="7.8"/><circle cx="1854.8" cy="181.4" r="7.8"/><circle cx="1864.0" cy="180.7" r="7.8"/><circle cx="1873.3" cy="173.4" r="7.8"/><circle cx="1882.5" cy="180.7" r="7.8"/><circle cx="1891.8" cy="158.2" r="7.8"/><circle cx="1901.1" cy="164.2" r="7.8"/><circle cx="1910.3" cy="178.7" r="7.8"/><circle cx="1919.6" cy="171.4" r="7.8"/><circle cx="1928.8" cy="160.9" r="7.8"/><circle cx="1938.1" cy="162.2" r="7.8"/><circle cx="1947.3" cy="166.2" r="7.8"/><circle cx="1956.6" cy="170.8" r="7.8"/><circle cx="1965.9" cy="171.4" r="7.8"/><circle cx="1975.1" cy="173.4" r="7.8"/><circle cx="1984.4" cy="163.5" r="7.8"/><circle cx="1993.6" cy="170.8" r="7.8"/><circle cx="2002.9" cy="168.2" r="7.8"/><circle cx="2012.1" cy="156.2" r="7.8"/><circle cx="2021.4" cy="165.2" r="7.8"/><circle cx="2030.6" cy="168.2" r="7.8"/><circle cx="2039.9" cy="168.2" r="7.8"/><circle cx="2049.2" cy="165.2" r="7.8"/><circle cx="2058.4" cy="166.2" r="7.8"/><circle cx="2067.7" cy="170.2" r="7.8"/><circle cx="2076.9" cy="178.2" r="7.8"/><circle cx="2086.2" cy="170.2" r="7.8"/><circle cx="2095.4" cy="176.2" r="7.8"/><circle cx="2104.7" cy="160.2" r="7.8"/></g>
<g fill="#d95319"><circle cx="1567.8" cy="177.4" r="7.8"/><circle cx="1577.1" cy="170.2" r="7.8"/><circle cx="1586.3" cy="176.2" r="7.8"/><circle cx="1595.6" cy="171.2" r="7.8"/><circle cx="1604.8" cy="176.2" r="7.8"/><circle cx="1614.1" cy="177.2" r="7.8"/><circle cx="1623.3" cy="178.1" r="7.8"/><circle cx="1632.6" cy="154.2" r="7.8"/><circle cx="1641.9" cy="160.2" r="7.8"/><circle cx="1651.1" cy="165.2" r="7.8"/><circle cx="1660.4" cy="174.7" r="7.8"/><circle cx="1669.6" cy="201.4" r="7.8"/><circle cx="1678.9" cy="210.0" r="7.8"/><circle cx="1688.1" cy="210.7" r="7.8"/><circle cx="1697.4" cy="216.6" r="7.8"/><circle cx="1706.7" cy="230.5" r="7.8"/><circle cx="1715.9" cy="205.1" r="7.8"/><circle cx="1725.2" cy="223.9" r="7.8"/><circle cx="1734.4" cy="230.5" r="7.8"/><circle cx="1743.7" cy="238.4" r="7.8"/><circle cx="1752.9" cy="246.4" r="7.8"/><circle cx="1762.2" cy="227.2" r="7.8"/><circle cx="1771.5" cy="236.4" r="7.8"/><circle cx="1780.7" cy="225.9" r="7.8"/><circle cx="1790.0" cy="233.8" r="7.8"/><circle cx="1799.2" cy="232.5" r="7.8"/><circle cx="1808.5" cy="234.5" r="7.8"/><circle cx="1817.7" cy="216.6" r="7.8"/><circle cx="1827.0" cy="178.1" r="7.8"/><circle cx="1836.3" cy="210.0" r="7.8"/><circle cx="1845.5" cy="248.3" r="7.8"/><circle cx="1854.8" cy="253.0" r="7.8"/><circle cx="1864.0" cy="248.3" r="7.8"/><circle cx="1873.3" cy="260.2" r="7.8"/><circle cx="1882.5" cy="248.3" r="7.8"/><circle cx="1891.8" cy="227.6" r="7.8"/><circle cx="1901.1" cy="224.6" r="7.8"/><circle cx="1910.3" cy="231.2" r="7.8"/><circle cx="1919.6" cy="222.6" r="7.8"/><circle cx="1928.8" cy="219.9" r="7.8"/><circle cx="1938.1" cy="232.5" r="7.8"/><circle cx="1947.3" cy="218.3" r="7.8"/><circle cx="1956.6" cy="232.5" r="7.8"/><circle cx="1965.9" cy="235.2" r="7.8"/><circle cx="1975.1" cy="214.4" r="7.8"/><circle cx="1984.4" cy="208.0" r="7.8"/><circle cx="1993.6" cy="192.6" r="7.8"/><circle cx="2002.9" cy="180.7" r="7.8"/><circle cx="2012.1" cy="159.6" r="7.8"/><circle cx="2021.4" cy="142.0" r="7.8"/><circle cx="2030.6" cy="165.2" r="7.8"/><circle cx="2039.9" cy="173.4" r="7.8"/><circle cx="2049.2" cy="160.2" r="7.8"/><circle cx="2058.4" cy="165.2" r="7.8"/><circle cx="2067.7" cy="167.2" r="7.8"/><circle cx="2076.9" cy="174.8" r="7.8"/><circle cx="2086.2" cy="170.2" r="7.8"/><circle cx="2095.4" cy="170.2" r="7.8"/><circle cx="2104.7" cy="176.7" r="7.8"/></g>
<g fill="#edb120"><circle cx="1567.8" cy="170.2" r="7.8"/><circle cx="1577.1" cy="185.2" r="7.8"/><circle cx="1586.3" cy="168.8" r="7.8"/><circle cx="1595.6" cy="170.2" r="7.8"/><circle cx="1604.8" cy="172.2" r="7.8"/><circle cx="1614.1" cy="179.2" r="7.8"/><circle cx="1623.3" cy="163.2" r="7.8"/><circle cx="1632.6" cy="176.7" r="7.8"/><circle cx="1641.9" cy="170.2" r="7.8"/><circle cx="1651.1" cy="171.4" r="7.8"/><circle cx="1660.4" cy="182.0" r="7.8"/><circle cx="1669.6" cy="208.0" r="7.8"/><circle cx="1678.9" cy="223.2" r="7.8"/><circle cx="1688.1" cy="231.2" r="7.8"/><circle cx="1697.4" cy="227.2" r="7.8"/><circle cx="1706.7" cy="247.0" r="7.8"/><circle cx="1715.9" cy="242.4" r="7.8"/><circle cx="1725.2" cy="248.3" r="7.8"/><circle cx="1734.4" cy="272.4" r="7.8"/><circle cx="1743.7" cy="279.0" r="7.8"/><circle cx="1752.9" cy="283.6" r="7.8"/><circle cx="1762.2" cy="284.9" r="7.8"/><circle cx="1771.5" cy="279.0" r="7.8"/><circle cx="1780.7" cy="267.1" r="7.8"/><circle cx="1790.0" cy="281.0" r="7.8"/><circle cx="1799.2" cy="272.4" r="7.8"/><circle cx="1808.5" cy="267.1" r="7.8"/><circle cx="1817.7" cy="232.5" r="7.8"/><circle cx="1827.0" cy="185.3" r="7.8"/><circle cx="1836.3" cy="220.3" r="7.8"/><circle cx="1845.5" cy="276.6" r="7.8"/><circle cx="1854.8" cy="283.6" r="7.8"/><circle cx="1864.0" cy="292.2" r="7.8"/><circle cx="1873.3" cy="291.5" r="7.8"/><circle cx="1882.5" cy="290.2" r="7.8"/><circle cx="1891.8" cy="258.9" r="7.8"/><circle cx="1901.1" cy="269.7" r="7.8"/><circle cx="1910.3" cy="266.4" r="7.8"/><circle cx="1919.6" cy="259.8" r="7.8"/><circle cx="1928.8" cy="290.2" r="7.8"/><circle cx="1938.1" cy="284.3" r="7.8"/><circle cx="1947.3" cy="257.8" r="7.8"/><circle cx="1956.6" cy="260.5" r="7.8"/><circle cx="1965.9" cy="240.2" r="7.8"/><circle cx="1975.1" cy="229.8" r="7.8"/><circle cx="1984.4" cy="225.9" r="7.8"/><circle cx="1993.6" cy="223.2" r="7.8"/><circle cx="2002.9" cy="178.1" r="7.8"/><circle cx="2012.1" cy="165.2" r="7.8"/><circle cx="2021.4" cy="165.2" r="7.8"/><circle cx="2030.6" cy="153.6" r="7.8"/><circle cx="2039.9" cy="170.2" r="7.8"/><circle cx="2049.2" cy="159.6" r="7.8"/><circle cx="2058.4" cy="181.4" r="7.8"/><circle cx="2067.7" cy="165.2" r="7.8"/><circle cx="2076.9" cy="156.9" r="7.8"/><circle cx="2086.2" cy="172.2" r="7.8"/><circle cx="2095.4" cy="168.2" r="7.8"/><circle cx="2104.7" cy="170.2" r="7.8"/></g>
<g fill="#7e2f8e"><circle cx="1567.8" cy="166.2" r="7.8"/><circle cx="1577.1" cy="182.0" r="7.8"/><circle cx="1586.3" cy="175.2" r="7.8"/><circle cx="1595.6" cy="170.2" r="7.8"/><circle cx="1604.8" cy="188.4" r="7.8"/><circle cx="1614.1" cy="174.2" r="7.8"/><circle cx="1623.3" cy="167.2" r="7.8"/><circle cx="1632.6" cy="163.5" r="7.8"/><circle cx="1641.9" cy="182.0" r="7.8"/><circle cx="1651.1" cy="186.0" r="7.8"/><circle cx="1660.4" cy="190.2" r="7.8"/><circle cx="1669.6" cy="212.0" r="7.8"/><circle cx="1678.9" cy="236.4" r="7.8"/><circle cx="1688.1" cy="241.1" r="7.8"/><circle cx="1697.4" cy="267.8" r="7.8"/><circle cx="1706.7" cy="259.2" r="7.8"/><circle cx="1715.9" cy="256.5" r="7.8"/><circle cx="1725.2" cy="291.5" r="7.8"/><circle cx="1734.4" cy="302.8" r="7.8"/><circle cx="1743.7" cy="321.2" r="7.8"/><circle cx="1752.9" cy="322.6" r="7.8"/><circle cx="1762.2" cy="317.3" r="7.8"/><circle cx="1771.5" cy="308.1" r="7.8"/><circle cx="1780.7" cy="298.8" r="7.8"/><circle cx="1790.0" cy="290.2" r="7.8"/><circle cx="1799.2" cy="300.8" r="7.8"/><circle cx="1808.5" cy="305.8" r="7.8"/><circle cx="1817.7" cy="242.4" r="7.8"/><circle cx="1827.0" cy="208.0" r="7.8"/><circle cx="1836.3" cy="231.2" r="7.8"/><circle cx="1845.5" cy="306.1" r="7.8"/><circle cx="1854.8" cy="318.0" r="7.8"/><circle cx="1864.0" cy="321.3" r="7.8"/><circle cx="1873.3" cy="343.7" r="7.8"/><circle cx="1882.5" cy="331.4" r="7.8"/><circle cx="1891.8" cy="304.8" r="7.8"/><circle cx="1901.1" cy="289.8" r="7.8"/><circle cx="1910.3" cy="277.7" r="7.8"/><circle cx="1919.6" cy="312.9" r="7.8"/><circle cx="1928.8" cy="329.7" r="7.8"/><circle cx="1938.1" cy="310.7" r="7.8"/><circle cx="1947.3" cy="312.4" r="7.8"/><circle cx="1956.6" cy="294.8" r="7.8"/><circle cx="1965.9" cy="238.4" r="7.8"/><circle cx="1975.1" cy="240.2" r="7.8"/><circle cx="1984.4" cy="228.5" r="7.8"/><circle cx="1993.6" cy="228.5" r="7.8"/><circle cx="2002.9" cy="170.2" r="7.8"/><circle cx="2012.1" cy="165.2" r="7.8"/><circle cx="2021.4" cy="163.5" r="7.8"/><circle cx="2030.6" cy="160.2" r="7.8"/><circle cx="2039.9" cy="162.2" r="7.8"/><circle cx="2049.2" cy="146.3" r="7.8"/><circle cx="2058.4" cy="157.2" r="7.8"/><circle cx="2067.7" cy="162.2" r="7.8"/><circle cx="2076.9" cy="160.2" r="7.8"/><circle cx="2086.2" cy="167.5" r="7.8"/><circle cx="2095.4" cy="170.2" r="7.8"/><circle cx="2104.7" cy="166.2" r="7.8"/></g>
<g fill="#77ac30"><circle cx="1567.8" cy="162.2" r="7.8"/><circle cx="1577.1" cy="178.7" r="7.8"/><circle cx="1586.3" cy="172.1" r="7.8"/><circle cx="1595.6" cy="165.5" r="7.8"/><circle cx="1604.8" cy="172.8" r="7.8"/><circle cx="1614.1" cy="165.5" r="7.8"/><circle cx="1623.3" cy="170.8" r="7.8"/><circle cx="1632.6" cy="149.6" r="7.8"/><circle cx="1641.9" cy="168.8" r="7.8"/><circle cx="1651.1" cy="183.3" r="7.8"/><circle cx="1660.4" cy="192.7" r="7.8"/><circle cx="1669.6" cy="215.3" r="7.8"/><circle cx="1678.9" cy="247.0" r="7.8"/><circle cx="1688.1" cy="256.2" r="7.8"/><circle cx="1697.4" cy="257.7" r="7.8"/><circle cx="1706.7" cy="276.3" r="7.8"/><circle cx="1715.9" cy="279.6" r="7.8"/><circle cx="1725.2" cy="301.4" r="7.8"/><circle cx="1734.4" cy="329.4" r="7.8"/><circle cx="1743.7" cy="335.4" r="7.8"/><circle cx="1752.9" cy="343.3" r="7.8"/><circle cx="1762.2" cy="351.9" r="7.8"/><circle cx="1771.5" cy="356.5" r="7.8"/><circle cx="1780.7" cy="343.3" r="7.8"/><circle cx="1790.0" cy="341.3" r="7.8"/><circle cx="1799.2" cy="321.0" r="7.8"/><circle cx="1808.5" cy="305.4" r="7.8"/><circle cx="1817.7" cy="252.3" r="7.8"/><circle cx="1827.0" cy="219.0" r="7.8"/><circle cx="1836.3" cy="237.1" r="7.8"/><circle cx="1845.5" cy="299.7" r="7.8"/><circle cx="1854.8" cy="334.7" r="7.8"/><circle cx="1864.0" cy="339.4" r="7.8"/><circle cx="1873.3" cy="359.4" r="7.8"/><circle cx="1882.5" cy="358.5" r="7.8"/><circle cx="1891.8" cy="332.8" r="7.8"/><circle cx="1901.1" cy="337.6" r="7.8"/><circle cx="1910.3" cy="323.5" r="7.8"/><circle cx="1919.6" cy="349.3" r="7.8"/><circle cx="1928.8" cy="379.7" r="7.8"/><circle cx="1938.1" cy="367.1" r="7.8"/><circle cx="1947.3" cy="342.3" r="7.8"/><circle cx="1956.6" cy="298.8" r="7.8"/><circle cx="1965.9" cy="248.3" r="7.8"/><circle cx="1975.1" cy="247.0" r="7.8"/><circle cx="1984.4" cy="240.4" r="7.8"/><circle cx="1993.6" cy="217.6" r="7.8"/><circle cx="2002.9" cy="174.1" r="7.8"/><circle cx="2012.1" cy="166.2" r="7.8"/><circle cx="2021.4" cy="172.1" r="7.8"/><circle cx="2030.6" cy="157.6" r="7.8"/><circle cx="2039.9" cy="157.6" r="7.8"/><circle cx="2049.2" cy="137.8" r="7.8"/><circle cx="2058.4" cy="160.9" r="7.8"/><circle cx="2067.7" cy="156.9" r="7.8"/><circle cx="2076.9" cy="160.2" r="7.8"/><circle cx="2086.2" cy="157.6" r="7.8"/><circle cx="2095.4" cy="157.6" r="7.8"/><circle cx="2104.7" cy="164.2" r="7.8"/></g>
<line x1="1560" y1="45.4" x2="2113" y2="45.4" stroke="#000" stroke-width="1"/>
<line x1="1560" y1="471.4" x2="2113" y2="471.4" stroke="#000" stroke-width="1.1"/>
<line x1="1560.5" y1="44.9" x2="1560.5" y2="471.9" stroke="#000" stroke-width="1"/>
<line x1="2112.5" y1="44.9" x2="2112.5" y2="471.9" stroke="#000" stroke-width="1"/>
<text x="1548.5" y="53.6" text-anchor="end">2</text>
<text x="1548.5" y="175.3" text-anchor="end">0</text>
<text x="1548.5" y="297" text-anchor="end">−2</text>
<text x="1548.5" y="418.7" text-anchor="end">−4</text>
<text x="1634.51" y="504" text-anchor="middle">−2</text>
<text x="1729.69" y="504" text-anchor="middle">−1</text>
<text x="1825.87" y="504" text-anchor="middle">0</text>
<text x="1921.05" y="504" text-anchor="middle">1</text>
<text x="2016.23" y="504" text-anchor="middle">2</text>
<text x="2111.41" y="504" text-anchor="middle">3</text>
<text x="1818.6" y="542" font-style="italic">v<tspan font-style="normal" font-size="19" dx="-2" dy="8.3">TG</tspan></text>
<text transform="translate(1491.3 332.2) rotate(-90)" font-size="27.5">ΔGap (meV)</text>
<text x="1466.3" y="24.5" font-weight="bold" font-size="31.5">c</text>
<circle cx="1596" cy="305" r="7.8" fill="#0072bd"/>
<text x="1616" y="314.5">2 mV</text>
<circle cx="1596" cy="337.3" r="7.8" fill="#d95319"/>
<text x="1616" y="346.8">4 mV</text>
<circle cx="1596" cy="369.6" r="7.8" fill="#edb120"/>
<text x="1616" y="379.1">6 mV</text>
<circle cx="1596" cy="401.9" r="7.8" fill="#7e2f8e"/>
<text x="1616" y="411.4">8 mV</text>
<circle cx="1596" cy="434.2" r="7.8" fill="#77ac30"/>
<text x="1616" y="443.7">10 mV</text>
</svg>
</body>
</html>
